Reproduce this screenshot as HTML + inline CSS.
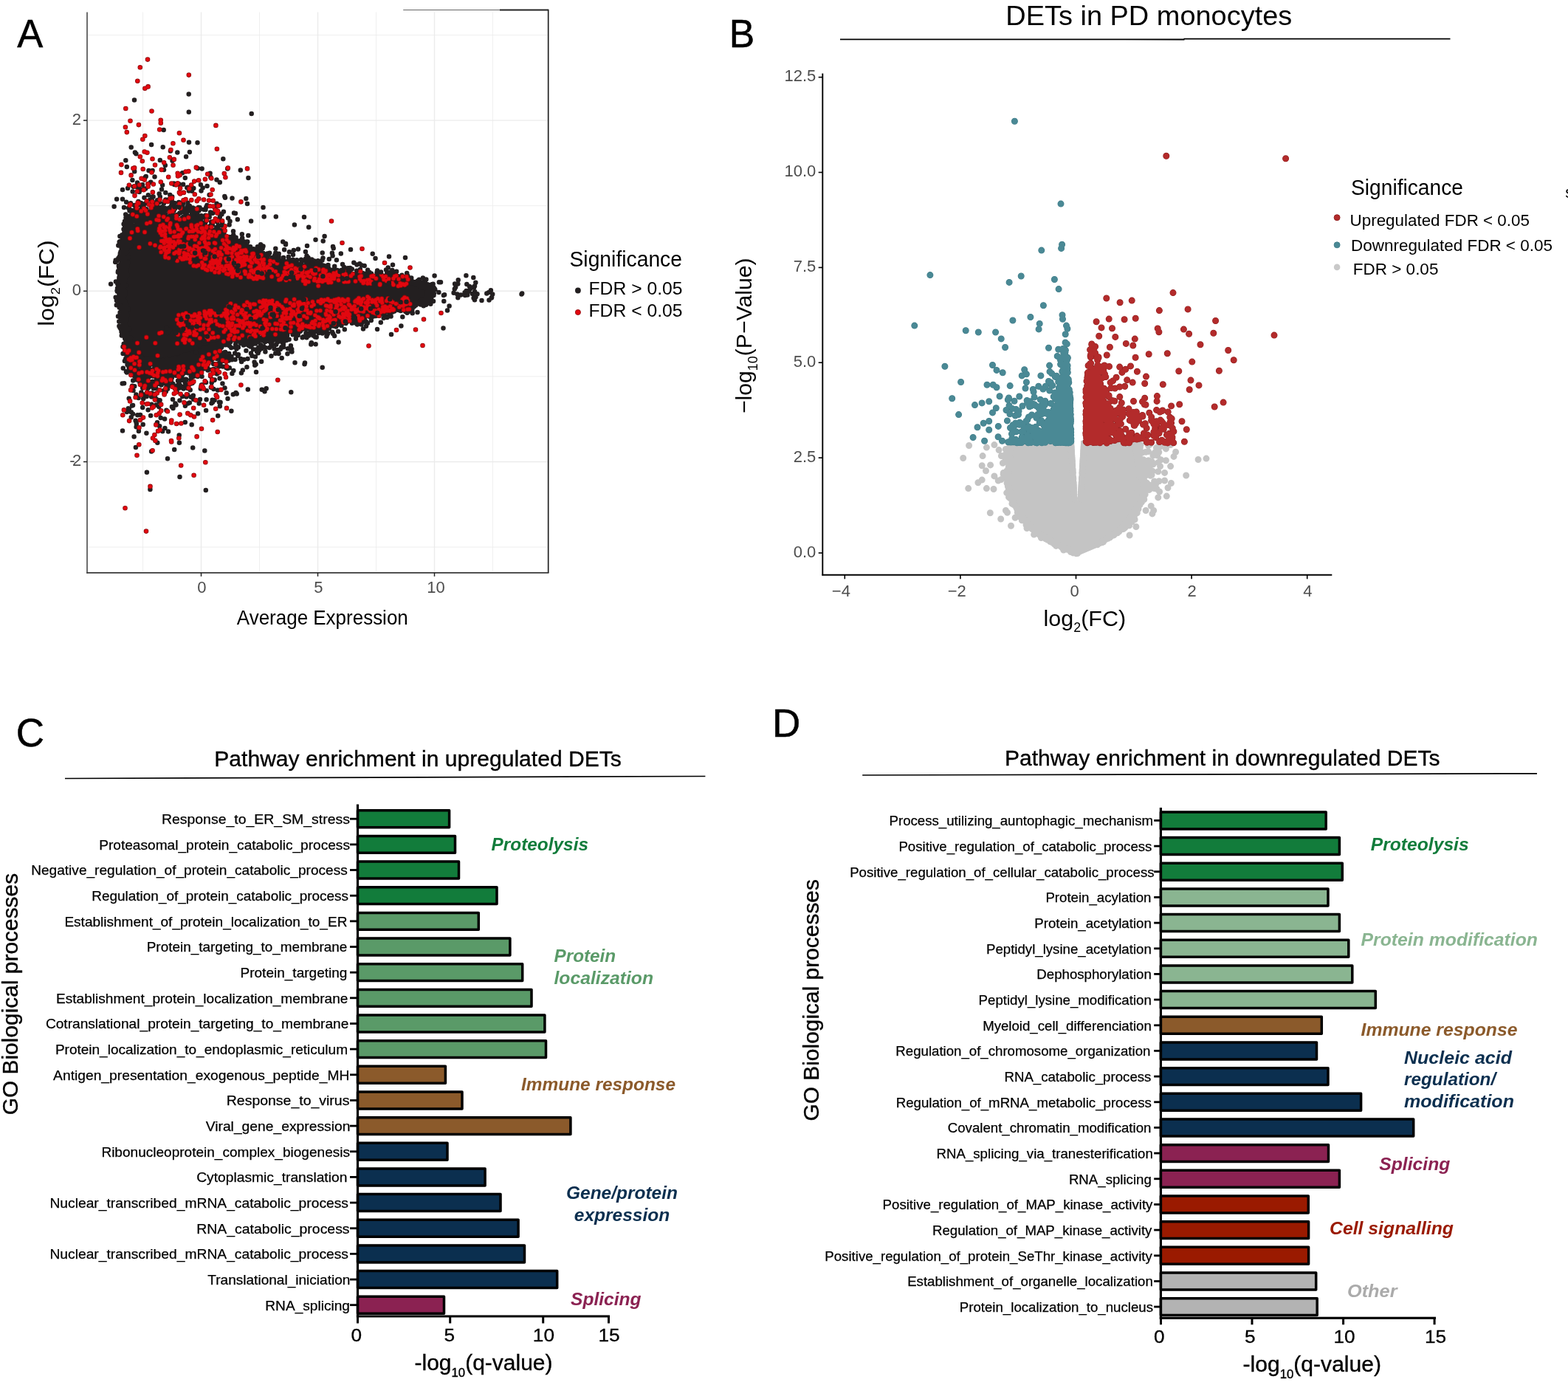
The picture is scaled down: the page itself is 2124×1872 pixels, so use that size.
<!DOCTYPE html>
<html lang="en"><head><meta charset="utf-8"><title>DETs in PD monocytes</title>
<style>
html,body{margin:0;padding:0;background:#fff}
body{width:2124px;height:1872px;overflow:hidden}
svg{display:block;font-family:"Liberation Sans",sans-serif}
</style></head><body>
<svg width="2124" height="1872" viewBox="0 0 2124 1872" role="img" aria-label="Figure: DETs in PD monocytes">
<rect width="2124" height="1872" fill="#fff"/>
<g>
<line x1="119.0" y1="741.1" x2="741.7" y2="741.1" stroke="#ebebeb" stroke-width="0.8"/>
<line x1="119.0" y1="625.5" x2="741.7" y2="625.5" stroke="#ebebeb" stroke-width="1.4"/>
<line x1="119.0" y1="509.9" x2="741.7" y2="509.9" stroke="#ebebeb" stroke-width="0.8"/>
<line x1="119.0" y1="394.3" x2="741.7" y2="394.3" stroke="#ebebeb" stroke-width="1.4"/>
<line x1="119.0" y1="278.7" x2="741.7" y2="278.7" stroke="#ebebeb" stroke-width="0.8"/>
<line x1="119.0" y1="163.1" x2="741.7" y2="163.1" stroke="#ebebeb" stroke-width="1.4"/>
<line x1="119.0" y1="47.5" x2="741.7" y2="47.5" stroke="#ebebeb" stroke-width="0.8"/>
<line x1="193.5" y1="16.5" x2="193.5" y2="774.8" stroke="#ebebeb" stroke-width="0.8"/>
<line x1="272.5" y1="16.5" x2="272.5" y2="774.8" stroke="#ebebeb" stroke-width="1.4"/>
<line x1="351.5" y1="16.5" x2="351.5" y2="774.8" stroke="#ebebeb" stroke-width="0.8"/>
<line x1="430.5" y1="16.5" x2="430.5" y2="774.8" stroke="#ebebeb" stroke-width="1.4"/>
<line x1="509.5" y1="16.5" x2="509.5" y2="774.8" stroke="#ebebeb" stroke-width="0.8"/>
<line x1="588.5" y1="16.5" x2="588.5" y2="774.8" stroke="#ebebeb" stroke-width="1.4"/>
<line x1="667.5" y1="16.5" x2="667.5" y2="774.8" stroke="#ebebeb" stroke-width="0.8"/>
</g>
<polygon fill="#231f20" stroke="#231f20" stroke-width="5" stroke-linejoin="round" points="160.7,375.8 166.8,348.3 173.0,320.8 194.3,304.3 215.7,304.3 255.4,314.0 285.9,323.6 316.4,337.3 347.0,348.3 377.5,359.3 438.6,368.1 499.6,373.6 554.6,379.1 585.1,389.5 585.1,403.3 554.6,415.6 499.6,428.0 438.6,439.0 377.5,447.2 316.4,458.2 285.9,469.2 255.4,480.2 224.9,488.4 194.3,485.7 173.0,458.2 166.8,436.2 160.7,403.3"/>
<path d="M166 429.2h0M183.1 305.6h0M353.5 450.5h0M263.7 299.6h0M587.5 399.9h0M175.2 292.8h0M337.1 468.3h0M481.6 431.4h0M383.7 445.3h0M194.9 488.2h0M262.3 255.1h0M254 534.5h0M247.9 275.8h0M310.6 304.6h0M202.2 499.4h0M423.1 365.1h0M448.5 370.5h0M188.5 490h0M259.7 315.2h0M184.7 476.3h0M257.5 505.7h0M243.4 484.2h0M305.2 477.1h0M375 360.5h0M545.3 429.3h0M213.5 510.4h0M208.1 486.8h0M223.7 305.1h0M353.9 349.2h0M300.4 290.2h0M255.4 305.7h0M422.3 351.5h0M502.8 433.9h0M320.8 456.7h0M466.9 362.9h0M172.7 324.4h0M248.1 249.7h0M441.5 436.7h0M302.5 317.5h0M195.8 489.8h0M403.2 447.6h0M288.8 473.9h0M364.5 355.3h0M448.8 368.4h0M399.5 491.2h0M248.1 307.4h0M339.1 334.2h0M421.5 441.1h0M347.2 348.9h0M410.6 444.9h0M238.5 548.6h0M259.9 508h0M218.6 305h0M246.7 492.1h0M440.4 369.4h0M246.8 307.4h0M271.9 305.8h0M223.9 289.5h0M481 430.7h0M175.1 318.1h0M418 454.8h0M400.8 458.7h0M206.2 303.4h0M256.8 490.5h0M203.4 663h0M294.9 485h0M304.1 477.2h0M414.4 358.8h0M500.7 375.8h0M240.1 493.8h0M473.4 433.5h0M379.6 358.9h0M291.4 469.3h0M425.3 353.3h0M181.5 314.3h0M363.5 346h0M385.3 452h0M288.3 482.5h0M171.3 307.2h0M463.8 438.1h0M333.3 336.2h0M576.2 385.3h0M305.8 465.4h0M225.2 301.1h0M229.4 505.5h0M256.4 283.2h0M209.3 498.5h0M193.5 300.8h0M397.3 361.5h0M222.5 294.7h0M216.4 298.7h0M498.9 372.2h0M254.2 492.5h0M185.4 505.4h0M278.1 313.5h0M376.5 461.7h0M270.6 281.2h0M350.8 337.4h0M552.2 414.7h0M278 491.9h0M367.5 482.3h0M396.1 364.5h0M538.9 375h0M446.1 435.9h0M339.2 469.6h0M515.5 376.1h0M349.9 350.5h0M296.2 319.4h0M221.5 305.1h0M586.1 392h0M238.3 508.2h0M570.4 412h0M341.2 339.5h0M168.1 469.7h0M313.7 329.9h0M389 355.7h0M287.3 514h0M285.8 524.7h0M293.8 506.5h0M441.8 360.3h0M526.6 419.2h0M199.4 301.3h0M260.7 477.8h0M290.8 468h0M211.3 525.7h0M431.5 450.1h0M173.4 320.9h0M390.6 446.1h0M430.4 447.7h0M215.7 492.7h0M223.9 519.6h0M219.3 304.3h0M243.2 311h0M166.3 434.8h0M239.2 528.4h0M308.5 540h0M412.7 353.1h0M219.6 513h0M344.4 348.7h0M300.7 466.5h0M402.8 365.2h0M227.3 491.2h0M512.9 376.5h0M260.9 485.6h0M278.7 475.4h0M408.8 446.6h0M198.6 485.9h0M246.4 310.2h0M356.6 347.1h0M354.1 489.7h0M520.5 377.5h0M202.8 297.7h0M444.3 360.3h0M584.3 401.7h0M533.9 370.8h0M228.2 499.1h0M403.7 454.1h0M396.5 442.8h0M220.1 250.8h0M334.1 457.7h0M259.9 302.9h0M562.3 412.1h0M267 476.5h0M438.1 369.8h0M444.4 435.8h0M452.8 435.2h0M418.2 307.7h0M201.9 301.3h0M236.3 490.1h0M429 366.5h0M262.5 290.5h0M163.9 330.1h0M259.8 302.9h0M335.3 327.6h0M422 353.5h0M525.4 377h0M207 504.1h0M307.2 464.7h0M263.4 295h0M213.7 298.7h0M381.2 358.6h0M173.4 298.3h0M296.2 320.5h0M385.4 444.5h0M253.6 310.2h0M263.5 498.2h0M359.4 476.6h0M258.5 483.4h0M224.1 496.1h0M510 377h0M335.5 486.1h0M466.8 446.3h0M189.5 290.2h0M589.3 392.3h0M441.6 370.5h0M507.1 377.5h0M185.2 309.4h0M236.5 274.9h0M389.7 444.7h0M214.4 305.2h0M274.4 314h0M165.7 346.6h0M220.3 510.9h0M203.9 488.9h0M173.5 487.7h0M386.5 355.5h0M234.4 490.4h0M421.5 441.8h0M407.3 363.3h0M200 300.5h0M291.2 470.6h0M175.4 283.6h0M513.5 377.1h0M515.8 436.8h0M214.9 292.3h0M431.9 443.8h0M224.5 496.8h0M184.4 507.3h0M195 495.8h0M319.5 532h0M366.7 355.7h0M227.1 488.7h0M262.4 294.6h0M453.2 365h0M254.6 295.4h0M183.2 285.1h0M235 280.9h0M313 321.7h0M288.5 300.2h0M216.6 303.4h0M387.6 451.1h0M210.7 300.2h0M582.5 401.2h0M564.1 412.3h0M548.3 416.3h0M367.9 449.8h0M326.9 463.1h0M240.2 308.4h0M168.9 489.1h0M262.3 288.1h0M272.9 521.4h0M279.6 474.7h0M345.7 343.3h0M424.2 362.8h0M445.5 437.7h0M472.6 365.9h0M242.3 249.2h0M260.8 316.2h0M354.8 350.9h0M275.6 316.7h0M182.4 484.6h0M253.3 484.3h0M532.5 418.6h0M395.9 354.1h0M284.8 319.2h0M547.3 376.8h0M235.1 498.7h0M513.1 373.4h0M257.8 493.8h0M190.7 489.8h0M226.7 306.5h0M223.9 298.8h0M421.7 368.1h0M389.4 354.4h0M443 368h0M343.5 461.5h0M192.3 490.4h0M191 274.9h0M259.6 309.6h0M561.1 414.2h0M412.4 361.1h0M226.5 511.3h0M296.2 329.8h0M271.8 526.6h0M206.2 293.1h0M254.1 253.8h0M320.4 328.4h0M269.4 306.8h0M325.8 340.7h0M221.6 488.8h0M539.2 418.5h0M294.6 475.5h0M452.9 437.3h0M397.8 452h0M338.4 465.7h0M223 495.7h0M228.7 298.5h0M381.6 356.7h0M178.2 474h0M184.7 492.3h0M279.6 541.2h0M244.2 488.5h0M442.1 368.5h0M532.5 373h0M229 491.5h0M436.7 497.7h0M574.6 386h0M243.6 496h0M262 288.6h0M339.6 458.3h0M206.5 272.4h0M231.6 515.3h0M397.8 450.4h0M307.9 464.7h0M233.4 485.7h0M316.2 318.3h0M235.1 308.4h0M490.1 428.7h0M224.6 514h0M294.9 325.7h0M218.3 489.7h0M185.6 513.4h0M317.8 321.4h0M203.5 485.8h0M373.6 449.1h0M312.9 332.5h0M222.4 489.3h0M258.7 308.1h0M285.2 323.2h0M171.6 326.5h0M388.6 362.9h0M285.3 240h0M354.3 335.3h0M277.7 305.2h0M254.6 503.3h0M369.1 353h0M261 488.3h0M277 491.2h0M253.9 499.5h0M447.3 370.6h0M251.5 283.3h0M453.9 368.5h0M483.2 366.7h0M169 333.4h0M493.7 359.9h0M281 292.4h0M330 467.4h0M452.7 436.8h0M451.5 371.3h0M286.7 500.7h0M254.2 280.1h0M223.4 580h0M208.7 492.1h0M486 431.9h0M439.3 437.2h0M360.7 450.4h0M199.7 512.9h0M406.8 448.8h0M289.9 324.8h0M165.3 441.2h0M536.9 417.8h0M434.9 360.5h0M174.6 312.2h0M218.9 289.5h0M285.1 287.6h0M185.2 514.4h0M256.1 302.2h0M176.6 315.9h0M207.2 502.1h0M231.1 291.2h0M470.5 432.2h0M218.7 287.2h0M276.3 321.9h0M324.2 326.9h0M322.9 480.3h0M186.8 503.5h0M262.2 541h0M450.6 346.4h0M339.9 454.8h0M296.9 544.8h0M484.8 374h0M356.9 351.7h0M207.4 487.4h0M340.2 460.4h0M522.6 378.3h0M574.7 406.1h0M183.5 309.8h0M185.2 512.2h0M197.5 490.3h0M334.5 334.9h0M287.7 541.8h0M298.2 311.5h0M272.3 500.4h0M577.3 378.6h0M358.8 354.8h0M260.1 313.9h0M277.1 482.4h0M439.5 367.3h0M458.6 463.4h0M298.2 328.4h0M485.8 428.6h0M289.6 466.5h0M194.2 494.8h0M393.5 449.3h0M183.6 309.8h0M251.9 310.2h0M378.1 353.9h0M387 330.1h0M271.9 482.9h0M273.7 521.2h0M235.8 490.2h0M537.1 367.7h0M554.5 415.3h0M253.7 492.2h0M429.6 366.5h0M231.5 494.1h0M171.9 479.6h0M548.3 418.9h0M431.8 451.1h0M376.5 345.7h0M184.4 507.6h0M368.9 467.3h0M185.6 486.4h0M250.8 572h0M174.1 459.7h0M552.9 413.4h0M205.7 284.7h0M317.8 333h0M552.2 375.2h0M492.6 430.5h0M236.5 498.3h0M281 321h0M280.6 478.7h0M417.4 355h0M249.7 513.7h0M360.9 452.4h0M325.4 334.4h0M220.9 291.2h0M238.1 526.9h0M419.3 360.5h0M227 492.6h0M223.8 224.1h0M170.3 315.7h0M224.1 493.5h0M443.3 441.8h0M191.6 503.3h0M273.2 316.2h0M452.1 368.5h0M285.9 470.2h0M279.8 529.3h0M289.1 500h0M285.2 319.1h0M301.1 464.9h0M417.5 349h0M313.2 470.9h0M409.7 364.2h0M251.4 501.1h0M199.9 495.1h0M226.6 494.8h0M502.9 370.4h0M563.8 385.4h0M220.7 509.4h0M359.9 352.6h0M502.1 425.6h0M404.2 365h0M549.3 422.1h0M233.5 217.8h0M244 490.5h0M212.8 510.1h0M267.3 483.4h0M191.3 493.9h0M334.3 327.4h0M438.6 438.4h0M427.9 449.1h0M514.3 375.8h0M306.6 498.3h0M574.3 385.7h0M298.6 544.9h0M587.3 389.2h0M293.6 322.7h0M372.8 346.2h0M438.2 442.5h0M243.9 507.6h0M169.2 354.1h0M378.6 449.3h0M445.6 439.1h0M427.1 441h0M277 319h0M242 508.5h0M223.9 508.9h0M219.1 301.4h0M308.8 326.2h0M171.6 456.3h0M196.1 498.5h0M286.7 317.8h0M238.5 503h0M275.9 318.2h0M221.8 507.7h0M525.7 378h0M339.7 347.6h0M364.4 448.6h0M275.8 304h0M189.1 492h0M497.8 370.7h0M422.5 443.9h0M504.7 343.7h0M450.4 370.4h0M523.5 377.3h0M363.2 353.2h0M533.8 379.4h0M506.6 376.1h0M301.6 489.1h0M335.7 465.8h0M180.2 494.1h0M282 322h0M226 492.2h0M193.7 493.6h0M305.9 463h0M482 428.7h0M214.1 492.6h0M331.9 466.7h0M369.4 447.9h0M257 499.5h0M185.4 473.3h0M433.7 363.3h0M490.8 369.7h0M204.7 500.7h0M409.5 365.5h0M198.9 639.8h0M276.6 316.6h0M575.8 382.6h0M445.2 437.6h0M392.2 443.9h0M385.8 357.9h0M248.7 485h0M559.1 416.9h0M519.7 430.8h0M341.4 343.7h0M213.2 302h0M326.5 341h0M562.9 412.7h0M271.6 478.9h0M224.3 260.9h0M245.3 306h0M382.5 357.9h0M417.4 440.2h0M408.4 446.2h0M564.5 383.7h0M186 479.6h0M215.6 298.1h0M270.2 308.4h0M368.2 452.1h0M232.8 511.7h0M379.1 455.4h0M234.4 494.8h0M368.9 349.1h0M383.2 327.6h0M197 498.3h0M530.7 422h0M436.2 369.4h0M237.3 298.8h0M211.3 304.9h0M373.2 450h0M228.7 304h0M442.8 437.4h0M499.9 372.6h0M367.5 354.7h0M471.6 373.3h0M577 405.7h0M298.4 328.1h0M389.1 453.9h0M251.2 483.9h0M218.6 286.7h0M267.8 509.9h0M378 447.9h0M237.3 485.1h0M347.4 347.6h0M285.4 476.8h0M258.7 487.2h0M376.4 455.2h0M341 459.7h0M573.8 414.2h0M260.6 317.3h0M286.3 313.7h0M202.9 499.9h0M388.8 460.6h0M538.3 418.3h0M441.7 445.7h0M583.7 392.2h0M539.2 379.2h0M469.7 436.3h0M363.4 454.5h0M420.1 439.6h0M238.4 488.5h0M362.6 448.8h0M216.5 302.2h0M209.6 521.4h0M362.4 352h0M208.7 288.5h0M189.7 492h0M218.5 287.7h0M449.7 437.3h0M232.9 301.1h0M277.1 483.9h0M226.6 501.5h0M322.8 333.8h0M392.2 357.1h0M341 344.7h0M171.4 316.4h0M332.5 464.5h0M434.5 448.9h0M230.9 204.6h0M210.7 276h0M408.2 442.9h0M226.4 493h0M203.9 508.3h0M303.9 332.4h0M279.3 280.5h0M177.8 295.9h0M196.2 501.2h0M305.1 483.5h0M280 473.9h0M539.2 416.2h0M178.1 471.3h0M455.2 442.5h0M326.1 465h0M296.5 316.4h0M398.9 360.6h0M223 288.2h0M553.8 421.7h0M400.3 453.3h0M489.7 359.3h0M213.1 492.1h0M528.2 420.6h0M418.8 443.4h0M259 513.8h0M367.4 449.3h0M309.2 324h0M256.3 482.6h0M190.3 506h0M278.1 300.9h0M255.7 298.8h0M454.3 435.1h0M509.6 377.5h0M172.1 319.4h0M256 310.6h0M172.5 494h0M169.3 328.7h0M243.3 311.9h0M265.6 484.1h0M332.7 330.2h0M362.7 355.1h0M420.9 365.5h0M265.1 475.3h0M242.7 517.7h0M202.1 494.4h0M190 277.3h0M506.1 376.2h0M212.7 277.8h0M234.5 485.3h0M184.3 298.7h0M179.3 490.5h0M233.4 492.3h0M245.7 496.9h0M261.2 315.5h0M240.1 500h0M296.8 329.5h0M481.2 429.9h0M241.1 490.1h0M383.7 466.9h0M271.9 299.4h0M393.7 472.4h0M201 286.9h0M208.5 277.7h0M220.7 300.7h0M198.6 487h0M190.9 307.3h0M344.1 348.3h0M349.4 474.5h0M206.6 231h0M254.5 300.5h0M522 378.4h0M191 508.4h0M544.7 380.9h0M371.5 472.6h0M231.4 492.2h0M423.6 444.4h0M533.4 378.6h0M174.7 539.8h0M565.7 380.4h0M269.8 300.2h0M253.1 288.2h0M528.9 420.2h0M262.7 299.9h0M388.2 358.5h0M210.2 491h0M190.1 285h0M505.4 424.1h0M285.8 487.6h0M319 337.1h0M403.2 359.1h0M188.3 508.3h0M222.7 295.4h0M318.7 458.3h0M377.9 359.6h0M315.6 336.6h0M372.4 455.3h0M200.6 525.7h0M264.7 497.6h0M301.4 519.6h0M392.6 359.5h0M175.5 285.6h0M551.1 415.6h0M224 304.8h0M493.2 370.4h0M478 372.5h0M314.6 330.6h0M375.1 360.5h0M302.9 286.8h0M192.9 297.3h0M251.6 311.9h0M439 438.5h0M399.1 447.5h0M171.3 305.5h0M508.9 427h0M508.1 426h0M251.4 519.6h0M330.8 334.9h0M187.1 302.4h0M209.5 239.5h0M182.6 309.8h0M176.7 318.5h0M280.5 311.5h0M293.2 494h0M233.3 487.8h0M492.2 371.9h0M240.4 305.7h0M345.8 465.4h0M193.3 502.1h0M298.4 479.8h0M426 368.8h0M557.4 383h0M430.4 439.1h0M519.8 375.7h0M186.7 299.1h0M200.1 492.3h0M459.5 371.7h0M240.5 506.4h0M532 376.6h0M543.4 441.4h0M238.3 305.5h0M442.5 440.9h0M456.2 371.4h0M228.1 305.1h0M322.1 481.8h0M223.4 492h0M452.1 368.7h0M338.7 469h0M214.7 304.5h0M529.9 373.8h0M569.7 385.8h0M286.5 546.3h0M406 357.5h0M231.2 270.8h0M207.1 509.5h0M271.9 318.5h0M282.4 308.5h0M356.5 333.5h0M223.1 304.3h0M211 488.8h0M163.6 343.3h0M177.8 306.7h0M294.5 475.5h0M202.9 502.5h0M460.7 372.3h0M246.4 283.7h0M427 456.4h0M429.8 367h0M232.6 274.5h0M212.1 287.9h0M434.5 358.4h0M178.3 314h0M294.4 300.8h0M381 359.7h0M274.9 489.6h0M381.9 358.5h0M235.5 248.6h0M211.9 303.7h0M456.9 366h0M229.7 283.1h0M174.7 304.2h0M462.7 432.9h0M167.1 434.4h0M329.9 333.6h0M291.5 470h0M256.2 306.8h0M268.3 307.3h0M264.9 300.1h0M289.4 526.9h0M201 507h0M357.1 469.2h0M583.2 404.1h0M303.3 314.4h0M437.4 370.5h0M512.7 374.4h0M410.6 445.6h0M436.2 437.6h0M217.6 492.7h0M204.1 491.2h0M434.1 361.1h0M220.7 493.3h0M238 495.9h0M278.3 309.5h0M331.9 337.8h0M196.5 288h0M265.2 316.1h0M173.1 328.6h0M289.6 318.6h0M187.5 483.5h0M540.7 379.8h0M541.8 379.2h0M211.9 514.2h0M442.8 438.3h0M224.8 301.2h0M257.6 315.2h0M437.7 359.6h0M256.7 308.8h0M410.9 364.3h0M280.3 493.7h0M260 315.8h0M538.3 380.5h0M420.8 354.4h0M487.8 430.3h0M583.9 390.9h0M395.2 472.9h0M491.9 435.9h0M260.5 308.3h0M258.3 315.1h0M251.2 311.7h0M486.7 373.7h0M467.5 373.5h0M221.8 283.5h0M164.7 361.2h0M290.6 477.5h0M300.1 324.4h0M418.6 359.5h0M255.6 493.9h0M432.9 368.7h0M258.4 304.4h0M342.4 456.7h0M282.2 483.8h0M207.3 300.8h0M361.7 449h0M583.3 402.8h0M228 515.5h0M255.7 127.6h0M372.8 452.6h0M207.7 493.4h0M529.8 377h0M508.5 377.1h0M570.4 407.3h0M223.8 501.3h0M236.1 504.7h0M427.8 365h0M562.9 382.8h0M525 374.7h0M265.4 316.8h0M279.1 555.9h0M439.8 442.5h0M195.6 534.5h0M208.9 525.2h0M234.4 303.4h0M203.4 493.9h0M237.9 305.8h0M196.6 304.7h0M182.9 483.2h0M278.7 480.7h0M242.7 492.9h0M184.2 468.3h0M485.1 432.6h0M400.3 364.5h0M271.6 496h0M200.4 297.4h0M268.7 303.6h0M193.1 486.5h0M196.6 504.8h0M358 455.1h0M323.3 460.4h0M231.1 304.5h0M559.1 383.3h0M191.4 531.4h0M352.3 346.9h0M210.1 487h0M549.2 381.3h0M259.2 286.6h0M201.8 532.7h0M388.4 362.7h0M530.6 378.8h0M426.3 441.1h0M440.1 444.3h0M252.9 524.6h0M172.6 310.7h0M531.6 377.5h0M575 385.2h0M368.8 461.9h0M193.2 490.3h0M278.7 300h0M565.3 410.3h0M167.8 342.9h0M433.9 442h0M262.6 480.1h0M576.1 408.6h0M426.7 362h0M191.4 256.8h0M188.5 305.2h0M530 376.4h0M324.1 458.5h0M190.1 291.1h0M531.3 366h0M564.1 385.1h0M481.3 433.5h0M494.2 430.6h0M195.1 299.9h0M251.2 501.8h0M424.1 448.6h0M493.9 372.9h0M337.3 465.6h0M296.1 322.8h0M225.8 272.3h0M565.5 383.9h0M229.3 307.7h0M191.1 297.2h0M230.8 290.7h0M162.8 429.8h0M375.1 354.5h0M207.7 521.3h0M288.7 318.8h0M496 428.6h0M337.6 341.5h0M304.1 312.3h0M513.4 423.4h0M307.9 328.5h0M410.9 366.4h0M563.9 409.4h0M256.1 308.3h0M428.3 360.7h0M309.9 328h0M273.9 314.3h0M328.8 501.5h0M291.6 281.9h0M205.7 286.2h0M497.3 372.9h0M507 424.2h0M170.7 322.2h0M222.6 305.1h0M576.2 388.9h0M552.2 417.7h0M453.4 366.7h0M387.9 461h0M267.9 285.9h0M182.9 312.1h0M376.2 473.9h0M185.3 480.3h0M243.9 498.2h0M235.5 303h0M249.7 480.7h0M396.7 453.2h0M247.1 537.1h0M427.2 442.9h0M336.4 241h0M177.8 481h0M267 317.7h0M183.1 471.4h0M353.2 343.3h0M585.6 391.3h0M267.6 495.8h0M191 297.1h0M201.8 297.7h0M253.9 311.7h0M226.5 302.9h0M243.1 525.5h0M356.7 352.2h0M371.4 358.4h0M351.4 344h0M186.5 307h0M250.7 504.8h0M320.9 340.2h0M543.6 417.5h0M351.1 343h0M174.5 461.9h0M462.1 435.5h0M259 313.1h0M172.7 460.4h0M254.6 313.9h0M174 316.4h0M415.4 457.3h0M441.9 441.9h0M265.2 316.9h0M294.1 475.1h0M188.1 310.2h0M220.9 301.3h0M266.5 315.7h0M274.6 254.4h0M247.6 501.8h0M222.4 509.4h0M399.3 449.1h0M231.5 503.9h0M198 507.1h0M555.3 414.8h0M452.3 435.3h0M481.6 437.4h0M468.5 437.9h0M218.1 509.9h0M223.4 305.2h0M295 528.5h0M354 341.4h0M265.2 506.1h0M265.2 300.2h0M336 464.3h0M542 419.3h0M542.2 417.9h0M495.8 375.3h0M293.3 308h0M240.9 298.7h0M326.1 485.9h0M251.7 294.2h0M232.8 270.1h0M170.5 322.6h0M249.9 309.8h0M286.1 300.5h0M185.7 303.7h0M181.4 310.1h0M241.2 521.4h0M428.2 441.1h0M178.4 313.1h0M238.3 310.4h0M544.4 372.7h0M235.1 495.5h0M250.1 300.2h0M267.4 508.9h0M275.6 473h0M438.3 448.2h0M164.4 428.4h0M388.7 448.7h0M213 301.7h0M477.7 433.9h0M257.5 310.6h0M291.5 468.3h0M499.7 370.9h0M237.3 295.6h0M281.1 498.3h0M528.6 368.8h0M258.5 492.4h0M171 329.2h0M250.5 283.6h0M256.2 484.7h0M257.3 297.5h0M169.7 448.3h0M181.6 478.8h0M235.9 302.3h0M257.4 308.5h0M257.7 528.2h0M494.3 372.2h0M343.6 459.4h0M221.2 288.8h0M268 487.8h0M220.2 584.2h0M310.8 498.3h0M391.9 341.3h0M273.3 310.6h0M444.5 359h0M234 489.4h0M279.1 472.1h0M237.2 305.7h0M232.5 298.1h0M505.7 375.9h0M326.3 454.1h0M433.8 444.4h0M235 276.1h0M188 488.5h0M319.7 464h0M343.4 348.1h0M167.7 340.9h0M325.4 458.5h0M454.2 435.2h0M292.5 467.6h0M202.5 488.4h0M180.4 490.9h0M461.2 434.2h0M262.2 502.3h0M300.4 468.7h0M474.9 370.8h0M252.8 486.9h0M230.3 264h0M423.3 440h0M169.2 458.5h0M474.6 373.2h0M203.1 292.4h0M370.7 357.5h0M428.4 440.8h0M285.5 473h0M173.6 294.2h0M350.5 337.1h0M184.7 511.4h0M485.4 431.8h0M282.2 489h0M203.8 304.4h0M408 357.2h0M436.5 437.7h0M303 462.2h0M221.8 292.7h0M192.5 497.6h0M288.1 544.7h0M223 305.2h0M323.5 340.9h0M234.5 279.3h0M297.6 317h0M195.4 493.9h0M393.3 443.4h0M219 509.4h0M310.4 480.3h0M173.1 255h0M225.8 293.6h0M236.1 491.4h0M201 288.9h0M231.7 266.6h0M298.8 471.8h0M320.4 472.5h0M400 446.5h0M329.7 327.1h0M307.9 326.3h0M476.8 364.5h0M166.5 469.8h0M214.4 291.4h0M232 515.9h0M280.3 320.8h0M569.8 412.4h0M442.4 455.4h0M182.2 232.2h0M502.7 376.5h0M197.1 498.1h0M536.4 377.1h0M267.7 284.9h0M268.2 501.4h0M183.3 474.4h0M166 269.8h0M475 374h0M221.7 511.8h0M395.9 352.3h0M428.4 439.9h0M265.6 490h0M217.1 294.1h0M212.2 514.6h0M231.3 308.5h0M381.3 358.6h0M200.2 286.4h0M545.3 416.6h0M505.1 376.7h0M505.1 428.8h0M395.1 443.2h0M221.8 299.7h0M489.1 373.7h0M564.9 410.1h0M251 296.5h0M581.2 403.8h0M190.6 484.9h0M537.5 378.2h0M261.1 310.9h0M298.1 483.7h0M443.8 370h0M254.4 315.8h0M366.9 464.4h0M437.6 448.9h0M323.7 339.2h0M296.7 485.5h0M334.4 332h0M233.1 486.3h0M302.9 326.1h0M578.4 403.6h0M525.7 362.5h0M263.3 302.7h0M230.5 492.4h0M453.2 360.7h0M564.8 382.3h0M265.7 488.2h0M245.3 304.6h0M234.9 491.6h0M378.3 461h0M450.2 370.2h0M268.4 476.8h0M501.1 429.2h0M213.7 541.8h0M278.5 471.5h0M534.2 420.4h0M393.3 358.3h0M536.2 374.8h0M363.8 455.4h0M185.3 303.4h0M315.6 460.1h0M416.3 366.4h0M170.9 457.8h0M424.4 446.5h0M420.2 443.8h0M186.9 489.3h0M335.7 339.9h0M469 371.6h0M235.6 308.1h0M415.7 440.3h0M182.8 475.8h0M403.5 364.3h0M303.1 316.2h0M393 445.5h0M313.5 482.9h0M402 352.3h0M586.6 384.7h0M554.9 379.1h0M189.1 501.5h0M279.1 320.5h0M216.6 495.7h0M348.9 334.3h0M205.1 297.9h0M397.8 338.9h0M195.2 300.8h0M321.3 329h0M360.9 347.3h0M319.6 321.8h0M309.3 331.1h0M287.8 469.4h0M477.3 372.7h0M229.8 506.1h0M333.4 344h0M386.6 363.1h0M225.3 304.7h0M413.9 341h0M504.3 375.9h0M254.4 274.8h0M183.9 472.8h0M544 417.6h0M281.3 478.6h0M171.6 304.5h0M175.6 306.3h0M382.2 463.4h0M220.6 285h0M278.8 314.5h0M193.2 551.9h0M219 256.5h0M260.9 497.9h0M168.9 333.3h0M334.6 342.1h0M163.8 445.7h0M270.9 283.2h0M282.3 484.7h0M285.9 319.4h0M321 337.6h0M279.2 477.5h0M293.1 328.5h0M382 457.8h0M258.1 310.2h0M282 470.3h0M168 445.8h0M431.7 368.2h0M224.4 489h0M437.7 326.6h0M252.7 487h0M587.5 390.7h0M244.1 302.2h0M256.3 495.9h0M491.8 430.6h0M469.7 434.4h0M500.5 428.4h0M241.3 279.7h0M194.2 540.2h0M398.2 363.9h0M339.3 340.8h0M219.4 518.7h0M440 441.8h0M218.2 304h0M528.5 419.5h0M269.8 311.3h0M202.3 522.4h0M398.6 363.9h0M350.6 459.3h0M419.5 442.4h0M374.5 349.5h0M236 488.1h0M295 325.7h0M185.8 472.4h0M529.9 379.6h0M227.3 295.5h0M203 486.6h0M258.9 298.7h0M278.4 319.2h0M301.1 319.7h0M228.2 283.9h0M413.7 444h0M173.8 300.2h0M551.5 423.7h0M274.1 494.2h0M209.1 286.6h0M184.4 496.3h0M400.9 443.6h0M342.4 457.6h0M538.1 380.8h0M365.2 342.7h0M204.2 246.7h0M327.9 457.5h0M453.6 436.9h0M185.9 473.7h0M272.5 258.6h0M175.8 494.4h0M464.8 372.9h0M179.8 296h0M232.8 507.5h0M194.6 301.7h0M292.9 326.7h0M250.7 299.1h0M553 380h0M202.7 493.1h0M239.5 299.9h0M317 288.6h0M389.9 449.7h0M213.2 493.7h0M194.3 278.7h0M301.2 301.5h0M414.4 357.9h0M532.2 378.3h0M192.6 304.1h0M259.2 519.4h0M533.1 418h0M241.6 506.9h0M564.7 381.5h0M507.9 376.9h0M179 481.5h0M225.8 487.3h0M319.7 458.1h0M214.7 304.7h0M581.9 392.5h0M293.9 486.1h0M260.6 519h0M192.1 280.7h0M301.7 496.4h0M230.6 505.3h0M347.7 455.5h0M391.9 361.8h0M301.6 331.7h0M314.1 487.3h0M452.3 369.8h0M269.9 492.7h0M190.6 295.6h0M204.9 294h0M390.8 347.9h0M353.2 467.3h0M444.2 370.3h0M314.4 505.9h0M489.7 428.5h0M463.9 435.4h0M177.8 471.8h0M200.6 502.4h0M459.7 367.9h0M468.9 435.2h0M216.3 295.3h0M180 312.9h0M353.2 450.7h0M539.4 416.2h0M295.2 493.7h0M421.7 439.2h0M552.4 381.9h0M241.1 304.1h0M166.8 498.7h0M279.3 322.4h0M311.6 331.1h0M438.1 438.4h0M180.6 502.9h0M204.6 303.3h0M177.8 308h0M267.5 313.1h0M405.9 362.5h0M265.8 504.5h0M443.3 366.9h0M260.7 485.6h0M284.9 312.7h0M414.1 350.4h0M198.3 283.3h0M255.9 312.7h0M532 358.7h0M239 306.2h0M225 297.2h0M176.6 306.3h0M376.1 351.3h0M183.7 470.8h0M191 278.1h0M226.6 509.6h0M295.6 325h0M345.2 494.8h0M171.1 273.8h0M327 332.1h0M269.8 474.7h0M315.4 458.8h0M226.1 499.5h0M505.3 376.9h0M312.4 462.9h0M291.1 475.6h0M162.6 423.2h0M280.6 252h0M409.1 444.1h0M450.6 439.8h0M540.7 416.6h0M377.6 479.1h0M498.4 425.8h0M261 489.7h0M424 452.1h0M249.9 488h0M248.3 492.7h0M195.4 267.8h0M220 285.5h0M224.1 490.2h0M258.6 487.6h0M262.8 292.4h0M271.9 304.7h0M389.9 472.2h0M581.3 403h0M236.8 305h0M350.7 350.5h0M412.7 445h0M208.6 275.4h0M261.2 606.6h0M556.2 412.2h0M292.6 484.5h0M200.5 302.9h0M326.1 334.6h0M215.3 551.1h0M289.2 471.7h0M199.4 298.8h0M304.1 324.4h0M496 374.7h0M386.5 451.9h0M367.3 468.6h0M285.7 317.8h0M217 496.4h0M179.7 259.6h0M534.8 376h0M314.4 332.8h0M298 321.4h0M260.6 479.9h0M259.1 300.3h0M566.2 410.7h0M389.4 479.3h0M276.3 487.1h0M569.4 384.9h0M269.5 318.5h0M385.7 356.3h0M530.1 421.2h0M169.1 316.6h0M188.7 306.2h0M168.4 352.8h0M245 302.2h0M335.6 459.1h0M561.3 414.9h0M184.6 578.2h0M397 345.1h0M254.4 486.8h0M199.5 300.9h0M559.9 383.3h0M313.9 333.5h0M306.2 496.3h0M428.3 441h0M196.8 240h0M366.5 351.9h0M341.3 467h0M208.4 488.2h0M372.2 455.8h0M169 299.7h0M573.8 387.8h0M408.1 444.7h0M356.3 342.7h0M369.5 357.3h0M341.4 482h0M575.6 383.7h0M239.4 298.6h0M229.9 505.5h0M264.3 305.5h0M344.6 490.5h0M213 277.1h0M227.1 487h0M524.3 369.2h0M438.5 370.5h0M531 419.3h0M261.3 302.6h0M445.7 367.2h0M417.5 441.6h0M184.8 489.7h0M231.4 293.7h0M317.7 325.5h0M188.7 260h0M209.3 280.6h0M188.1 477.3h0M383.9 470.3h0M378.3 359.3h0M270 318.7h0M343.5 337.3h0M401.3 445.1h0M215.7 262.6h0M370.9 447.9h0M298.1 317h0M207.6 266.6h0M454.2 435h0M334.9 338.5h0M301.9 463.9h0M218.3 296.8h0M303 484.3h0M232.1 278.7h0M257 482.7h0M582.3 400.5h0M496.4 426.6h0M274 317.9h0M259.9 307.6h0M378.2 357.7h0M375.9 449.4h0M579.8 406.4h0M285.8 320.3h0M173.2 316.5h0M218 300.4h0M418.9 451.6h0M176.2 462.8h0M362.2 354.4h0M557.2 376.5h0M232.8 301.9h0M281.5 501.5h0M410.8 361.2h0M507.9 376.7h0M261.9 482.2h0M268.7 308.9h0M213.3 599.8h0M371.8 359.3h0M291.1 315.3h0M184.9 306.7h0M484.1 375h0M468.4 430.9h0M254.8 312.4h0M211.6 488.8h0M170.6 464h0M207.8 491.1h0M219.2 506h0M213.6 296.7h0M235.6 285.3h0M449.5 368.9h0M381.7 484.9h0M271.4 312.6h0M262.9 489.7h0M294.8 322.3h0M287.3 319.2h0M443.1 453.5h0M165.5 349.5h0M470.3 370h0M487.2 357.2h0M520.8 377.9h0M273.8 315h0M178.6 318.7h0M196.5 499.9h0M268.8 307.5h0M265.9 305.7h0M278.5 284.1h0M405.8 360.6h0M436.2 447.7h0M222.9 499h0M280.1 310.3h0M234.5 552.9h0M318.7 326.6h0M250.4 309.4h0M225.4 520.4h0M203.3 270.5h0M391.6 459.7h0M179.8 500h0M333.3 269.1h0M431.8 367.7h0M513.4 427.7h0M308.2 499.1h0M403.6 364.4h0M581.6 390.5h0M360.7 454.5h0M197.5 304.7h0M388.8 360.7h0M166.5 358.9h0M170.7 465h0M273.4 480h0M274.3 319.3h0M215.8 284h0M487.9 365.1h0M191.6 495.6h0M230.2 300.2h0M328.2 322.6h0M379.7 450h0M305.5 332.7h0M364.9 471h0M254.6 505.2h0M283.7 294h0M347 455.7h0M346.9 339.7h0M260.3 314.9h0M479.6 429.4h0M254.8 280.1h0M281 483.4h0M547.7 376h0M519.2 425.2h0M569.3 383.5h0M177.5 477.6h0M573.7 410.7h0M361.3 349.7h0M204 519.1h0M238.6 523.1h0M564.5 410.3h0M224.2 305.9h0M225.6 487.2h0M302.7 462.9h0M257.7 314.3h0M381 454.8h0M185.3 490.9h0M186.1 477.9h0M371.8 447.3h0M555.1 381.2h0M505.8 427.1h0M552.1 414.3h0M396.6 356.5h0M167.6 348.9h0M209.8 503h0M264.8 487.4h0M259.2 304.6h0M542.8 418.3h0M344.3 462.1h0M573 405.5h0M175 492.5h0M441.7 370.2h0M285.1 509.5h0M399.5 361.9h0M165.5 432h0M259.7 316.4h0M222 230.1h0M336.8 454.8h0M182 484.6h0M169.4 340.1h0M295.7 468h0M237.3 302.7h0M558.6 410.3h0M203.4 304h0M367.2 453.1h0M295.3 465.6h0M535.8 375.4h0M220.3 495.3h0M369.5 355.7h0M281.7 318.8h0M574.7 379.6h0M385.2 448.8h0M252.3 481.5h0M456.3 369.7h0M555.3 380.2h0M223.6 301.2h0M331 461.1h0M187.4 479.2h0M236 291.6h0M284.6 234.8h0M251.9 480.8h0M537.6 378.5h0M517.7 375.8h0M247.7 507h0M507.4 423.7h0M440.6 369.8h0M288.1 469.7h0M247.6 279.8h0M272.7 319.4h0M415.2 444.2h0M461.2 436.1h0M559.7 409.5h0M185.6 498h0M198.5 294.4h0M542.8 420.9h0M310.3 479h0M206.9 490.9h0M527.7 425.6h0M260.4 298.8h0M449.8 437.4h0M523 365.4h0M465.9 361.8h0M573.1 386.4h0M402.1 448.4h0M173 330.5h0M257.7 302.3h0M276.2 499.6h0M277 480.4h0M199 532.8h0M394.5 475.1h0M451.7 336.2h0M428 367.1h0M186.5 307.5h0M445.8 351h0M355 351.7h0M396.3 363.1h0M176 318.6h0M270.2 480.1h0M318.6 487h0M419.4 366.3h0M538.6 373.9h0M306.4 332.7h0M576.3 385.5h0M451.2 451.9h0M436.6 443.9h0M548.5 381.6h0M376.2 452.3h0M375.7 358.1h0M356.7 455.3h0M297.8 294.1h0M474.7 374h0M356.5 281.1h0M209.9 496.2h0M309 463.6h0M327.3 342.2h0M301.9 329.2h0M227.3 303.9h0M225.6 523.8h0M180.5 529.1h0M308.8 326.5h0M476.8 437.7h0M214.5 285.7h0M267.9 504.7h0M582.9 402h0M574.1 383.7h0M350 452.3h0M199.2 522.3h0M387.2 460.5h0M489.8 373.4h0M375.9 463.4h0M299.5 325.8h0M179.4 299.6h0M358.8 352.2h0M278.9 479.5h0M249.7 503.3h0M378.4 360.3h0M198.7 499.9h0M182.8 310.6h0M248.9 481.5h0M229.5 511.1h0M306.4 331h0M355.8 348.9h0M296.3 504.5h0M412.9 366.6h0M224.8 530.2h0M414.6 446.1h0M537.6 377.6h0M175.2 479.8h0M467.9 369.8h0M561.1 413.9h0M243.1 304.4h0M178.3 315.3h0M164.9 353.8h0M187.6 539.1h0M274.4 316.6h0M217.7 495.6h0M565.6 385.7h0M233.2 486.4h0M261.2 281.5h0M456.6 440.6h0M384.7 446.4h0M213 572.2h0M228.1 270.5h0M551.2 369.9h0M226.8 519.8h0M255.8 258.5h0M230.4 295.1h0M257.4 309.7h0M182.1 465.1h0M199.1 510.2h0M195 303.2h0M203.1 299.3h0M421.3 448.4h0M261.8 535.8h0M171.4 312.2h0M224.2 510.2h0M470.8 371.6h0M276 485.3h0M548.7 418.5h0M230 522.2h0M333.4 475h0M286.5 481.7h0M284.5 474.2h0M431.8 368.3h0M265.4 480.8h0M289.4 478.3h0M446.8 441h0M494.3 426.8h0M202 293.1h0M265.8 303h0M284.4 471.4h0M215.7 543.8h0M572.9 376.4h0M552.3 373.8h0M504.1 427.3h0M461.8 343.4h0M249 501.3h0M462.4 365.9h0M263.7 282.4h0M266 490.9h0M212.5 304.7h0M310.5 333.7h0M376.2 449.6h0M187.9 305.2h0M413.7 365.5h0M176.8 466.9h0M370.1 356.2h0M189.5 308.2h0M580.1 405.3h0M197.7 239.1h0M313.2 328.5h0M356.3 461.2h0M501.8 372h0M283.3 315.3h0M272.7 292.2h0M210.7 494.3h0M289.7 481.9h0M312.8 460.2h0M239 291.2h0M185.9 478.9h0M238.4 311.2h0M469.8 370.1h0M457 369.9h0M193 298.9h0M219.2 304.4h0M226.2 293.2h0M238.4 508.7h0M372.2 350.6h0M232.1 490.2h0M547.8 381.1h0M288.1 474.3h0M201.4 510.7h0M206.4 267.3h0M540.2 380h0M264.4 315h0M173.4 316.6h0M242.1 516.9h0M307.2 324.3h0M252 307.8h0M493.5 373.3h0M409.7 457.3h0M429 364.4h0M258.7 306.1h0M513.8 378.1h0M504.4 374.3h0M410.6 445.3h0M239.3 305.8h0M424.7 452.2h0M390.9 359.8h0M393.9 468.2h0M172.5 325.2h0M248.7 300h0M194.5 496h0M373.2 478.7h0M225 300.8h0M419.7 367.7h0M280.6 308.4h0M354.2 352.9h0M183.9 310.2h0M551.5 413.7h0M244 276.2h0M197.6 495.2h0M321.8 297.3h0M558.2 420.6h0M478 373.7h0M253.3 254.3h0M273.5 510.1h0M416.6 445.3h0M171.6 449.9h0M327.9 336h0M431.5 368.8h0M357.4 352.6h0M331.1 342.9h0M354 472.3h0M284.4 322h0M423.3 442.2h0M390.8 361.8h0M217.2 496.1h0M295.7 305.8h0M246.9 485.6h0M247.8 486.4h0M336.3 319h0M357.3 452.4h0M186 303h0M458.9 369.6h0M464.7 432.3h0M427.8 369.4h0M298.7 324.5h0M189.4 517.9h0M432.9 440.4h0M281.7 480.3h0M278.5 498.7h0M504.7 374.7h0M224.3 306.7h0M198.4 586.8h0M559.2 383.8h0M536.6 373.4h0M171.5 483h0M510.5 369.2h0M582.1 390h0M278.9 482.5h0M290.8 325h0M304.8 486.6h0M306 332.2h0M409.5 364.3h0M310.8 336.4h0M267 294.3h0M262 484.5h0M207.5 291.6h0M281 478.3h0M396.7 351.8h0M437.6 368.7h0M384 463.4h0M178.6 290.5h0M246.8 308.9h0M201 303h0M423.3 442.8h0M187.5 308.3h0M464.8 368.8h0M376 458.4h0M285.1 467.9h0M309.4 335.8h0M329.5 465h0M284.5 479.2h0M346.6 452.8h0M165.1 425.1h0M213.1 301.6h0M168.9 306.1h0M259.3 488.3h0M241.3 515.5h0M278.4 291.8h0M195.9 303.5h0M176.4 318h0M545.2 419.8h0M277.7 477.1h0M209.3 509.4h0M222.9 499.6h0M164.5 441.8h0M298.1 328.6h0M422.4 444.5h0M500 427.3h0M223.7 498h0M206.7 301.8h0M242.8 493.4h0M169.2 327.3h0M440.4 440.3h0M246.7 295.3h0M194.1 510.8h0M236.1 488.5h0M356.4 353.5h0M176.6 467h0M483.4 358.4h0M438 448.1h0M249.3 309.5h0M535.9 378.9h0M163.2 346.8h0M192.4 306.6h0M560.1 410.8h0M283.7 293.6h0M346.7 473.5h0M281.1 481.9h0M166.6 358.3h0M450.1 449.8h0M448.2 440h0M276.1 283.7h0M303.9 481.5h0M180.4 291.3h0M227.6 491.1h0M229.2 299h0M245.4 275h0M219.6 490h0M440.8 436.8h0M431.8 370h0M224.4 496.8h0M496.6 371.4h0M269.9 503.5h0M381.3 470.3h0M304.5 525.5h0M213.6 512.5h0M330 334.1h0M410.2 445.5h0M340 478.6h0M281.9 323.4h0M405.6 441.5h0M324 341.4h0M552 377.4h0M230.5 304.2h0M307.8 459.8h0M428.3 367.7h0M212.6 507.8h0M316.3 502.1h0M542.2 379.3h0M247.3 482.7h0M487.3 428.9h0M491 431.2h0M312 329.6h0M214.4 297.9h0M355.6 353h0M185.9 307.5h0M250.9 549.7h0M227.8 301.2h0M278.5 473.1h0M215.8 284.4h0M272.2 297.6h0M182 478.7h0M241 515.8h0M368.1 354.1h0M321.9 456.2h0M203.3 502.2h0M210.9 494.9h0M373.1 460.3h0M364.5 357.1h0M584 402.3h0M510.9 371.2h0M288.7 483.4h0M437.4 439.7h0M295.5 330h0M379.1 358.3h0M193.1 250.3h0M299.9 325.2h0M333.8 336.9h0M254.6 546.6h0M253.4 312.6h0M217.4 491.6h0M272.8 482.9h0M249.4 523.5h0M172.8 474.4h0M254.2 301.8h0M173.5 308.8h0M429.5 438.5h0M164.8 454.5h0M224.4 270.4h0M266.9 305.9h0M390.3 353.2h0M284.3 317.8h0M241.5 290.6h0M534.7 418.8h0M397.1 362.7h0M293.5 469.3h0M198.6 496.3h0M462.5 441h0M200.7 249h0M518.2 376.4h0M335.9 345.6h0M472.9 432.7h0M285 305.7h0M178.5 476.7h0M549.9 415.4h0M259.3 490.2h0M175.9 462.3h0M172.1 445.4h0M172.1 471.1h0M349.1 450.8h0M280.4 277.9h0M278.3 301.3h0M216.4 300.6h0M405.2 448.1h0M256.9 278.9h0M214.5 489.8h0M173.1 303.8h0M436.5 352.6h0M575.1 405.3h0M167.4 444.3h0M208.5 287.4h0M450.7 372.1h0M582.1 406.4h0M524.4 378.4h0M321.6 459.6h0M415.5 346.4h0M377.7 343.8h0M202.5 291.7h0M207.1 504h0M201.6 504.3h0M196.3 295.9h0M530.3 422.7h0M585.3 391.3h0M192.6 304.8h0M455.9 371.3h0M296.5 325.9h0M414.9 366.2h0M257.5 490.1h0M384.4 455.1h0M536.2 417.3h0M271.8 314.3h0M234 541h0M246.8 286.7h0M193.5 511h0M196.8 275.8h0M379.4 456.7h0M282.3 475.9h0M293.5 275.7h0M260 288.8h0M365.5 453h0M198.6 304.8h0M245.3 498.8h0M246.4 492.7h0M213.9 489.1h0M172.9 327.5h0M182 509.2h0M411.5 363.8h0M362.2 349.2h0M267.6 476.3h0M213.4 292.6h0M222 528.9h0M216.6 542.3h0M186.2 491h0M189.5 307.8h0M245.3 494.6h0M455.2 371.2h0M529.5 419.5h0M203 500.2h0M452.5 434.4h0M239.6 530.6h0M432.5 356.5h0M206.8 266.3h0M173.2 461.2h0M419.5 363.2h0M287.6 311.6h0M514.5 374h0M187.3 471.9h0M184.1 289.4h0M569.8 385.5h0M210.5 539.1h0M185.8 479h0M227 496.1h0M166.9 341.8h0M215.7 298.3h0M400.9 358h0M237 282.6h0M420.2 442h0M355.7 336.3h0M292.1 474.9h0M363.8 462h0M453.4 371.4h0M323.5 326.4h0M340.7 154h0M216.6 490.5h0M248.6 526.6h0M321.1 456.4h0M554 378.2h0M268.1 504.7h0M205.4 292.1h0M216.8 266.6h0M389.3 357.9h0M268.7 306.2h0M394.9 447.7h0M208.4 504.6h0M232.1 489.8h0M285.2 487h0M451.6 435.8h0M390.8 445.9h0M446 444.4h0M584.7 387.4h0M435.3 364.4h0M271.9 250.2h0M402.6 365.1h0M271.3 500.4h0M514.5 422.7h0M219 280.4h0M180.9 472.9h0M361.8 353h0M187.4 273h0M291.6 470h0M183.6 569.8h0M484 439.4h0M427.4 366.1h0M349.5 456.9h0M245.9 511.7h0M279.9 491.3h0M246.9 503.2h0M214.8 299.7h0M268.7 502.8h0M298.7 490.8h0M417.5 441h0M290.3 515h0M304 464.2h0M547.2 376.6h0M488 429.6h0M268 501.1h0M335.6 461.2h0M564.3 383.5h0M199.7 515.1h0M280.9 482.8h0M440.4 440.1h0M204.8 271.1h0M424.7 358.5h0M345 347.4h0M268.7 305.4h0M269.6 316.9h0M379.9 362h0M481.7 433.2h0M436.7 342.5h0M277 304.2h0M211.3 502.2h0M413 491.5h0M583.5 402.6h0M447 440.7h0M431.3 365.6h0M445.5 437.1h0M220.7 516.9h0M387 331.3h0M278.7 487.5h0M195.1 487.5h0M400.1 362.4h0M346.7 451.4h0M288.2 475.8h0M536.4 376.7h0M220.8 489.7h0M549 379.1h0M383.3 360.9h0M261 312.4h0M187.6 285h0M167.5 321.8h0M538.8 418.4h0M288.9 317.5h0M196 300.8h0M195.8 302.5h0M369.2 353.6h0M579.6 391h0M267.3 311.7h0M206.9 501.4h0M176 500.6h0M367.7 446.7h0M272.6 318.9h0M277.3 489.6h0M572.4 389.3h0M434.6 440.1h0M550 375.9h0M492 432.3h0M517.4 424.5h0M247.6 481.9h0M285.7 320.5h0M327.1 325.2h0M438.4 437.3h0M272.8 303.5h0M320.7 533.6h0M231.9 308.5h0M202.6 300.8h0M512.9 377.8h0M178.2 303.1h0M183.4 479.8h0M312.7 461h0M193.9 495.8h0M370.2 352.3h0M264.5 488.4h0M183.3 283.2h0M588.5 391h0M318.7 470.8h0M279.8 318h0M221 508.2h0M328.4 459.5h0M473.9 371.5h0M582.6 402.8h0M219.7 506.3h0M187.7 494.7h0M212.5 499.2h0M432.9 439h0M263.9 314h0M271 540.9h0M300 325.1h0M425 440.2h0M353 458.2h0M164.2 356.9h0M242.4 502.1h0M262.9 309.2h0M535.4 418.1h0M216.9 290.8h0M208.5 302.5h0M243 304.3h0M244.1 288.4h0M449 371.2h0M415.3 443.7h0M221.8 281.2h0M335.2 460.3h0M281.5 315.4h0M276.1 471.6h0M202.2 298.5h0M210.2 297.8h0M296.7 496.4h0M268.2 283.3h0M209.2 294.7h0M220.4 299.3h0M488.8 371.6h0M206.9 304.6h0M176.7 317.2h0M470.5 434.8h0M179.9 318.3h0M203.1 295.9h0M225.4 555.7h0M369.6 447.2h0M397.9 353.8h0M266.8 298.6h0M383.9 359.4h0M446 436.6h0M241.7 508.6h0M270.7 493h0M183.9 605.9h0M254.6 279.5h0M585 385.8h0M170.2 290.4h0M349.1 452h0M288.1 288.7h0M192.2 292.1h0M274.2 476.3h0M229.5 281.5h0M334.4 497.3h0M286.7 518.3h0M192.4 511.2h0M217.4 510.9h0M225.8 302.2h0M287.5 323h0M272.9 308.7h0M527.9 376.3h0M217.8 517.5h0M195.9 297.5h0M208 526.2h0M421 439.3h0M221 489.4h0M336.4 456.8h0M189.1 478.8h0M288.2 322.5h0M271 505.3h0M207.9 492.3h0M250.1 312.7h0M428.7 456.7h0M255.3 488.2h0M259 304.3h0M567.5 409.9h0M558.5 413.8h0M458.2 372.1h0M228.8 515.2h0M181.3 311.9h0M268.9 474.3h0M245.4 282h0M182 278h0M359 463.2h0M174.4 484.2h0M187.9 495.2h0M295.2 563.2h0M517.3 377.5h0M376.2 356.9h0M271.7 302.9h0M241.2 521.9h0M200.6 555.3h0M195.9 490.1h0M205.3 547.8h0M242.5 486.8h0M286.8 473.4h0M236.6 496.4h0M243.5 646h0M556.5 419.2h0M239.3 309.8h0M288.1 470.7h0M210.3 298h0M254.6 491.7h0M223.4 300.4h0M256.8 545.6h0M180.3 484.6h0M228.4 494h0M283.8 480.7h0M237 306.6h0M254.4 277.8h0M203.3 487.5h0M215.9 273.9h0M395.4 476.6h0M318.9 288.9h0M291.9 327.4h0M351.9 345.4h0M236.2 487.3h0M388 363.3h0M440.3 440.4h0M232.7 302.7h0M515.9 378h0M289.1 469.6h0M184.4 208.3h0M268.3 476.6h0M437.9 442.6h0M188.1 254.3h0M295.9 312.8h0M276.6 310.2h0M393.7 445.4h0M325.6 342.3h0M208.7 289.2h0M216.6 281.4h0M308.7 332.6h0M262.6 509.8h0M245.9 302.9h0M425.8 438.3h0M588.6 391.1h0M404.3 445.3h0M579.3 403.5h0M178.3 476.7h0M219.5 298.7h0M438.2 440.4h0M189.1 308.6h0M530.6 418.8h0M200.8 302.4h0M264.4 306.7h0M186 480.5h0M199.5 486.1h0M213.3 303.3h0M400.7 443.2h0M425.7 448h0M247.9 309.3h0M257.4 314h0M169.9 343.3h0M246.1 494h0M322.8 470.6h0M385.1 338.2h0M210.7 533.6h0M178.2 470.9h0M270.8 482.8h0M256.7 503.7h0M451.1 441.5h0M283.2 470.1h0M209.4 492.4h0M384.6 353.5h0M204.2 517.8h0M264.7 490.9h0M275.9 320h0M349.6 478.3h0M371.9 350.3h0M243.8 521.8h0M375 358h0M587.7 391h0M353.9 339.9h0M487.2 433.9h0M252 483.2h0M175.9 313.8h0M524 377.1h0M291.2 468.2h0M376.9 361.9h0M494 373h0M283.5 313.2h0M346.6 493.6h0M298.2 477.8h0M236.2 250.1h0M501 376.6h0M250.7 518.3h0M182.5 288.8h0M380.8 455.7h0M259.1 516.3h0M165.2 424.6h0M189.1 307.8h0M273.4 320h0M167.2 451.8h0M291.6 317.2h0M288.1 473.4h0M242.9 599.8h0M244.4 309.8h0M496.4 373.5h0M263.9 303.4h0M326.9 505.2h0M185.7 479.7h0M427.2 448.9h0M172.8 466.6h0M269.3 285.4h0M509.8 423.4h0M373.8 455.3h0M405.5 442.4h0M272.4 498.3h0M573.4 410h0M522.7 428.3h0M254.6 312h0M249.8 497.2h0M252.5 489.5h0M220.3 295.6h0M424.4 439.6h0M282 314.4h0M166 430.9h0M474.4 431.8h0M277.2 314.7h0M265.8 317.6h0M387.5 449.7h0M336.5 344.4h0M198.3 304.9h0M282.3 492.4h0M383.8 466.9h0M327.1 490.1h0M241.1 525.4h0M445.3 435.9h0M264.7 500.7h0M247.7 492.4h0M174 459.9h0M200.8 264.2h0M323.3 336.6h0M219.2 292.1h0M350.3 470.4h0M492.7 374.9h0M213.8 299.5h0M576.9 390.2h0M310 327.4h0M249.8 489.6h0M269 480h0M370.4 350.7h0M381.6 359.7h0M425.8 367.9h0M193.9 516.3h0M219 495.8h0M377.2 455.6h0M362.2 343.4h0M174.1 281.8h0M171.9 558.1h0M500.5 368.9h0M176.6 314.1h0M296.5 323.9h0M308.5 330.1h0M240.6 303h0M404.5 442.6h0M479.3 355.7h0M419.4 444h0M303.4 330.9h0M576.2 383.7h0M184.9 302.8h0M171.2 292h0M296.8 492h0M272.1 313h0M281.1 473.2h0M291.6 500.4h0M371.6 456.9h0M201.5 298.3h0M298.4 317.6h0M250.8 241h0M304.2 324.4h0M318.2 478.4h0M198.5 293.5h0M571.9 409.5h0M387.6 460.4h0M168.1 519.2h0M448.2 437.4h0M183.6 312.1h0M227.1 526.8h0M185.6 307.7h0M449.4 437.5h0M211.5 548.6h0M421.9 361.4h0M271.4 478.1h0M552.7 376h0M173.3 308.3h0M398.9 304.6h0M334.6 343h0M251.7 513.8h0M177 275.3h0M489.6 439.6h0M472.9 430.9h0M377.5 358h0M249.5 305.8h0M249.7 306.3h0M273.5 310.4h0M200.1 287.3h0M494.5 371.2h0M205.2 537.5h0M205.5 532.6h0M327.1 458.9h0M486 430.2h0M284.6 319.5h0M184.9 296.6h0M233.6 306.1h0M511 366.4h0M258.3 493.6h0M261.5 310.9h0M346.3 347.8h0M177.8 558.2h0M551.1 379.4h0M227.9 487.4h0M309.4 332.5h0M202.3 291.5h0M267 303.4h0M442.7 368.2h0M302.7 466.4h0M260.2 303.6h0M265 309.2h0M404.6 445.7h0M471.1 430.9h0M226 282.5h0M369.5 458.1h0M186 247.5h0M175.6 316h0M256.3 493.6h0M464.3 373.3h0M290.7 514.6h0M400.1 357h0M308.2 332.1h0M403.8 445.6h0M240.5 486.1h0M532.2 418.9h0M276.4 311.5h0M529.1 371.4h0M319 333.6h0M469.9 434.9h0M410.1 365.3h0M385.7 362.6h0M252.4 537.6h0M454.2 368.9h0M319.2 466.6h0M229.3 302h0M284.9 316.9h0M305.8 467.2h0M459.6 367.9h0M296.3 321.1h0M176.6 315.9h0M344.6 461h0M194 503.5h0M323.7 457h0M386.3 446.1h0M477.9 430h0M224.5 306.9h0M371.6 359.3h0M359.4 352.5h0M476 373h0M427.6 466.3h0M295.7 472.7h0M200.8 298.6h0M399 360.4h0M567.9 385h0M262.3 482.6h0M433.5 438.5h0M209.9 489.2h0M355.6 460h0M278.3 478.2h0M460.2 438.1h0M270.3 500.2h0M434.1 367.7h0M318.4 321.7h0M194.8 297.6h0M512.4 424.9h0M183.5 306.7h0M179.1 484h0M311.2 321.1h0M202.2 524h0M223.5 491.8h0M200.7 516.7h0M184.2 313.1h0M315.7 338.6h0M453.3 365.5h0M419.5 451.3h0M237 300.2h0M550.4 414.6h0M269.7 546.6h0M474.9 374h0M461 369.2h0M233.8 496.5h0M519.7 373.8h0M245.2 486.1h0M228.1 497.3h0M233.3 304.1h0M180.6 473h0M331.3 341.2h0M532.2 419.5h0M220.8 488.1h0M294 467.5h0M261.6 305.3h0M392.6 362.7h0M386.1 361.8h0M218.9 288.4h0M209.9 298.4h0M299.4 466h0M359.6 471.1h0M299.5 464.5h0M182.9 484.4h0M326.9 340.4h0M529.3 423.4h0M377.6 347.8h0M234.6 305.4h0M180.1 503.2h0M193.2 525.4h0M577.1 412.7h0M167.6 333.2h0M436.4 437.6h0M238.2 250.3h0M539.4 379.4h0M237.3 303.4h0M171.6 488.7h0M444.9 363h0M496 441.7h0M297.6 512.4h0M315.2 320.7h0M293.3 327.1h0M309.5 460.7h0M195.5 302.2h0M171.3 321.4h0M238.2 305.4h0M318.9 461.5h0M172.6 296.3h0M181 311.2h0M287.1 487.2h0M184.4 481.7h0M309.7 488.5h0M440.4 369.5h0M297.8 277.9h0M343.9 337.4h0M239.3 493.6h0M180.3 488.8h0M385.4 457.5h0M410.5 443.9h0M319.4 467h0M429.4 366.8h0M395.3 444.3h0M394.4 362.9h0M292.7 317.6h0M257.3 292.8h0M227.8 487.6h0M422.6 367.2h0M550 381.5h0M176.8 297.6h0M247.1 514.8h0M261.3 486.6h0M217.6 289.5h0M421.3 466.5h0M252.1 483.2h0M572.3 411.5h0M221 293h0M349.2 452.5h0M280.4 486.2h0M201.2 486.8h0M532 422.6h0M254.3 525.9h0M521.1 377.2h0M174.5 497.7h0M281.5 309.9h0M194.6 278.9h0M404.3 450.6h0M239 298.8h0M223 273.5h0M335.2 464.1h0M505.4 423.8h0M556.8 413h0M449.3 365.8h0M544.5 415.5h0M225.2 304.5h0M328.1 456.1h0M406.3 358.5h0M201.5 231h0M240.3 489.7h0M395.3 361.5h0M308.4 482.9h0M196.5 300h0M420.7 362.8h0M556.6 413.1h0M289.2 493h0M349.1 347.5h0M216.8 216.9h0M482.1 430.6h0M284.6 321.2h0M437.5 349.4h0M178.5 285h0M266 491.3h0M514.2 424.7h0M227.3 283.7h0M177.5 297.4h0M237.2 292.7h0M285.7 475.5h0M335.8 527.6h0M424 358.5h0M231.7 303.5h0M291.6 466.5h0M436.4 440.7h0M275 321.2h0M174.9 553.6h0M252.7 514.2h0M177.1 473.6h0M175.8 477.1h0M549.9 380.9h0M222 275.2h0M245.6 303h0M213.1 271.3h0M476.7 435.4h0M436.2 444.5h0M236 298h0M439.4 443.1h0M437.3 370.4h0M216.4 304.8h0M232 511.1h0M211.8 508.5h0M488.2 374.9h0M182.2 523.2h0M256.1 521.1h0M566.5 385.7h0M549.4 416.7h0M211.2 301.1h0M544.1 380h0M261.5 493.5h0M242.2 274h0M370.9 354h0M571.7 385.1h0M248.8 293.6h0M224 285.1h0M170.2 486h0M222.2 301.4h0M258.7 509.4h0M173.6 305.5h0M411.9 441h0M376.7 448.8h0M170.4 463h0M265.9 312.8h0M236.2 609.1h0M236.7 297.2h0M195.7 508h0M391.1 444.2h0M197.9 505.8h0M287.2 316.4h0M358.4 453.9h0M455 436.2h0M189.4 304.2h0M298.1 323.2h0M283.9 310h0M579.7 408.3h0M178.7 312h0M204.3 301.8h0M571.9 387.8h0M577.2 388.1h0M218.6 305.7h0M281.4 310.7h0M378.9 454.2h0M185.5 305.7h0M278.8 664.1h0M243.8 308.4h0M391.3 360.4h0M190 493.3h0M267.7 318.3h0M447.4 367.8h0M194.6 287.2h0M395.3 444.6h0M517 424h0M479.4 374.3h0M212.6 518.5h0M305 267.7h0M345.9 483.2h0M549.5 379.2h0M405.3 442.1h0M340.6 344.3h0M214.9 488.6h0M274.5 313.7h0M532.1 421.5h0M270.2 304.1h0M248.9 311.1h0M412.6 364.1h0M561.1 411.3h0M257.4 302.7h0M233.6 492.4h0M403.9 337.4h0M440.2 363.8h0M475.9 373.8h0M169.1 328.5h0M383.5 358.9h0M169.4 442h0M169.4 448.2h0M311.3 325.1h0M261.2 310.3h0M234.1 499.8h0M433.7 362.8h0M379.8 472.9h0M176.4 316.6h0M200 296.1h0M199 521.5h0M401.5 364.3h0M332.1 345.2h0M353.1 331.2h0M225 298.6h0M252.2 311.1h0M240.3 303.1h0M269.3 318.4h0M442.9 369.7h0M380.9 358.6h0M260.7 306h0M257.5 504.2h0M215.9 509.7h0M177.4 317.4h0M408.6 444h0M371.9 446.3h0M430.3 368.9h0M262.9 316.3h0M570.6 382.7h0M190 561.9h0M357.5 353.7h0M223 298.1h0M169.6 456.1h0M300.4 317.8h0M218.5 521.6h0M243.2 494.5h0M220.5 304h0M169.9 325.3h0M215.2 299.7h0M387.8 354.5h0M260.1 258.7h0M233.2 266.6h0M257.9 312.4h0M222.5 281.5h0M478 431.4h0M215.7 303.6h0M453.1 455h0M261.8 309.3h0M518.7 374h0M430.7 353.2h0M194.5 288.4h0M220.2 506.8h0M358.3 451.6h0M209.7 284.4h0M373.8 360.3h0M206.4 490.4h0M275.4 315h0M260.5 302.4h0M247.1 234.2h0M331.2 341.9h0M408 351.8h0M442.5 451h0M565.5 423.1h0M412.5 493.3h0M331 343h0M342 348.7h0M298.8 289.7h0M257.8 314.6h0M567.8 378.8h0M585.4 384.9h0M271.2 311.6h0M300.2 470.3h0M279 517.9h0M414.4 451.6h0M197.1 255.6h0M429.8 368.6h0M309.1 295.5h0M266.8 498.3h0M237.7 308.6h0M250.6 482.1h0M278.5 478.5h0M195 255.9h0M244.9 488.3h0M242.6 300.9h0M336.3 459.5h0M195.1 489.9h0M227.6 508.8h0M271.4 316.6h0M303.1 318.2h0M290.9 320.4h0M242.1 502.4h0M343.2 344h0M391.2 353.7h0M281.7 480.5h0M419.2 363.4h0M197.1 493.1h0M202.3 294.5h0M209.5 496.6h0M243.4 288.4h0M195.7 494.2h0M409.3 444.7h0M165.8 453.6h0M571.9 405.7h0M175.7 501.9h0M202.2 491.7h0M220.7 297.1h0M208.1 284.9h0M247.9 487.8h0M303.4 316.4h0M360.7 526.2h0M194.4 296.7h0M333 461.4h0M573.3 408.1h0M362.1 459.6h0M209.3 301h0M259.2 316h0M294.8 326.8h0M291.5 481h0M579.1 386.4h0M253.3 284.6h0M421.4 440.5h0M397.5 356.2h0M315.9 337.7h0M260.9 507.4h0M217.7 565.9h0M167.7 465.8h0M190.6 306.8h0M210.9 289.9h0M436.7 451.4h0M506.5 375.4h0M434.4 445.6h0M442.1 436.7h0M306.4 331.8h0M373.3 336.8h0M213.9 520h0M250.8 494.9h0M171.5 313.5h0M330.2 487h0M460 372.1h0M468.5 371.3h0M331.5 464.2h0M367.6 458.5h0M312.5 331.9h0M374.2 466.8h0M308.2 228.5h0M311.9 330h0M215.7 305.1h0M382.3 455.6h0M359.9 352.4h0M348.5 339.9h0M438 370.5h0M299.8 470.6h0M434.1 357.3h0M441.4 368.7h0M414 442.2h0M381.5 447.5h0M167.3 335.7h0M186.7 303.8h0M243.9 485h0M520.6 421.7h0M175.5 298.8h0M301.7 331h0M282.9 476.8h0M323.8 338.8h0M296.2 297.9h0M236.5 496.3h0M192.1 301.2h0M549.8 414.7h0M369.8 449.5h0M414.8 444.2h0M380.9 449.6h0M194.4 519.2h0M416.2 443.7h0M490.7 428.8h0M576.1 387.7h0M189.4 488h0M201.9 299.6h0M315.2 457.5h0M510.4 377.2h0M297 323.7h0M224.9 282.7h0M408.7 442.5h0M267.1 491.7h0M236.9 306.4h0M245.6 308.3h0M225.3 299.5h0M275 483.7h0M270.8 318.2h0M162.7 424.8h0M337.3 454.4h0M360.7 450.9h0M558.7 424.3h0M398.2 355.2h0M212.3 519.5h0M492 445.5h0M164.4 444.6h0M249.4 304.6h0M239 308.4h0M452.8 369.8h0M468.2 366.2h0M311.5 328.5h0M287.8 485.2h0M252.6 484.7h0M402.2 442.2h0M443.7 361.9h0M212.9 490.5h0M558.8 414.3h0M410.5 456.3h0M222 293.5h0M176 470.5h0M466.4 373.3h0M431.9 440.5h0M176.9 315.6h0M384.2 357h0M449.9 342.8h0M350.4 463.5h0M240.2 490.3h0M198.8 288h0M204.7 303.3h0M234.8 303.9h0M199 304.1h0M481.9 371.3h0M527.7 378.2h0M359.4 449.3h0M336 347h0M219 300.7h0M415.4 441.1h0M471.3 363.2h0M205.2 501.6h0M228.4 493.5h0M500.2 427.2h0M344.8 341.9h0M485.8 427.8h0M384 349.1h0M569.4 388.3h0M230.5 287.7h0M301.2 327.8h0M223.2 306.5h0M315.8 534.2h0M258.7 537.8h0M304.2 323.7h0M480.1 429.4h0M445.9 435.9h0M205.9 298.1h0M195.9 522.7h0M404.6 364.7h0M273.3 481.7h0M337.2 342h0M249.3 484.3h0M278.7 306.9h0M184.4 534.4h0M373.8 457.2h0M302.9 333.2h0M319.8 327.7h0M403.2 442.4h0M394.5 353.6h0M455.9 352.3h0M213.2 280.8h0M503.7 428.2h0M296.2 466h0M234.4 520h0M337.8 344.9h0M300.6 469.3h0M220.4 488h0M498.1 365.8h0M185 483.8h0M291.1 471.2h0M534.3 421.5h0M365.5 455h0M283.6 263.9h0M317.2 333.6h0M226.7 526.3h0M438.1 361.2h0M196.6 509.5h0M269.4 318.3h0M224.8 304.8h0M201.9 510.4h0M287.9 304.2h0M261.8 492.3h0M264.9 508.7h0M282.3 317.1h0M400.2 443h0M170.1 317.2h0M503.9 425h0M356.3 351.4h0M269.9 297.2h0M261.6 510h0M426.6 438.7h0M490.1 373.8h0M281.9 320h0M451.7 436.4h0M191.4 483.5h0M358.2 452.3h0M178.5 474.4h0M539.9 420.1h0M308.6 331.8h0M299.6 325.3h0M232.9 551h0M504.4 375.6h0M194.1 515h0M285.8 317.1h0M310.9 468.6h0M199.5 531.3h0M318.1 458.6h0M210.3 500.7h0M358.2 354.1h0M204.7 520.4h0M577.2 388.2h0M504.8 376.1h0M243.4 542.5h0M172 467.4h0M346.7 457.8h0M186.3 474.2h0M167.4 452.2h0M166.4 342.1h0M435.2 367.9h0M208.3 292.6h0M469.9 369h0M311.1 334.5h0M219.3 501h0M331.1 335.5h0M184.4 309.9h0M255.6 480h0M189.7 488.2h0M246.7 277.2h0M166.5 429.7h0M404.5 363.4h0M231.8 490.2h0M298.2 465.2h0M204.3 520.9h0M188.5 480.7h0M401.3 444.8h0M403.9 363.9h0M563.5 384.8h0M206.5 489.6h0M213.2 496.4h0M370.3 353.8h0M194.2 302.4h0M201.4 303.9h0M586 391.7h0M270.2 315.8h0M326 326.5h0M187.9 490.2h0M354.7 527.8h0M288.5 473.6h0M452.3 437h0M235.4 304h0M201.2 300.7h0M230.9 291.9h0M209.9 492.3h0M305.7 461.8h0M376.5 352.5h0M418.2 442.9h0M511.7 376.2h0M241.5 306.8h0M222.5 532.8h0M214.9 519.5h0M273 292.8h0M467.6 371.3h0M195.8 490.3h0M181 470.2h0M292.7 310.3h0M293.2 317.1h0M563.2 413.5h0M178.2 319.2h0M222.3 302h0M284.4 472.2h0M317.9 334.7h0M472.6 373.2h0M278.8 317.9h0M206.6 516.7h0M276.3 294.3h0M512.1 425.4h0M366.3 447.3h0M278.6 486.5h0M437.9 436.8h0M236.5 487.8h0M195.1 495.1h0M401.8 447.9h0M203.9 302.2h0M171.3 320.2h0M509 427.9h0M279.2 316.5h0M173.6 309.9h0M171.3 327.4h0M272 491.1h0M288.5 477.7h0M440.2 365.8h0M238.7 296.9h0M165.7 519.4h0M180.2 515.4h0M228.5 306.4h0M172.7 308.5h0M578.6 405h0M283.9 479.2h0M180 560.8h0M198.7 537.1h0M170.6 449.6h0M341.6 345h0M358.5 459.9h0M306.7 323.9h0M313.3 337.4h0M249.7 515.1h0M210.2 517.8h0M460.8 372.6h0M268.9 281.1h0M196.6 500.3h0M417.9 365.2h0M456.3 435.8h0M211.7 505.5h0M445 445.2h0M236.5 489.4h0M532.3 379.9h0M259.3 486.7h0M271.2 305.3h0M208.5 284.8h0M367.2 460.2h0M399.5 442.4h0M299.8 316.3h0M351.1 474.5h0M277.3 312.7h0M297.1 329.2h0M206.1 267.7h0M258.4 256.6h0M429.2 357.6h0M318.7 340.5h0M475.7 434.6h0M495.7 435.5h0M403 444h0M260.6 296.6h0M241.8 309.8h0M485.6 431h0M419.3 442.2h0M243.1 485.6h0M259.1 251.7h0M179 549.4h0M197 304.4h0M428.9 367.3h0M447.2 367.9h0M468.1 373h0M571.1 383.6h0M182.9 206.4h0M397 361.9h0M212 494.8h0M387.3 448.3h0M582 401.4h0M464 358.1h0M204.1 563.1h0M167.3 348.4h0M291.9 320.7h0M346.3 346.4h0M227.3 506.1h0M452 437.6h0M251 291.2h0M331.2 335.5h0M576.6 385.6h0M403.5 360.9h0M356.3 351.7h0M436.5 438.7h0M436.4 369h0M347.5 460.7h0M306.4 464.9h0M173.5 311.9h0M343.1 473.3h0M313.4 556.8h0M311.5 299.7h0M172.8 453.1h0M165.4 355h0M168.7 374.1h0M167.7 348.5h0M166.9 346.5h0M169.4 413.4h0M172.2 426.5h0M166.5 385.4h0M179.1 522.8h0M171.9 341.6h0M175.3 313.1h0M161.2 362.1h0M169.8 379.6h0M176.5 333.1h0M165.7 430.4h0M166.2 436.2h0M156.7 352.4h0M171.2 333.2h0M170.5 294.9h0M170.3 460.3h0M162.4 320.1h0M183.5 510.5h0M165.3 318.2h0M184.1 252.8h0M156.9 381.6h0M168.3 315.2h0M166.3 423h0M170.4 450.5h0M162.6 444.1h0M164.5 425h0M162.1 392.1h0M167.4 391.1h0M172 361.7h0M164.5 449.2h0M172.4 485.3h0M169.4 407.9h0M168.7 417.9h0M161.8 381.2h0M184.5 571.8h0M173.3 469.1h0M172.5 302.1h0M169 399.7h0M163.9 392.5h0M169.1 409.6h0M173.7 355.4h0M173.8 418.7h0M167.7 428.6h0M170.5 479.6h0M159 390.5h0M164.7 397h0M168.3 444.9h0M170.2 442.1h0M161 406.2h0M177.4 331.9h0M156.2 355h0M169.7 349.9h0M171.8 504.6h0M168.5 442h0M176.9 457.6h0M170.6 331.1h0M165 390.6h0M156.7 402.7h0M166.3 429h0M163.8 407.9h0M158.9 394.7h0M171.3 424h0M169.8 422.1h0M161.4 441.7h0M169.4 333.6h0M160.4 349.8h0M169.8 335h0M169.2 412.5h0M162.5 391.9h0M162.6 401.3h0M162.8 343.3h0M177.8 297.4h0M162.6 327h0M162.8 361.4h0M175.4 445.9h0M170.7 362.4h0M171.5 362.9h0M164.1 352.3h0M178.1 310h0M161.7 327.7h0M168.7 361.9h0M167.3 421.2h0M169.7 328.2h0M172.1 317h0M172.8 493.7h0M158.6 393.8h0M165.5 358.2h0M174.7 296h0M162.7 377.1h0M169.3 398.3h0M170 320.7h0M165.3 353.7h0M170.9 469.8h0M165.1 364.7h0M180.6 252.9h0M170.1 387h0M171.1 320.2h0M164.6 336.3h0M170.5 367.3h0M166.1 373.1h0M167.3 378.1h0M168.3 356.1h0M163.1 414.5h0M171.8 359.3h0M169.8 372.5h0M172.6 358.1h0M167.3 337h0M165.5 403h0M164.1 388.3h0M162.7 372.4h0M166.6 342.2h0M167.9 419.8h0M173.8 313.6h0M166.7 393h0M177.3 487h0M159.8 368.7h0M181.9 291.8h0M170.9 503.2h0M166.2 380.8h0M172.5 372.5h0M168.7 382h0M160 367.3h0M166 444h0M162.2 392.2h0M164.6 355.6h0M162 347.2h0M179.4 244.1h0M165.9 393.7h0M163.6 368.9h0M169.2 330.6h0M175.7 462.9h0M166.9 402h0M167.6 351.9h0M169.8 414.4h0M167.8 331.6h0M167 407.1h0M168 343.6h0M174.2 473.5h0M166.7 394.2h0M163.3 414.7h0M173.3 303.5h0M166.6 478.9h0M172.4 426.8h0M169 394.8h0M171.1 433.8h0M165.5 353.8h0M159.3 384.8h0M158.2 405.8h0M171.7 310.6h0M164.9 359.7h0M168.4 399.7h0M167.8 384.6h0M166.9 427.1h0M159.5 409.8h0M170.7 450h0M174.1 348.3h0M160.8 359.9h0M161.3 435.4h0M162.4 376.6h0M163.5 357.9h0M175.1 446.6h0M160 428.4h0M175.6 479.4h0M169.8 376.6h0M165 364.4h0M165.4 389h0M157.8 413.3h0M167.4 345.8h0M172.7 335.5h0M165.7 374.5h0M168.7 323.7h0M177.3 496.4h0M161.7 416.5h0M172.4 292.8h0M169.4 438h0M170.1 323.7h0M157.1 353.6h0M170.7 430.9h0M169.8 453.5h0M166.7 356.6h0M160.1 392.2h0M166.5 331.6h0M170.9 354.9h0M168 281.1h0M166.4 374.9h0M170 337.7h0M176 489.5h0M164 416.9h0M164.2 394.6h0M161.9 410.2h0M168.6 341.2h0M160.2 389.3h0M170.8 324.9h0M163.1 423.9h0M168.6 368.2h0M157.9 407h0M163.5 341h0M167.5 310.6h0M165.7 323.9h0M171.8 413.2h0M165.3 403h0M167.6 303.4h0M164.7 402h0M158.1 353.8h0M172.5 295.1h0M169.8 437.8h0M168.7 322.5h0M165.1 374.9h0M168.6 437.6h0M169 341.2h0M167.7 390.2h0M167.6 405.4h0M160.3 332.5h0M158.8 406.2h0M168.7 374.4h0M160.9 380.7h0M620.3 384.4h0M641.6 403.7h0M643 406.3h0M580.6 402.3h0M631.6 393.9h0M602.1 399.3h0M666.1 402.8h0M579.9 385.6h0M624.2 399.6h0M640.1 398h0M635.3 394.8h0M642.1 389.6h0M644.3 382.8h0M583.3 411.7h0M620.3 403.2h0M616.1 384.4h0M642.2 388.3h0M619.4 398.6h0M600.9 399.9h0M614.6 396.7h0M587.8 397.5h0M578.5 385.1h0M578.1 402.6h0M617.2 388.9h0M631.4 373.2h0M644.5 402.2h0M665.8 403.5h0M594.4 396.1h0M579.3 390h0M594.8 382.2h0M646.5 398.2h0M578.5 400.4h0M597 382.3h0M580.3 396.9h0M643.1 394.9h0M641.3 376.1h0M664.9 393.2h0M643 387.6h0M601.3 407.9h0M659.3 397.6h0M629.6 396.3h0M662.3 396h0M608.6 414.5h0M577.5 396.1h0M630 400.1h0M632.3 385h0M620.7 379.3h0M606 420.6h0M667.2 398.4h0M578.6 385.6h0M588.6 373.6h0M633.3 399.6h0M652.5 407h0M636.8 391.5h0M615.8 391.6h0M707.2 397.5h0M150.1 384.7h0M182 135.4h0M255.8 151.7h0M221.7 176.1h0M256 192.8h0M267.5 193.3h0M205.1 196.1h0M177.7 199.6h0M220.7 199.2h0M240.3 206.5h0M256.8 205.9h0M252.1 212.3h0M302.3 215.3h0M170.3 217.2h0M171.8 226h0M267.7 228h0M273.6 228.4h0M325.8 230.5h0M293.5 243.6h0M297.8 247h0M166 257h0M304.3 266.1h0M314.5 268.5h0M335 275.9h0M158.1 269.7h0M154.6 279.8h0M357.7 293.5h0M373.8 293.5h0M340.1 299.4h0M347 503.9h0M358.5 530.3h0M394.3 531.3h0M306.7 532.3h0M290.6 542.1h0M237.4 546.6h0M297.8 550.3h0M173.8 553.2h0M180 548.9h0M268.1 560.3h0M186.3 562.2h0M177.7 565.2h0M223.1 567.5h0M184.9 574h0M193.7 575h0M259.7 575.3h0M216.2 577.3h0M166 583.6h0M187.9 584.1h0M228 584.5h0M242.7 589.6h0M181.6 591.4h0M205.1 611.5h0M277.3 610.6h0M227 621.3h0M412 293.9h0M439.6 320h0M427.5 324.7h0M416 333h0M451 334h0M475 338h0M508.5 350h0M527 347.5h0M549 349h0M600.5 444.5h0M530 453h0M511 446h0M587 408h0M636 388h0M662.5 406.5h0M706.5 398.5h0" fill="none" stroke="#231f20" stroke-width="6.5" stroke-linecap="round"/>
<defs><path id="ra" d="M336.8 351.9h0M395.2 359.4h0M509.4 377.2h0M391.4 360.6h0M254.4 344.1h0M357.3 351.5h0M413.9 380.2h0M417.9 368.5h0M518.9 374.9h0M351.8 369.5h0M278.1 329.1h0M217.2 305.7h0M239.2 320.3h0M286.5 365.6h0M291.1 368.5h0M333.5 340.9h0M306.4 333.1h0M280.9 366h0M250 345.9h0M300.1 360.7h0M548.2 386.1h0M308.9 361h0M243.4 329.4h0M458.5 373h0M344.5 368h0M492.7 382.9h0M249.3 347h0M342.1 347h0M399.9 363.4h0M230.2 332.1h0M246.4 316.6h0M326 348.7h0M279.5 343.3h0M444.1 372.6h0M251.9 310.1h0M298 352.5h0M242.7 343.5h0M311.8 349.6h0M314.4 337.6h0M550.5 384.3h0M259.7 313.2h0M319.6 336.4h0M432.4 380.9h0M222.1 308h0M439.9 368.8h0M218.3 334.8h0M392.2 376.3h0M393.8 371.4h0M288.4 347.8h0M391.5 375.4h0M272.7 314.7h0M354.3 375.9h0M468.6 373.6h0M388.4 373.3h0M337.9 371.9h0M340.1 348.4h0M321.4 372.8h0M377.8 379.1h0M291 343.3h0M505.6 373.6h0M252 343.9h0M458.5 379.6h0M355.5 374h0M243.5 340.7h0M370.5 354.5h0M313.4 356.2h0M368.9 365.8h0M327.3 342.4h0M255.7 338.4h0M404.5 374.6h0M232.7 327.4h0M235.4 327.5h0M223.1 338.9h0M310.2 364.5h0M425.1 371.2h0M446.5 379.1h0M349.6 355.6h0M386.4 374.1h0M230.8 302.2h0M425.5 366.5h0M228.6 340.9h0M215.8 309.6h0M466.2 381.7h0M365.9 353.3h0M330.5 348.7h0M352.3 375.4h0M262.3 359.9h0M274.7 320.9h0M352 363.6h0M325.9 360.4h0M325.9 360h0M321.8 354.1h0M281.9 336.7h0M269.4 336.6h0M216.7 335.5h0M502.2 383.9h0M531.4 383.3h0M328.8 354.8h0M500.1 379.1h0M235.5 320.7h0M465.7 367.3h0M255.1 322.9h0M525.5 380.2h0M242.8 338.5h0M243.9 327.1h0M226.6 340.3h0M259.2 304.9h0M437.7 368.6h0M315.2 371.9h0M472 381.4h0M410.8 375.9h0M251.9 347.9h0M255.6 320.8h0M225.3 325.7h0M330.4 347.5h0M412.1 374.7h0M297 356.7h0M426.3 377.3h0M236.1 314h0M269.9 329.1h0M236.5 331h0M349.9 350.2h0M278.6 350.5h0M218.7 326.6h0M367.2 364.2h0M298.8 350.1h0M263.3 340.1h0M449.5 374.9h0M368.1 374.8h0M427.2 370.6h0M229.2 338h0M388.2 378.2h0M223.6 317.3h0M355.2 355.6h0M357.7 363.8h0M395.6 374.2h0M314.8 374.8h0M281.3 335.7h0M317.4 369.4h0M231.9 333.9h0M261.7 311.7h0M268.6 313.8h0M248.1 330.7h0M453.5 370.9h0M238.6 341.5h0M489.6 380.6h0M302.6 366.8h0M393.3 378.1h0M505.6 374.7h0M260.1 342.1h0M277.2 313.6h0M282.6 322.2h0M223.2 335.1h0M440.7 379.7h0M230.9 314.5h0M244.5 336.8h0M215.5 312.5h0M328.3 354.5h0M309.7 359.4h0M475.4 373.8h0M319.7 351.9h0M341.1 366h0M287.5 354.8h0M324.2 334h0M316.9 339h0M263.7 333.2h0M290.5 329.1h0M355.5 352.6h0M487.6 378.1h0M446.7 373.2h0M347.9 372.7h0M309.8 327.9h0M520 378.7h0M282.9 360.9h0M264.2 324.5h0M489.1 373.9h0M241.3 310.4h0M275.2 361.8h0M234.5 335.3h0M218.2 341.5h0M317.8 337.8h0M295.4 361.3h0M454.2 372.3h0M388.3 356.7h0M332.1 351.6h0M228 333.3h0M431.6 364.9h0M300.3 345.1h0M304.5 365.5h0M261.8 311.6h0M227.1 341.7h0M363 364.9h0M226.9 333.5h0M244.3 311.2h0M356.3 364.2h0M287.8 352.2h0M274.2 362.8h0M273.1 323.6h0M307.4 334.3h0M545.8 384.7h0M220.4 313.2h0M236 343.2h0M343.2 343.5h0M503.9 383.3h0M347.4 348.7h0M430.7 381h0M223.8 312.3h0M329.9 339.3h0M425.9 367.7h0M293.3 363.8h0M215 298.2h0M447.5 372.6h0M450.1 377.6h0M295.4 345.8h0M386.4 363h0M277.9 315.8h0M304.8 338.1h0M251.6 332.8h0M444.2 378.1h0M285.8 362.4h0M341.5 356.1h0M345.4 376.8h0M444.9 382.7h0M273.6 355.6h0M246 331.4h0M267.5 344.1h0M539.5 387.4h0M277.3 359.1h0M336.8 375.2h0M387.5 379.4h0M340.9 375.5h0M348.5 364.9h0M229.1 308.5h0M417.9 381.8h0M286.7 318.9h0M237.1 320.6h0M303.3 363.8h0M514.8 384.8h0M438.4 374.9h0M413.5 384.4h0M316.4 335.2h0M271.5 343.3h0M403.4 367.1h0M413.9 380.5h0M341.7 343.8h0M217.3 315.5h0M373.3 367.8h0M437.5 378.1h0M288.6 357.6h0M262.7 346.2h0M448.6 382.6h0M552.6 378.6h0M389.6 375.6h0M256.9 351.1h0M292.5 351.5h0M314 342.8h0M278.4 334h0M434.4 372.9h0M217.4 334.1h0M227.4 328.1h0M278.2 342h0M487.2 374.7h0M307.1 341.9h0M409.7 369.8h0M292.8 356h0M497.4 379.5h0M431.2 387.3h0M275 358.9h0M404.3 373.5h0M365.6 358.1h0M297.7 341.4h0M311.2 363.3h0M540 378.1h0M247.6 314.7h0M437.4 373.9h0M277.3 318.9h0M339.8 367.1h0M409.1 367.3h0M467.9 371.3h0M326.6 339.4h0M346.1 365.4h0M312.7 361.3h0M353.8 345.6h0M272.9 336.3h0M312.4 352.7h0M222.4 329.6h0M533 377.3h0M453.1 374.3h0M399.9 375.5h0M332.4 370.9h0M228.5 349.4h0M224.7 343.4h0M534.7 374.3h0M481.5 381.1h0M356.6 369.6h0M216.7 310.5h0M431.5 365.2h0M230.1 312h0M432.7 378.1h0M340.5 355.7h0M412.4 361.3h0M402.7 376.9h0M241.9 321h0M307 359.8h0M330.5 356.7h0M542.9 386.7h0M402.5 373.8h0M252.4 309.7h0M254.4 330.4h0M230.1 326.3h0M343.6 377.7h0M266.2 319.9h0M242.9 320.3h0M497.9 384.1h0M491.2 381.3h0M305.7 350.4h0M306 360.4h0M266.7 344.4h0M376.4 372.6h0M516.7 372.2h0M220.9 304.4h0M277.2 323.1h0M291.4 337.6h0M261.4 313.2h0M323.1 353.5h0M295 354.3h0M258.1 347.2h0M338.7 353.3h0M347 354.4h0M352.2 361.2h0M297.9 341.8h0M423.5 369.7h0M421.7 366.3h0M322.5 347.8h0M446.3 372.1h0M385.1 368.4h0M295 358.6h0M321.6 346.4h0M310.8 336.5h0M452.1 370h0M403 365.1h0M325.2 358.8h0M274.4 308.9h0M446.4 379.7h0M229.4 324.2h0M324.2 350.8h0M226.1 298h0M536.9 373.6h0M285.5 355.1h0M431.6 380.2h0M348 377.7h0M348.1 364.2h0M261.4 337.7h0M343.3 369.3h0M337 373.6h0M299.6 335.8h0M445.2 381.3h0M550.8 374.8h0M257.7 355.4h0M394.3 369.4h0M351.1 364.5h0M323.8 342.9h0M545.4 374.6h0M230.2 328.6h0M238.1 329.5h0M522.4 374.6h0M408.4 373.3h0M417 373.6h0M407.9 365.5h0M425.6 379.8h0M284.2 359.6h0M288.3 339.9h0M222.4 335.8h0M395.4 367.7h0M525.2 379.8h0M308 337.5h0M397.4 378h0M492.1 383.4h0M277.1 350.6h0M259.5 307.8h0M223.9 346.7h0M502.3 382.8h0M279.4 345.2h0M452.1 372.2h0M323.2 368.4h0M375.3 356.7h0M319.5 357.4h0M315.2 368.1h0M344.9 351.7h0M272.1 348.3h0M224.5 307.6h0M284.2 361.5h0M523.6 380.4h0M320.2 344.1h0M262.7 346.2h0M240.5 307h0M230.4 324.5h0M222.2 337.6h0M223.7 321.1h0M358.4 363.4h0M309.4 371.4h0M312 369.5h0M230.4 304.4h0M352.3 350.2h0M314.5 347.7h0M465.8 378.9h0M277.3 327.4h0M332.5 338.7h0M426.6 368.9h0M441.2 366.9h0M227.4 296.2h0M301.7 325.4h0M356.4 376.8h0M259.3 307.6h0M349.7 362.8h0M350.7 362.5h0M268.5 340.1h0M256.5 313.4h0M394.7 365.2h0M383.4 373.5h0M395.2 366.9h0M493.1 380.6h0M430 381.3h0M381 377.1h0M320.2 368.4h0M328.4 353.3h0M385.3 371.9h0M320.5 332.6h0M250.8 335.8h0M396.4 372.3h0M357.4 356.8h0M442.8 376.7h0M428.2 363.4h0M294.9 356.2h0M308.7 342.3h0M253.7 334.4h0M229.1 327.6h0M526.5 377.8h0M248.9 350.9h0M329.4 356.1h0M441 377.3h0M274.8 310.8h0M246.8 351.2h0M477.8 371h0M351.9 359h0M295.9 341.4h0M326.3 354.2h0M221.7 326h0M448.7 377.6h0M439.3 380h0M240 353.3h0M296.6 369.1h0M338.5 352.5h0M314.7 366.2h0M502.8 381.5h0M397.3 368.7h0M514.6 385.8h0M333.8 350.9h0M219.3 318.6h0M236.9 332h0M409.7 366.8h0M312.3 365.4h0M363 366.1h0M271.7 347.1h0M347.2 375.8h0M323.9 356.3h0M239.5 304.8h0M259.1 320.5h0M343.3 344h0M279.3 332.3h0M225.5 324.2h0M410.6 380.5h0M319 367.4h0M288.6 362.4h0M266.1 360.6h0M278.5 364.7h0M427.6 366.4h0M323.9 352.9h0M407.3 366.6h0M252.9 350.2h0M282.2 337.9h0M220.1 326.6h0M469.3 381.6h0M420.2 375.3h0M533 385.8h0M291.1 368.8h0M312.2 350.2h0M406 364.4h0M241.5 326.6h0M391.8 368.8h0M334 347.8h0M286.9 363.8h0M266.3 309.7h0M414.8 369.4h0M332.4 352.5h0M385.3 368.6h0M503 374.3h0M388.4 362h0M331.5 367.6h0M306.7 370.8h0M351.6 362.4h0M307.3 353.8h0M278.6 334.6h0M246.5 350.4h0M363.8 363h0M283 317.1h0M339.6 360.9h0M332.3 368h0M273.4 340.6h0M547.6 385.4h0M268.9 359.2h0M292.4 319.8h0M396 372.3h0M400 368.9h0M291.4 355h0M266.8 333.7h0M438 365.3h0M542.2 383.7h0M362.2 361.4h0M244.6 319.8h0M420.1 375.3h0M322 345.3h0M224 348.6h0M283.1 338.3h0M398.7 368.7h0M331.6 358.6h0M242.2 318.4h0M465.3 371.3h0M456.7 368.7h0M291.5 329.6h0M298 364.9h0M282.8 329.8h0M437.7 365.7h0M422.4 367h0M350 374.6h0M244 349h0M357.2 359.3h0M328.9 359.3h0M307.1 325h0M274.3 336h0M314.7 364.1h0M326 375.8h0M303.5 330.3h0M379.9 378.4h0M338.1 361.1h0M436.7 381.4h0M452.6 377.6h0M352.1 368.5h0M265.6 311.4h0M261.9 320.6h0M468.4 372.5h0M222.9 308h0M255.1 345.1h0M257 336.3h0M249.2 342.5h0M408.7 371.6h0M488.3 367.8h0M386.9 369.2h0M311.7 364.6h0M440.5 372.2h0M322.9 416.5h0M373.5 413.1h0M420.3 424.5h0M259.7 428.3h0M472.3 412.5h0M286.6 435.8h0M303.3 449.4h0M307.9 441.2h0M452.1 426.1h0M337.9 456.7h0M368.8 445.5h0M343.4 453.4h0M455.8 414.4h0M394.9 428.2h0M484.8 410.3h0M486.8 432.1h0M499.8 403.5h0M263.2 449.4h0M257.8 437.9h0M329.9 438.2h0M363.1 416.4h0M473.8 414h0M375.5 412h0M387.6 424.6h0M268.5 437.3h0M351.7 408.6h0M304 426h0M508.8 406.2h0M552.5 407.2h0M483.9 406h0M241.1 453.3h0M338.4 429.7h0M465.1 436.4h0M431.5 430.7h0M278.6 428.1h0M406.8 432.9h0M431.4 429.9h0M241.8 438.4h0M249.7 458.5h0M550.4 412.1h0M338.4 436.3h0M284.8 427.1h0M318.9 441.3h0M404.1 431.9h0M314.1 422.8h0M279.4 424.7h0M348.9 422.2h0M465.1 406.9h0M338.7 416.6h0M365.8 425h0M437.7 433.2h0M357.2 448.9h0M515.6 422.9h0M275.5 445.2h0M420.7 443.4h0M521.4 415h0M359 410.3h0M339.6 440.4h0M471.9 424.8h0M314.6 438h0M482.1 407.4h0M425.1 412.8h0M446.7 407.8h0M351.6 422h0M270.2 438.4h0M305.8 419.5h0M242.9 436.7h0M344.1 422.2h0M549.1 405.8h0M286 421h0M348.1 428.3h0M439.1 444.3h0M466.3 415.5h0M463.6 417.8h0M545 406.5h0M437.5 436.6h0M332.9 423.5h0M271.1 446.5h0M473.1 430h0M432.9 438.7h0M302.9 462.6h0M471.4 407.2h0M466.7 406.9h0M270.8 458h0M529.2 408.2h0M413.2 419.8h0M366.4 429.4h0M439.5 435.4h0M482 422.7h0M460.9 407h0M297.5 441h0M285.9 432.9h0M507.5 423.9h0M508.5 420.7h0M448.1 416.2h0M518.6 415.8h0M492.2 422h0M457.9 406.8h0M395.6 424.7h0M318.2 456.8h0M398.4 411.9h0M411.8 428.2h0M249.6 453.2h0M318.3 449.3h0M287.2 423.6h0M405 423.3h0M321.7 426.2h0M394 442.7h0M295.3 456.3h0M490.1 406.2h0M357.8 449.7h0M364.8 408.1h0M431.1 408.2h0M367.5 415.8h0M380.4 446h0M340.8 447.5h0M330.5 441.5h0M446.7 416.1h0M316.8 431.8h0M449.5 422.9h0M404.3 440.8h0M247.5 425.8h0M360.4 419h0M480.2 414.6h0M473.7 434.7h0M381.6 434.2h0M354.5 425.1h0M441.4 424.9h0M346.9 421.2h0M362 413.4h0M251.8 424.3h0M262.2 428.2h0M396.4 414h0M461.4 430h0M266.5 433.8h0M517.1 404.5h0M240.6 432.7h0M250.3 464.1h0M448.4 407.5h0M288.1 423.8h0M472 433.7h0M356.6 411.9h0M441.5 414.1h0M337.7 428.1h0M373 453.1h0M409.8 441.7h0M417.3 410.6h0M486.6 418.6h0M288.2 450.9h0M331.8 429.7h0M308.5 436.8h0M452.8 409.2h0M447.9 436.6h0M414.2 405.6h0M282.8 446h0M335.3 448h0M326.5 423.4h0M490.4 416.4h0M500 404.7h0M418.2 442.7h0M246.7 436.8h0M282.7 456.6h0M506 421.1h0M269.7 436.1h0M358.3 414.5h0M487.7 419h0M484 420.9h0M341.9 439h0M240.1 465.2h0M378.3 413h0M541.6 410.8h0M359.8 441.3h0M524.4 420.9h0M268.8 428h0M368.7 407.3h0M301.9 441.7h0M520.5 417.8h0M292 434.7h0M549.1 411.1h0M352.6 442.2h0M468 426.5h0M366.6 415.3h0M554.2 418.7h0M335.4 438.7h0M463.8 405.4h0M313.7 447.1h0M545.7 405.4h0M283.6 437.5h0M263.7 425.7h0M520.8 418.9h0M317.8 450.1h0M548.2 411h0M388.5 431.7h0M374.3 445.8h0M433.8 420.7h0M457.4 423.4h0M464.4 434.3h0M452.9 439h0M492.9 416.1h0M354.8 415.8h0M332.6 431.2h0M483.7 420.5h0M443.3 414.6h0M353.2 416.5h0M256.9 451.5h0M524.7 416.5h0M330.7 413.4h0M490.8 421.6h0M427.2 434.2h0M403 439.1h0M312.2 453.7h0M532.3 420h0M476.1 419.2h0M511.8 404.6h0M443.4 441.5h0M313.7 432h0M447.2 430h0M528.7 414.7h0M383.2 444.4h0M385.1 446.1h0M514.7 407.9h0M348.1 448.1h0M546.8 419.7h0M433.2 431.5h0M282.5 455.2h0M394.4 425.8h0M437.7 408.4h0M325.2 437.3h0M405.2 416.4h0M423.4 408.8h0M359.5 420.1h0M441 435.1h0M346 455.5h0M423.5 436h0M387.8 429.6h0M456 423.2h0M361.1 413.6h0M500.1 415.1h0M348.5 425.9h0M282.1 459.9h0M331.8 429.5h0M466 419h0M317.9 418.2h0M380.9 440.4h0M376 411.6h0M344.8 452.2h0M381.7 415.5h0M425.7 439.1h0M361.3 446.7h0M367.3 410.1h0M316.8 459.4h0M501.6 421.3h0M319 413.9h0M374.9 418.2h0M550 411.3h0M513.2 419.2h0M452.8 406.4h0M368.7 411.2h0M260.7 465.1h0M500.2 419.6h0M354.2 451.3h0M265.8 444.7h0M467.2 426h0M352.5 450.6h0M307 420h0M552.1 419h0M350.5 422.8h0M507.9 407.7h0M347 440.4h0M523.7 407.6h0M277.1 421.9h0M451.8 433.8h0M476.5 416.3h0M454.1 433.3h0M334.2 416.7h0M487.1 421.2h0M397.7 422.3h0M333.2 438.1h0M393 410.6h0M489.9 420.6h0M364.7 439.5h0M426.9 439.5h0M443.5 432.3h0M315.4 429.3h0M279.7 431.4h0M342.5 430.2h0M405.8 426.9h0M499.1 414.9h0M334.5 437.6h0M452.6 434.6h0M262.8 434.7h0M409.7 438.9h0M239.8 433h0M382.2 428.4h0M415.8 420h0M482.4 419.7h0M313.7 440.9h0M517.1 408.5h0M277.2 425.7h0M303.5 424.5h0M371.3 413.6h0M270.4 425h0M282.4 459.2h0M459.3 407.6h0M263.8 451.7h0M555.5 411.8h0M356.9 407h0M328.2 454.4h0M283.6 421h0M533.3 419.5h0M253 453.7h0M486 403.8h0M338.7 442.4h0M473.4 426h0M394 437.4h0M395.3 421.6h0M404.2 434.3h0M408.1 442.4h0M306.4 423h0M367.9 424.4h0M309.8 437h0M383.9 430.9h0M364.2 409.2h0M247.8 460.8h0M360.3 436.7h0M344.1 438.2h0M371.6 417h0M338.5 414.2h0M291.8 425h0M247.8 444.9h0M441.8 426.6h0M468.4 432.8h0M417.4 423.9h0M257.2 451.1h0M473.2 413.1h0M486.3 407h0M345.2 412.2h0M317.5 445.5h0M520.2 421.9h0M343.4 412.1h0M357.2 454.1h0M546.2 414.5h0M350.3 423.7h0M431.8 441.6h0M418.9 441.5h0M456.5 414.8h0M551.2 404.2h0M357.4 421.5h0M329.8 426.2h0M415.1 415.1h0M309.5 459.3h0M309.4 414.7h0M332.1 414.5h0M405.7 409.4h0M348.5 426.7h0M255.5 427h0M443.4 406.2h0M386.9 408.2h0M458.7 404.7h0M471.4 405.3h0M401.4 427.1h0M307.9 421.3h0M529.6 407.6h0M388.1 419.9h0M465.4 427.5h0M269.7 435.4h0M283.3 424.5h0M513.5 427.8h0M404.5 412.8h0M472.8 433.4h0M387.7 406h0M324.8 441.5h0M498 427.7h0M336.7 430.4h0M494.4 418.1h0M444.9 433.9h0M266.1 452.3h0M387.3 441.3h0M318.7 420.1h0M420.9 423.3h0M310.1 440.3h0M322.2 433.4h0M497.7 414.3h0M508.9 424.6h0M527.9 420.9h0M252.1 447.5h0M505.1 423.2h0M328.2 420.4h0M462.1 412.6h0M461.3 420h0M387.1 422.3h0M428.9 421.1h0M471.6 428.1h0M262.7 453.8h0M277.7 428.3h0M305.4 446.4h0M249.4 431h0M379.5 434h0M531.9 409.6h0M405.3 446.4h0M407.8 411.6h0M323.9 458h0M385.9 421.7h0M466.4 428.1h0M485.8 430h0M452.5 406.8h0M525.6 404.2h0M262.6 437.9h0M345.3 448.3h0M487.4 434.2h0M270 424.2h0M459 428.5h0M467.9 416.9h0M346.4 429.9h0M402.4 428.7h0M407.3 420.8h0M464.5 425h0M451.3 434.1h0M540.9 416h0M315.9 429.4h0M525.3 405.3h0M342.6 439.3h0M360.5 414.3h0M548.1 402.9h0M347.6 427.3h0M409.3 444.4h0M256.9 461.1h0M510.7 413.8h0M455.8 422.1h0M285.9 457.5h0M321.7 449.1h0M281 455.3h0M354.4 451.5h0M355.3 409.8h0M532 418.3h0M347.6 421h0M383.6 439.5h0M285.4 422h0M415.8 430.4h0M422.2 414.7h0M415.4 442h0M308.5 425h0M249.2 458.7h0M242 426.8h0M437.9 441.1h0M400.1 425.8h0M321.5 441.1h0M258.4 433.8h0M442.8 420.5h0M251.6 430.8h0M393 431.6h0M393.3 448.8h0M449.2 422.5h0M256.2 448.6h0M357.4 432.8h0M403.3 419.5h0M463.8 429.6h0M488.6 411.7h0M457 413h0M375.4 410.2h0M244.4 441.1h0M547.2 409.2h0M267 428.5h0M375.1 422.2h0M444 405.1h0M366.5 411.4h0M435.3 406h0M281.1 423.8h0M250 429.2h0M255.3 449.4h0M329.2 434.8h0M388.6 419.3h0M495.3 409.9h0M422.3 437.8h0M253.2 452.5h0M439.5 406.4h0M360.3 407.2h0M518.2 418.9h0M332.6 428.3h0M380.5 434.6h0M386.6 431.7h0M242.8 436.5h0M480.6 419.3h0M381.6 433.1h0M371.9 415.3h0M498 402.1h0M312.4 411.3h0M334.7 409.4h0M524.5 418.5h0M383.5 446.6h0M503.9 408.9h0M375.1 428h0M375.7 438.7h0M480.9 408.5h0M398.4 414.3h0M313.8 430.5h0M294.2 439.3h0M536.4 411.5h0M517.1 406.8h0M425 443.7h0M404 421.8h0M454.8 418.3h0M313.4 422.3h0M546.3 404.8h0M353 427.2h0M276.1 440.4h0M308.1 431.8h0M403.1 424.8h0M384.4 436.8h0M498.4 418h0M360.2 413.5h0M485.2 428h0M492.3 404.8h0M251.3 446.1h0M437.9 407.8h0M489.9 415.5h0M447.5 421.5h0M360.9 433.8h0M406.3 444.5h0M473.8 414.1h0M328.9 444.3h0M373 438.4h0M391.7 430.3h0M434.6 410.7h0M414.2 441.4h0M446.4 431.3h0M543 413.4h0M519.8 418h0M314 448.6h0M339.3 449.3h0M504.3 406.4h0M397.6 437.2h0M248.6 440.4h0M295.3 425.2h0M471.1 421.1h0M509.1 410.6h0M310.9 444h0M490.7 431h0M384.3 424.1h0M498.3 407.1h0M372.1 419.7h0M466.2 429.4h0M315.9 424.2h0M360.9 417.2h0M321.3 449.2h0M491.2 417.2h0M279.1 450.7h0M392.8 418.2h0M489.8 408.8h0M362 445.2h0M460.9 408.2h0M498.7 409.8h0M367.9 409.6h0M363.7 415.7h0M448.1 413.8h0M517.7 410.2h0M324.9 434.5h0M290.2 457.3h0M271.4 430.5h0M398.3 425.2h0M345.6 427.9h0M305.7 428.2h0M307.1 429.8h0M265.1 454h0M307.6 420.3h0M515.8 407.8h0M284.1 433.2h0M398.6 405.6h0M412.1 411.2h0M481.4 419.9h0M268.8 432h0M292.4 427.2h0M449.6 434.9h0M455.6 405.8h0M455.2 410.2h0M338.3 411.9h0M549.6 412.3h0M403.5 431.6h0M520.4 416.7h0M529.3 419.7h0M485.2 406.3h0M430.2 429.6h0M466.4 408.5h0M458 419.9h0M300.1 427.7h0M327.4 419.8h0M504.4 409.1h0M383.5 417.7h0M306.8 428.1h0M469 423h0M358.9 437.7h0M523.2 417h0M426.8 427h0M445.7 427.9h0M489.3 406.8h0M251.6 459.4h0M280.4 458.1h0M281.6 440.4h0M403.5 409.8h0M310.5 454.7h0M185.1 484.3h0M288.7 271.8h0M272.1 302.5h0M185.4 282h0M212.6 275.8h0M207.8 249.5h0M251.5 270h0M206.8 260.4h0M292.7 535.4h0M216.5 270.6h0M212.8 532.4h0M182.1 252.2h0M295.7 279.1h0M237.2 526.7h0M185.2 278.1h0M272.4 487.3h0M248.9 260.9h0M216.4 528.4h0M272.9 309.1h0M274.6 483.4h0M220.5 512.8h0M210 223.5h0M233.5 524h0M282.6 491h0M191.6 241.7h0M228.2 239.7h0M260.8 498.9h0M200.4 547h0M227.2 273.1h0M242.8 498.6h0M242.6 510.2h0M238.9 295.8h0M182.5 265.1h0M291.5 284.4h0M286.3 307.6h0M266.6 591.4h0M299.5 527.9h0M206.2 273.3h0M232 597.1h0M295.2 286h0M304.6 506.5h0M263 564.5h0M199.4 206.8h0M252.8 534.3h0M282.9 480.1h0M297 504.3h0M304.7 312.5h0M285.5 263.5h0M200.8 515.7h0M262.3 501.4h0M294.1 286.2h0M236.4 505.1h0M195.6 525.3h0M182.1 492.8h0M243.2 276h0M200.7 252.8h0M259.1 250.6h0M194 565.6h0M231.2 514.5h0M206.1 552.5h0M188.9 489.8h0M220.8 504h0M280.8 494.1h0M224.6 503.2h0M199.1 531.6h0M211.3 575.4h0M230.4 268.8h0M274.9 524.6h0M192.7 545.8h0M206.6 610.3h0M272.3 524.1h0M266.8 283h0M174.6 474.9h0M303.8 235h0M286.5 524h0M214.7 502.3h0M291.8 296.4h0M224.3 526.3h0M176.6 276.9h0M212.2 500.1h0M229.9 286.9h0M209.8 541.6h0M243.3 297.3h0M290.3 485.2h0M244.6 533.8h0M294.2 501.3h0M262.3 516.9h0M267.6 508.6h0M206.3 278h0M266.8 272.2h0M292.4 493.4h0M289 505.5h0M196.3 522.5h0M191.3 286.1h0M199.1 504h0M285.1 507.5h0M215.1 292.5h0M280 298.5h0M188.8 494.3h0M256.9 519.4h0M273.1 504.8h0M197.5 285.3h0M301.1 299.4h0M238.8 250.3h0M304.6 306.4h0M281.2 493.2h0M233 268.3h0M212.4 518.9h0M176.6 487.9h0M255.3 294.7h0M233.6 286.2h0M297.6 475.6h0M248.5 500.9h0M238.5 531.6h0M307.1 320h0M241.8 509.4h0M223.1 532.7h0M198.7 272.2h0M284.3 313.5h0M208.8 508.4h0M177.3 498.4h0M246.6 505.5h0M269.1 494.1h0M255.5 525.5h0M242.9 260.9h0M189.9 521.1h0M261.4 499.4h0M177.6 237.4h0M230.4 502.9h0M277.6 516.4h0M198.8 547.3h0M267.6 304.8h0M275.3 494.3h0M183.4 484.5h0M174.9 250.7h0M181 483.3h0M236.5 504.6h0M302.9 308h0M178.7 524.1h0M187.7 514h0M291.8 296.7h0M241.5 500.4h0M301.6 488.1h0M285.1 508.7h0M283.1 271.6h0M214.1 583.9h0M288.3 501.3h0M307.1 496.4h0M182.5 501.3h0M242.1 496.7h0M254.3 559.9h0M215.7 560h0M274.1 309.8h0M213.2 508.2h0M238.9 292.6h0M287.5 514.6h0M209.5 534.5h0M206.5 502.3h0M211.7 562.2h0M278.5 497.8h0M291.5 477.1h0M240.6 248.2h0M186.6 274.6h0M296.8 314.6h0M294.3 288.7h0M276.1 270.5h0M178.7 486.9h0M234.4 194.2h0M210 521.9h0M192.1 504.2h0M269.3 269.3h0M241 238.5h0M217.7 162.8h0M284.5 279.3h0M273.4 522.2h0M199.8 289.9h0M202.7 505.2h0M265.8 226.9h0M182.1 227.4h0M259.9 518.2h0M275.8 526.6h0M232.2 598.5h0M222.6 534.5h0M213.7 505.3h0M307 552.9h0M235.2 283h0M221.7 293.7h0M244.5 282h0M294.7 585h0M288.8 300.5h0M306.4 489.9h0M279.5 308.4h0M178.9 487.6h0M286.3 241.5h0M234.5 223.8h0M289.8 314h0M244.3 261.3h0M293.8 482.4h0M189.1 489.6h0M295.1 299h0M259.3 271.1h0M249.8 296.7h0M179.8 290.6h0M213.5 509.6h0M201.6 277.1h0M185.3 293h0M248.3 496.2h0M232.2 572.4h0M224.8 516.5h0M305.4 240.3h0M205.9 506.2h0M187.8 275.2h0M306 510.9h0M200.4 249.3h0M256.9 503.3h0M188.2 505.6h0M278.4 494.7h0M244.1 254.9h0M231.4 203.1h0M276.1 548.7h0M219.4 515.4h0M288.7 279.6h0M223.4 272.4h0M245.4 573.5h0M259.9 497.5h0M276.6 489.5h0M279.9 307h0M175.7 278.2h0M265.8 305.8h0M293.5 317.6h0M294.1 537.9h0M191.1 534.9h0M248.5 271.4h0M195 282.6h0M280.2 292.2h0M223.6 514.8h0M217.8 246.5h0M244.1 262.5h0M177.4 508.1h0M204.8 281.4h0M198.3 456.9h0M186.7 312.4h0M210 332.2h0M174.2 475.2h0M172.6 477.7h0M198.9 302.7h0M176 322.7h0M186 464.7h0M174.5 486.7h0M203.4 330.1h0M196 314.4h0M216 451.4h0M213.5 481.8h0M178.5 314.7h0M212.2 297.7h0M218.7 450.5h0M188.5 335.1h0M203.6 492.8h0M188.2 477.4h0M186.3 310h0M203.5 301.2h0M177.2 484.7h0M169.1 474.6h0M210.3 464.8h0M168.1 469.8h0M200 80.6h0M189.8 91.2h0M255.8 101.6h0M186.3 109.8h0M200.6 117.4h0M196.3 119.8h0M170.3 147h0M205.5 150.5h0M176.5 163.8h0M217.8 166.7h0M187.9 169.1h0M292.4 169.9h0M169.9 172.2h0M216.2 175.5h0M171.8 179.1h0M242.9 180.2h0M196.3 184h0M193.3 188.8h0M248.5 189.8h0M293.9 201.8h0M195.7 205.5h0M189.8 212.3h0M229.9 213.3h0M235.8 215.9h0M206.5 215.3h0M192.8 218.2h0M222.1 220.2h0M164.4 223.1h0M180.4 228h0M308.8 227.6h0M335 228.4h0M193.7 229h0M218.8 229.9h0M164 233.9h0M205.5 233.5h0M251.5 232.5h0M255.4 232.1h0M240.7 234.8h0M243.6 237.2h0M281.2 235.8h0M277.9 242.7h0M263.2 245.6h0M269.1 244.2h0M195.7 243.6h0M232.3 248.5h0M188.8 250.5h0M256.4 255.4h0M287.7 257h0M185.9 259.3h0M194.7 257.3h0M263.8 263.2h0M326.4 273.4h0M376.3 514.7h0M326.4 521.5h0M177.1 528.4h0M203.5 533.3h0M183.6 538.2h0M235.8 533.3h0M265.2 542.1h0M176.1 543.4h0M249.5 545.4h0M218.2 547.9h0M207.8 550.9h0M262.2 552.8h0M292.2 553.8h0M167.9 555.4h0M218.2 556.4h0M227 557.3h0M166.3 562.2h0M243.6 561.6h0M258.3 562.2h0M288.1 569.1h0M189.8 569.1h0M175.1 570.1h0M232.3 569.5h0M239.1 574h0M188.5 579.3h0M273 580.8h0M216.8 582.2h0M209.4 589h0M207 593.5h0M210.4 596.9h0M242.3 593.5h0M188.3 602.2h0M185.5 616.8h0M278.3 626.2h0M245.2 630.5h0M262.6 643.8h0M203.5 658.9h0M169.5 688.3h0M198 719.6h0M449 299.5h0M463.5 329h0M490.5 337h0M521 356h0M555.5 362.5h0M572.5 468h0M499.5 468.5h0M597.5 424h0M574 432.5h0M537 447h0M563 446.5h0"/></defs>
<use href="#ra" fill="none" stroke="#8a0a0c" stroke-width="6.6" stroke-linecap="round"/>
<use href="#ra" fill="none" stroke="#e2070f" stroke-width="5.0" stroke-linecap="round"/>
<path d="M257.7 330.1h0M467.8 435.4h0M276.7 462.2h0M370.7 427.5h0M280.9 455.8h0M489.2 418.2h0M355.5 444.6h0M275.1 339.5h0M376.5 352.4h0M469.8 377.2h0M421.9 464.3h0M373.3 342.5h0M474.2 363.1h0M295.9 422.9h0M524.4 429.9h0M249.1 333.5h0M529.6 428.6h0M454.6 422.2h0M236.4 280.2h0M480.8 430.4h0M405.6 427.9h0M242.6 280.8h0M376.9 419.6h0M411.8 405.8h0M364.9 368.1h0M349.8 475.9h0M444.2 451.5h0M395.1 369.5h0M424.2 454.5h0M497.9 437.8h0M245.4 433h0M354.7 370.6h0M339.7 432.1h0M473.5 366.7h0M349.4 369h0M423 356.2h0M526.9 383.5h0M542.6 409.3h0M265.3 477.2h0M225.5 444.7h0M407.5 364.6h0M327.8 317.3h0M511 423.8h0M290.6 347.6h0M299.8 304.9h0M350 347.6h0M230.1 446.9h0M309.8 351h0M528.2 405.2h0M397.1 375.4h0M322.5 359.7h0M238.5 450.8h0M506.5 384.2h0M226.9 451h0M339.3 458.4h0M265.4 472h0M267.5 290.7h0M322.1 366.7h0M264.1 342.7h0M334.3 418.7h0M372.3 345.7h0M451.8 437.9h0M464.1 378h0M368.5 426h0M460.5 367.9h0M366.5 416.7h0M437.4 374.3h0M235.4 350.5h0M245.2 333.8h0M266.6 442.2h0M516.1 368.6h0M408.9 418h0M464.7 366.4h0M380.7 352.7h0M316 313.2h0M348.1 476.2h0M550.5 408.7h0M502 418h0M278.1 342.4h0M393.4 375h0M386.5 444.2h0M248.3 445.5h0M255.5 439.6h0M316.9 356.6h0M427.1 366.1h0M458.1 449.1h0M310.3 415.5h0M387.9 376.8h0M397.7 379h0M254.1 428.9h0" fill="none" stroke="#231f20" stroke-width="6.5" stroke-linecap="round"/>
<g>
<line x1="118.0" y1="16.5" x2="118.0" y2="776.6" stroke="#555" stroke-width="1.7"/>
<line x1="117.2" y1="775.8" x2="743.5" y2="775.8" stroke="#3a3a3a" stroke-width="1.7"/>
<line x1="742.7" y1="12.7" x2="742.7" y2="775.8" stroke="#222" stroke-width="1.7"/>
<line x1="546.2" y1="13.5" x2="678.0" y2="13.5" stroke="#666" stroke-width="1.2"/>
<line x1="677.0" y1="13.5" x2="742.7" y2="13.5" stroke="#222" stroke-width="1.8"/>
<line x1="113.0" y1="163.1" x2="118.0" y2="163.1" stroke="#222" stroke-width="1.5"/>
<line x1="113.0" y1="394.3" x2="118.0" y2="394.3" stroke="#222" stroke-width="1.5"/>
<line x1="113.0" y1="625.5" x2="118.0" y2="625.5" stroke="#222" stroke-width="1.5"/>
<line x1="272.5" y1="775.8" x2="272.5" y2="780.8" stroke="#222" stroke-width="1.5"/>
<line x1="430.5" y1="775.8" x2="430.5" y2="780.8" stroke="#222" stroke-width="1.5"/>
<line x1="588.5" y1="775.8" x2="588.5" y2="780.8" stroke="#222" stroke-width="1.5"/>
</g>
<g font-size="22" fill="#4d4d4d">
<text x="110" y="168.5" text-anchor="end">2</text>
<text x="110" y="399.7" text-anchor="end">0</text>
<text x="106.6" y="630.9" text-anchor="end" letter-spacing="-3.6">-2</text>
<text x="273.3" y="802.8" text-anchor="middle">0</text>
<text x="431.3" y="802.8" text-anchor="middle">5</text>
<text x="590.5" y="802.8" text-anchor="middle">10</text>
</g>
<text x="320.8" y="845.9" font-size="28.3" textLength="232.0" lengthAdjust="spacingAndGlyphs">Average Expression</text>
<text transform="translate(73.3 441.8) rotate(-90)" font-size="29.3" textLength="116.5" lengthAdjust="spacingAndGlyphs">log<tspan font-size="17" dy="7.5">2</tspan><tspan dy="-7.5">(FC)</tspan></text>
<text x="771.5" y="361.4" font-size="29.3" textLength="152.5" lengthAdjust="spacingAndGlyphs">Significance</text>
<text x="797.5" y="399.0" font-size="24.6" textLength="127.0" lengthAdjust="spacingAndGlyphs">FDR &gt; 0.05</text>
<text x="797.5" y="428.9" font-size="24.6" textLength="127.0" lengthAdjust="spacingAndGlyphs">FDR &lt; 0.05</text>
<circle cx="782.9" cy="393.5" r="3.9" fill="#231f20"/>
<circle cx="782.9" cy="423" r="3.6" fill="#e2070f" stroke="#8a0a0c" stroke-width="0.8"/>
<text x="23.3" y="64.2" font-size="53" textLength="35.0" lengthAdjust="spacingAndGlyphs" stroke="#000" stroke-width="0.5">A</text>
<polygon fill="#c4c4c4" points="1455.0,597.0 1365.0,598.0 1362.5,629.0 1360.5,654.5 1368.0,680.0 1383.2,705.3 1403.6,725.7 1429.0,741.0 1458.5,753.4 1488.0,741.0 1518.0,723.2 1533.3,705.3 1546.0,687.5 1553.0,669.7 1555.0,654.5 1546.0,629.0 1541.0,598.0 1464.2,597.0 1459.6,678.0"/>
<path d="M1364.4 644.7h0M1412.5 726.2h0M1440.7 745.1h0M1445.5 743.5h0M1436.9 740.1h0M1369 598.6h0M1367.3 662.7h0M1365.8 641.3h0M1423.1 733.5h0M1386 703.9h0M1364.9 652.9h0M1366.1 633.8h0M1359.1 642.3h0M1411.4 725.4h0M1436.6 739.8h0M1458 749.7h0M1367.5 605.6h0M1369 600.7h0M1421.6 731.7h0M1378.8 690.2h0M1370.3 673.6h0M1368 666.1h0M1379.9 691.6h0M1364.6 653.5h0M1445.8 744.2h0M1402.3 718.6h0M1443.6 742.7h0M1395.6 712.3h0M1443.8 742.6h0M1389.1 705.5h0M1361 616.6h0M1390.5 706.7h0M1432.7 738.2h0M1383.3 697.5h0M1368.4 669.6h0M1378.9 689.9h0M1364.8 652.4h0M1375.4 685.2h0M1364.9 653.3h0M1365.8 613.2h0M1398.2 715.6h0M1437.4 740.1h0M1366.6 660.7h0M1430.5 739.4h0M1369.8 671.3h0M1369.5 670.4h0M1376.2 686.3h0M1381.8 696.4h0M1370.1 672.8h0M1365.9 639.7h0M1426.9 734.8h0M1368 608.3h0M1395.8 711.9h0M1366.9 662.8h0M1366.8 660.7h0M1428.9 736.1h0M1365.7 636.5h0M1455.1 747.5h0M1361.8 623.7h0M1377.2 687.6h0M1405.4 721.6h0M1363.7 667.6h0M1369.1 600.5h0M1438.6 741.8h0M1386.3 703h0M1388.2 704.3h0M1364.6 653.1h0M1400.3 718.4h0M1452.4 746.5h0M1395.9 711.9h0M1433.6 738.4h0M1366.2 636.5h0M1366.3 635.6h0M1398 716.5h0M1414.8 727.5h0M1371.8 678.1h0M1382.6 696.3h0M1439.9 741.3h0M1393.2 710.9h0M1380.9 699.8h0M1396.4 712.6h0M1367.6 618.6h0M1413.5 726.7h0M1458.3 748.8h0M1405.5 722.8h0M1453.5 748.9h0M1367.9 610.3h0M1382.5 696h0M1401.7 723.4h0M1380.8 694.1h0M1383.2 697.1h0M1366 666.7h0M1401 717.4h0M1395.5 711.7h0M1443.8 743.7h0M1404.2 720.6h0M1391.7 708.2h0M1410.6 724.9h0M1400.5 716.6h0M1408.5 724.8h0M1371.7 677.9h0M1451 745.7h0M1389.3 705.8h0M1374.7 684.5h0M1365.7 638.3h0M1414.5 727.3h0M1436 739.3h0M1367.8 614.2h0M1388.4 704.5h0M1363.7 638h0M1368.6 603.2h0M1422.4 732.7h0M1382.4 695.9h0M1412.8 727h0M1368.3 605.5h0M1433 738.1h0M1369 672h0M1452.3 746.7h0M1432.4 738.2h0M1423.2 733.7h0M1367.5 617h0M1367.3 616.5h0M1368.1 608.2h0M1391.3 708.5h0M1368.9 669.2h0M1365.3 648.3h0M1387.2 704.2h0M1377.6 688.2h0M1365.6 640.1h0M1389.2 705.4h0M1432 738h0M1366.6 618.1h0M1368.2 666.2h0M1395.3 712.9h0M1415.7 728.1h0M1370.1 672.9h0M1366.7 660.9h0M1371.1 676.8h0M1364.8 654.5h0M1439.8 740.9h0M1378.5 689.5h0M1365.3 639.4h0M1362.3 625.2h0M1356.2 649.6h0M1442.7 742.2h0M1436.4 739.9h0M1370.1 674.4h0M1366.5 660.2h0M1418.5 731h0M1367.2 663.2h0M1372.2 683.1h0M1373.1 680.8h0M1413.6 727h0M1379.8 691.4h0M1380.8 693.9h0M1364.7 649.7h0M1424.5 733.5h0M1369 674.3h0M1365.2 644.2h0M1402.9 719h0M1451.7 746.3h0M1424.4 734.4h0M1459.6 749.5h0M1363.2 648.1h0M1367.3 669.6h0M1382.8 696.6h0M1428.9 736.3h0M1368.1 665.5h0M1370.6 673.9h0M1374.3 683.5h0M1366.7 660.6h0M1417 728.9h0M1369.6 670.6h0M1416.4 729.7h0M1367.9 665h0M1390.8 708.3h0M1391 715.6h0M1394.7 710.9h0M1356.4 617.5h0M1366.1 635.2h0M1385.6 701h0M1369.5 669.8h0M1394.8 711.2h0M1365 638.1h0M1364.7 624.6h0M1365.1 648.6h0M1367.6 618.2h0M1370.5 675h0M1371.6 678.4h0M1419.7 730.4h0M1367.3 621.1h0M1365.9 658.3h0M1418.1 729.8h0M1392.5 709.4h0M1367.6 619.4h0M1427.3 735.1h0M1380.3 692.1h0M1429.1 736.1h0M1365.5 639.3h0M1450.7 745.7h0M1368.1 666.2h0M1391.8 707.9h0M1443.8 742.8h0M1392.6 709.5h0M1366.6 628.2h0M1371.6 677.4h0M1378.3 694.4h0M1367.8 615.2h0M1364.9 651.6h0M1448 744.7h0M1413.9 727h0M1428.3 735.6h0M1433.4 738.3h0M1388 705.3h0M1368.6 605.5h0M1427.9 736.8h0M1393.6 710h0M1384.4 699.9h0M1442.4 742.5h0M1377.2 687.4h0M1363.5 613.5h0M1405.4 721.6h0M1415.5 728.2h0M1379.9 692h0M1429.5 736.4h0M1364.1 654.5h0M1368 614.6h0M1384.9 700.5h0M1371.5 677.9h0M1367.5 665h0M1450.4 747.5h0M1419 730h0M1379 690.6h0M1370.8 675.1h0M1386.2 703.7h0M1457.5 748.9h0M1453 746.6h0M1365.1 650h0M1406.5 722.7h0M1368.9 668.8h0M1364 625.3h0M1419 730h0M1365.2 645.8h0M1426.9 735.5h0M1396.2 712.6h0M1397.5 713.8h0M1368.4 667.1h0M1368.7 602.4h0M1400.1 716.8h0M1363.9 617.6h0M1401.1 717.3h0M1413.1 726.8h0M1365.9 638h0M1364.7 647.7h0M1406.7 722.9h0M1390 706.3h0M1366 659.4h0M1422.7 733.2h0M1426.9 734.8h0M1404.7 720.8h0M1384.3 704.7h0M1364.4 641.7h0M1370.6 677.2h0M1439.6 741.2h0M1380.4 692.8h0M1393.5 712.3h0M1365.5 620.2h0M1415.2 728h0M1365 654.7h0M1367 625.6h0M1413.8 726.9h0M1420.1 730.9h0M1390 711.1h0M1362.3 608.5h0M1430.8 737.5h0M1366.5 632.1h0M1367.1 625.2h0M1410.4 728.6h0M1371.5 676.8h0M1432.2 737.7h0M1366.1 661.1h0M1407.4 723.1h0M1364.7 652.8h0M1403.4 719.6h0M1378 690.4h0M1365.4 644h0M1365.3 658.8h0M1425.6 734.1h0M1366 622h0M1396.9 713.6h0M1368.6 600.4h0M1439.4 740.9h0M1388.1 704.4h0M1367.9 599.1h0M1450.9 746.2h0M1373.1 680.2h0M1366.5 660h0M1365.1 648.3h0M1412.9 726.6h0M1367.9 674.5h0M1366.3 634.8h0M1377.8 688.3h0M1366.8 628.4h0M1368 665h0M1381.7 694.6h0M1365.4 644.5h0M1420.6 731.1h0M1455.7 748.6h0M1367.7 665.8h0M1433.6 738.3h0M1396.6 713h0M1366.3 660.2h0M1376.6 686.4h0M1425.8 734.3h0M1365.2 648.8h0M1417.4 730.2h0M1441.1 741.6h0M1367.6 674.3h0M1362.5 624.5h0M1380.1 694.4h0M1365.1 647.6h0M1366.4 627.9h0M1365.2 645.4h0M1381.9 695.2h0M1422.5 733.5h0M1369.1 599h0M1398 714.3h0M1409.9 724.5h0M1411.1 725.7h0M1368 613.3h0M1371.6 678.7h0M1425.6 734.1h0M1440.3 741.2h0M1428 735.6h0M1368.4 609.2h0M1417.5 729.2h0M1446.6 744h0M1436.9 739.9h0M1363.4 640.9h0M1367.4 620h0M1366.5 673.4h0M1380.7 693h0M1389.1 705.4h0M1403.2 719.3h0M1374.1 684.4h0M1376.8 687.7h0M1366.4 633.5h0M1370.9 682.2h0M1421.1 731.3h0M1446.1 743.7h0M1364.8 654h0M1425.5 734.1h0M1424.1 734.3h0M1365.7 643.4h0M1368.1 612.6h0M1384.9 699.9h0M1368.9 602.1h0M1364.8 654h0M1365.6 637.2h0M1422.7 732.6h0M1545.1 678.3h0M1519.5 715.4h0M1519.7 714.7h0M1525.5 709.7h0M1527.7 705.6h0M1529.7 703.4h0M1542.4 627.6h0M1546.6 675.3h0M1546.2 675.7h0M1550.6 655.6h0M1546 641.1h0M1552.4 663.2h0M1513.8 721.7h0M1493.1 734.7h0M1550.6 655.5h0M1549.7 663.8h0M1551 657.7h0M1503.1 727.4h0M1531.4 701h0M1492.1 733.7h0M1543.9 681.7h0M1550.9 654.2h0M1509.1 723.6h0M1549.2 667.2h0M1548.3 648.2h0M1546.7 643.4h0M1549.2 666.6h0M1547 644.5h0M1545.9 676h0M1551 655.5h0M1536.4 693.8h0M1545 638.6h0M1530.8 701.6h0M1526 707.7h0M1549 675.2h0M1542.3 619h0M1531.2 702.5h0M1529.1 707.9h0M1551 655h0M1550.1 653.4h0M1521.7 712.5h0M1536.4 701.6h0M1544.3 622.1h0M1511.5 722h0M1523.8 714.9h0M1515.9 720h0M1492.2 734.1h0M1549.9 664h0M1540.3 618h0M1540.5 688h0M1527.5 706.9h0M1521.9 712.8h0M1548.7 669.7h0M1516.5 718.7h0M1543.2 683.2h0M1551.2 656h0M1550.4 657.9h0M1534.8 696.4h0M1550.8 655.5h0M1500.8 728.8h0M1516.5 718.4h0M1531.3 701.5h0M1549.2 665.9h0M1529.7 711.8h0M1537.1 599.5h0M1533 699.1h0M1486.6 737.7h0M1493.1 733.7h0M1537.9 691.7h0M1490.1 734.8h0M1488.4 736h0M1548.8 647.3h0M1540.9 622.3h0M1544.7 628.9h0M1530.7 701.6h0M1527.1 708.6h0M1549.6 663.3h0M1550.7 656.8h0M1505.3 726.3h0M1538.6 690.8h0M1539.2 612.2h0M1526.8 707.2h0M1550.9 661.4h0M1500.3 729.1h0M1524.4 709.4h0M1551.4 644.6h0M1527.1 706.4h0M1537 697.6h0M1544.4 606.2h0M1537.6 692h0M1550.1 659.3h0M1535.1 695.6h0M1551.5 655.1h0M1549.6 651.7h0M1522.3 712.4h0M1550.7 655.2h0M1521.7 713.1h0M1535.5 695.4h0M1545.9 640.6h0M1556.8 663.4h0M1543.5 601.8h0M1491.7 734.4h0M1517 718.1h0M1534.2 696.7h0M1523.8 712.6h0M1544.8 634.5h0M1542 689.5h0M1544.1 636.1h0M1546.8 644.1h0M1542.1 685.8h0M1509.6 723.5h0M1543.1 684h0M1524.1 710.3h0M1548.8 642.6h0M1528.3 704.9h0M1505.2 725.9h0M1526.3 707.1h0M1537 693.1h0M1549.9 671.6h0M1503.3 727.3h0M1545.9 676.9h0M1539.6 615.5h0M1544.9 637.9h0M1545.5 639.3h0M1543.9 634.4h0M1544.1 681.5h0M1489 735.6h0M1542.2 630.9h0M1503.5 728.1h0M1503.2 727.4h0M1551.1 658.2h0M1543.7 634.7h0M1491 735h0M1537.3 598.7h0M1541.6 687.7h0M1524.9 708.9h0M1549.8 661.2h0M1515.5 720.3h0M1544.4 636.4h0M1514.2 720.8h0M1548.3 671.1h0M1550.2 662.6h0M1544.7 679.4h0M1550.5 653.2h0M1494.6 734.1h0M1495.1 732h0M1535.3 695.3h0M1549.4 664.8h0M1546.5 643.1h0M1544.6 680.5h0M1546.8 642.3h0M1553.9 654.6h0M1542.5 632h0M1542.2 685.6h0M1521.6 716.6h0M1502.9 727.5h0M1535.7 695.3h0M1551 655.8h0M1549.3 666.9h0M1515.8 719.7h0M1545 638.2h0M1538.2 607.6h0M1489.7 735.7h0M1526.5 707.7h0M1551.3 657.7h0M1492.9 733.5h0M1510.5 722.7h0M1521.3 713.6h0M1549.9 653h0M1537 599.4h0M1543.7 634.9h0M1551 660.7h0M1541.5 686.6h0M1542.3 631.2h0M1553.8 660.7h0M1543.8 632.2h0M1551.1 655.8h0M1532.3 699.3h0M1538.1 605.5h0M1540.7 687.9h0M1519.8 714.7h0M1538.3 691.5h0M1550 663.5h0M1493.1 734.8h0M1536.2 693.8h0M1547.8 646.1h0M1549.3 668.2h0M1539.3 689.8h0M1542.5 685.6h0M1501.8 728h0M1547.3 642.8h0M1541.4 625.4h0M1546.5 675.4h0M1530.8 703.4h0M1546.9 644.3h0M1525.7 708.6h0M1546 675.9h0M1542.8 685.1h0M1543.2 633.7h0M1541.8 628h0M1540.9 623.7h0M1508.9 724.9h0M1545.8 641.4h0M1513 721.4h0M1541.5 627.8h0M1549.2 650.7h0M1523.1 710.9h0M1538.1 607h0M1548.8 639.9h0M1514.1 720.7h0M1528 705.1h0M1551.5 666h0M1539.8 689h0M1538.4 606.7h0M1543.3 633.7h0M1531.5 701.3h0M1548.4 648h0M1524.7 708.8h0M1544 683.9h0M1537.3 694h0M1539.5 613.9h0M1538.4 606.1h0M1531.5 702h0M1538.1 605.2h0M1535.3 695.1h0M1550.8 656.4h0M1549.8 662h0M1541.5 627.2h0M1541.2 625.6h0M1546.4 642.9h0M1500.9 729.2h0M1533.1 706.8h0M1536.2 694.1h0M1540.2 615.7h0M1546.8 642.6h0M1497.4 730.5h0M1521.6 712.8h0M1540.8 622.8h0M1548.2 670.3h0M1497.3 730.7h0M1531.2 700.9h0M1545.9 679.8h0M1498.1 730.3h0M1503 727.2h0M1520.9 714h0M1538.9 690.1h0M1537.3 601.7h0M1504.5 726.3h0M1550.8 655.1h0M1550.5 659.4h0M1542.3 685.6h0M1541.4 626.8h0M1549.8 663h0M1514.1 720.9h0M1549.6 664.5h0M1537.3 601.1h0M1548.3 671.8h0M1550.5 659.4h0M1529.9 702.7h0M1519.7 714.7h0M1544 613.6h0M1539.7 615.9h0M1520.6 714.8h0M1550.5 658.6h0M1546.1 641.1h0M1547.4 645.5h0M1526.3 707.2h0M1516.7 718.7h0M1545.4 677.9h0M1520.6 713.8h0M1525.2 708.5h0M1548.3 670.2h0M1546.6 680.1h0M1543.2 633.7h0M1547 673.7h0M1502.6 727.8h0M1539.6 615.6h0M1544.6 637.1h0M1540.3 694.8h0M1537.1 694.4h0M1543.5 682.4h0M1541.8 627.8h0M1534.3 697h0M1541.1 624.4h0M1543.5 616.6h0M1545.7 640.4h0M1538.2 607.2h0M1524.8 712.6h0M1513.5 721h0M1550.1 659.6h0M1496.1 731.9h0M1544.5 637.4h0M1542.6 630.3h0M1533.3 698h0M1541.7 628.8h0M1549.9 660.8h0M1544.2 635.7h0M1541.2 625.3h0M1549.2 667.9h0M1494 733.1h0M1531.6 700.5h0M1550.7 655.1h0M1549.5 651.6h0M1531.2 701h0M1550.6 660.1h0M1553 653.9h0M1548.7 649h0M1531.9 700.1h0M1550.4 660.7h0M1551.2 669.8h0M1513 721.3h0M1503.6 727.2h0M1549.8 676.5h0M1546.6 674.8h0M1530.1 703.6h0M1549.9 650.9h0M1521.6 713h0M1547 643.9h0M1517.6 717.1h0M1545.6 676.8h0M1537.5 692.2h0M1509.5 723.3h0M1516.5 718.4h0M1507 725.1h0M1524.9 708.9h0M1545 679.5h0M1548.9 622.7h0M1547.6 641.1h0M1524.3 710.9h0M1548.1 646.6h0M1531.5 700.6h0M1537.6 601.8h0M1534.3 696.6h0M1542.6 685.4h0M1534.8 700.7h0M1516.5 718.9h0M1536.4 693.6h0M1547.5 672.3h0M1545.7 631.9h0M1541.3 623.1h0M1489.6 735.2h0M1550.9 655.7h0M1550.2 657.7h0M1514 720.7h0M1536.5 694.6h0M1541.4 627.1h0M1550.8 627h0M1544.8 679.4h0M1546.9 644.1h0M1549.1 668.9h0M1538 691.9h0M1543 684.4h0M1523.8 710.5h0M1535.9 700.9h0M1517.7 717h0M1537.2 601.1h0M1541.5 687.6h0M1503.2 727.6h0M1492.4 734h0M1549.7 662.3h0M1454.6 663.5h0M1464.6 663.5h0M1454.1 655.2h0M1465.1 655.2h0M1453 635.8h0M1466.2 635.8h0M1453.1 637h0M1466.1 637h0M1455.1 675.1h0M1464.1 675.1h0M1454.1 653.6h0M1465.1 653.6h0M1454.7 665.4h0M1464.5 665.4h0M1451.1 606.7h0M1468.1 606.7h0M1454.9 669.6h0M1464.3 669.6h0M1451.4 611h0M1467.8 611h0M1452.5 628.5h0M1466.7 628.5h0M1453.1 637.6h0M1466.1 637.6h0M1451 606.3h0M1468.2 606.3h0M1451.8 617.8h0M1467.4 617.8h0M1454.4 659.8h0M1464.8 659.8h0M1454.9 670.1h0M1464.3 670.1h0M1451.4 610.9h0M1467.8 610.9h0M1455.1 674.2h0M1464.1 674.2h0M1453.8 649h0M1465.4 649h0M1452 620.9h0M1467.2 620.9h0M1453.7 647.3h0M1465.5 647.3h0M1455.1 675.9h0M1464.1 675.9h0M1452 620.5h0M1467.2 620.5h0M1452.7 631.5h0M1466.5 631.5h0M1451.3 610.6h0M1467.9 610.6h0M1454.7 665.9h0M1464.5 665.9h0M1454.2 657h0M1465 657h0M1450.6 600.3h0M1468.6 600.3h0M1451.7 616.3h0M1467.5 616.3h0M1454.4 660.6h0M1464.8 660.6h0M1454.3 657.2h0M1464.9 657.2h0M1452.6 630.1h0M1466.6 630.1h0M1451.4 611.7h0M1467.8 611.7h0M1453.8 648.8h0M1465.4 648.8h0M1453.7 647.1h0M1465.5 647.1h0M1452.3 625.4h0M1466.9 625.4h0M1451.3 609.6h0M1467.9 609.6h0M1454.5 661.2h0M1464.7 661.2h0M1451.6 614.8h0M1467.6 614.8h0M1454.8 666.9h0M1464.4 666.9h0M1452.2 623.2h0M1467 623.2h0M1451.3 610h0M1467.9 610h0M1451 605h0M1468.2 605h0M1452.3 624.6h0M1466.9 624.6h0M1453.7 647h0M1465.5 647h0M1453.3 640.3h0M1465.9 640.3h0M1455.1 674.6h0M1464.1 674.6h0M1454.3 658.7h0M1464.9 658.7h0M1454.1 654.9h0M1465.1 654.9h0M1451.1 606.8h0M1468.1 606.8h0M1312.6 603.5h0M1304.7 620.5h0M1331.1 617.6h0M1336.4 606.1h0M1346.9 602.6h0M1353.1 609.6h0M1330.2 630.8h0M1341.6 629.9h0M1335.5 637.8h0M1358.4 627.2h0M1359.3 640.4h0M1346.9 644.9h0M1352.2 651h0M1324.9 653.7h0M1330.2 650.1h0M1311.7 661.6h0M1336.4 661.6h0M1346 662.5h0M1341.3 694.7h0M1362.4 691.5h0M1364.5 694.2h0M1355.7 703h0M1375.1 701.2h0M1369.5 712.3h0M1400.6 724.1h0M1585.6 602.6h0M1579.4 607.9h0M1592.6 612.3h0M1590 618.4h0M1623.1 622.5h0M1634 621.1h0M1579.4 623.7h0M1572.4 622.8h0M1585.6 631.6h0M1557.4 631.6h0M1568.8 638.7h0M1577.6 640.4h0M1606.7 644h0M1563.6 651.9h0M1577.6 651h0M1586.4 654.5h0M1582 660.7h0M1563.6 661.6h0M1570.6 666h0M1568.8 673.9h0M1580.3 672.1h0M1559.2 685.4h0M1562.7 691.5h0M1552.1 691.5h0M1560.9 695.9h0M1538.9 713.5h0M1530.1 725h0M1537.1 703.8h0M1566.9 662.2h0M1561.2 638.2h0M1541.3 621.8h0M1543.2 644.9h0M1562.2 628.8h0M1560.7 629.4h0M1570 651.8h0M1567.8 617h0M1548.5 643.1h0M1571.6 631.6h0M1543.2 619.6h0M1549 626.5h0M1555.5 611.6h0M1558.1 657.5h0M1555.8 623.8h0M1541.3 603.3h0M1547.3 636.9h0M1540.6 639.6h0M1569.8 612.5h0M1555.5 603.5h0M1552.2 612.2h0M1558.4 644.3h0M1566.4 606.6h0M1545.1 602.5h0M1557.7 602.1h0M1545.3 612.5h0M1555.3 626.9h0M1541.9 630.5h0M1566.9 606.4h0M1560.4 625.5h0M1568.9 626.4h0M1561.9 617.1h0M1559.6 658.8h0M1541.2 663.8h0M1560.1 643.2h0M1564.7 653.7h0M1556.4 639.1h0M1570.6 602h0M1571.9 604.7h0M1564.2 613.3h0M1547.3 613h0M1550.7 633h0M1546 643.9h0M1550.6 628.4h0M1565.7 655.5h0" fill="none" stroke="#c4c4c4" stroke-width="9.0" stroke-linecap="round"/>
<defs><path id="tb" d="M1416.7 578.6h0M1433.3 598.8h0M1444.3 554.8h0M1438 582.3h0M1440.4 599.5h0M1433.7 585.4h0M1403.9 566h0M1450.3 561.5h0M1450.4 597.5h0M1442.2 533.7h0M1442.6 595.5h0M1443.8 525.8h0M1428.9 531.9h0M1438.3 516.1h0M1441.4 581.6h0M1448.7 594h0M1445.4 560.6h0M1439.8 588h0M1450.7 581.5h0M1426 581.6h0M1448.1 589.5h0M1444.8 564.3h0M1434.2 580.5h0M1443.5 540.7h0M1426 568.1h0M1445.9 591.1h0M1441.2 554.2h0M1444.6 510.8h0M1432.1 560.7h0M1428.3 596.4h0M1448.4 536.3h0M1433.7 517.3h0M1424.5 584.7h0M1446.1 581h0M1432.5 574.7h0M1439.7 535.3h0M1445.1 595.8h0M1445.5 581.6h0M1445.3 465.9h0M1440.9 545h0M1447.5 577.5h0M1448.2 598.6h0M1447.3 564.9h0M1442.2 581h0M1441.6 498.2h0M1443.8 575h0M1449.8 578.2h0M1438.8 503.2h0M1437.9 586.2h0M1418.4 591.2h0M1417.1 574h0M1445.9 599.3h0M1429.3 579.9h0M1443.7 557h0M1442.9 477.6h0M1445.5 583.8h0M1442.2 565.9h0M1439.8 591h0M1409.1 558.9h0M1448.6 582.3h0M1413.6 588.8h0M1448.4 585h0M1439.3 590.3h0M1417.9 590.3h0M1439.4 596.7h0M1413.9 576.1h0M1444.5 515.1h0M1450.5 568.1h0M1446 599.8h0M1447.3 556.3h0M1446.6 569.2h0M1429.6 553.8h0M1449.1 593.4h0M1421.5 559.8h0M1446.6 591.4h0M1447.7 595.6h0M1437.1 583.5h0M1441.8 585.7h0M1427.6 583.3h0M1443.6 552.6h0M1448 577.4h0M1441.6 532h0M1446.6 597.8h0M1432.9 533.6h0M1438.8 594.1h0M1449.5 540.1h0M1448.8 572.1h0M1446.5 542.3h0M1444.2 589.3h0M1442.6 590.1h0M1447.7 534.2h0M1447.3 515.4h0M1449.8 584.5h0M1436.6 493.5h0M1392.5 594.4h0M1445.3 549.7h0M1444.4 492h0M1426.8 595.2h0M1439.7 559.4h0M1431.9 552.5h0M1447.2 530.2h0M1445.8 563.2h0M1445.6 575.9h0M1440.9 563.1h0M1434.9 553.3h0M1431.7 566.8h0M1440.7 548.1h0M1447.1 540.1h0M1450.2 573.5h0M1428.5 576.1h0M1450.6 596.9h0M1438 576.8h0M1438.4 520.5h0M1448.2 571.3h0M1427.1 585.9h0M1400.2 590.2h0M1441.3 575.3h0M1400.1 530.8h0M1438.2 586.2h0M1449.1 599.6h0M1450.7 585.5h0M1437.7 536h0M1441.8 594.5h0M1448.8 535.7h0M1415.8 543.2h0M1446.8 578.4h0M1448.6 569.1h0M1419.4 570.1h0M1445.3 593.8h0M1450 540.6h0M1417.7 581.3h0M1442 565.8h0M1448.6 591.5h0M1442.4 572.2h0M1425.7 522.2h0M1448 551.8h0M1446.5 560.6h0M1447.5 554.8h0M1448.7 566.9h0M1448.1 553.6h0M1438.7 555.9h0M1444.5 570.4h0M1438.4 560.1h0M1446.4 573.5h0M1448.6 530.8h0M1441.2 572.2h0M1449 552.7h0M1448.3 579.9h0M1434.3 542.4h0M1437 569.7h0M1431.2 596.7h0M1448.7 555.4h0M1434.1 516.8h0M1449.7 561.8h0M1438 570.5h0M1446.4 553.5h0M1434.8 540.4h0M1444.1 560.5h0M1440.1 503.5h0M1432.3 583h0M1433.1 534.5h0M1450.1 595.3h0M1450.5 570.5h0M1432 566.1h0M1440.4 562.6h0M1426.4 595h0M1436.9 548.9h0M1447.5 536.9h0M1435.6 572.5h0M1436.8 599.6h0M1438.8 565.2h0M1449.8 573h0M1407.2 553h0M1449.7 567.7h0M1449.3 560.4h0M1434 596.7h0M1449.9 561.4h0M1430.7 574h0M1440.2 550.3h0M1423.2 518h0M1449.8 542.5h0M1448.8 566.5h0M1433.7 559.1h0M1445.6 569.6h0M1446 521.9h0M1450 556.7h0M1436.8 562h0M1447 518.5h0M1439.1 571.4h0M1443.1 517.4h0M1447.2 594.3h0M1446.6 513.1h0M1436.9 554.8h0M1439 521.1h0M1415.8 558h0M1448.2 542.7h0M1440 583h0M1431.4 577.6h0M1447.1 569.5h0M1447.5 569h0M1416.4 582.3h0M1436.5 568.1h0M1448.3 530.5h0M1444.1 568.9h0M1443.3 525.6h0M1447.6 596h0M1414 591h0M1438.2 590.2h0M1446.5 588.1h0M1440.1 508.5h0M1445.7 574.9h0M1429 555.4h0M1438 543.6h0M1434.6 525.8h0M1427.7 573h0M1448.6 596.6h0M1439.8 542.4h0M1423.2 581h0M1427.2 584.7h0M1444.8 585.1h0M1446.8 548.9h0M1434.4 525.2h0M1448.5 596.1h0M1435.6 587.3h0M1443.2 592.8h0M1442.2 560.5h0M1446.5 562.3h0M1447.6 594h0M1439.6 561.1h0M1443.4 474.5h0M1438.4 555h0M1442 539.1h0M1444.9 553h0M1447.2 558.6h0M1421.1 562.7h0M1440.4 560h0M1449.6 545.9h0M1430.5 583.3h0M1449.7 553h0M1426 578.4h0M1433.7 587.9h0M1439.7 563.2h0M1444.2 529.6h0M1448.1 535.7h0M1445.2 511.7h0M1445.9 520.4h0M1445.2 557.5h0M1441.5 512.4h0M1444.2 573.3h0M1449.2 583.6h0M1448.1 548.2h0M1448.3 549.4h0M1429.9 595.5h0M1432.6 558.6h0M1445.8 580.4h0M1431 575.3h0M1436.5 583.7h0M1450.2 565.4h0M1447.5 563.8h0M1438.2 593.1h0M1447.7 561.5h0M1436.6 550.5h0M1449.2 555.1h0M1449.3 596.9h0M1448.3 527.6h0M1444.9 497.5h0M1448 560.6h0M1428.3 568.8h0M1439.3 553.9h0M1434.6 583.7h0M1438.9 584.2h0M1449.6 582.7h0M1447.1 539.2h0M1448.1 543.1h0M1445.7 560.1h0M1443.4 499h0M1424.7 505.9h0M1430.4 553h0M1448.2 528h0M1449.7 557.6h0M1419.9 558.2h0M1443.5 547.4h0M1416.2 523.2h0M1437 514.5h0M1431.2 509.2h0M1445 593.8h0M1447.2 534.3h0M1446.7 563.7h0M1445.5 579.7h0M1421.5 590.1h0M1434.4 571.6h0M1435.6 529.4h0M1445.6 548.3h0M1447 580.6h0M1443.6 485h0M1424.4 594.8h0M1441.8 545.6h0M1444 554h0M1448.9 590.3h0M1447.2 577.8h0M1433.9 560.4h0M1428.5 581h0M1447.8 590.9h0M1433.3 599.6h0M1439.1 559.8h0M1448.8 552.8h0M1440.4 503h0M1443.3 599.7h0M1431.8 585.9h0M1450.7 589.5h0M1434.9 590.4h0M1422.4 563.6h0M1437.1 515.9h0M1422 503.4h0M1440.9 587.6h0M1449.3 536.1h0M1448.7 584.9h0M1448.7 549.6h0M1429.8 551h0M1444.8 591.3h0M1412.9 598.9h0M1437.2 581.6h0M1428.6 585.8h0M1440.1 557.8h0M1438.8 484.2h0M1439.3 590.7h0M1427.2 537.3h0M1429.9 578h0M1431.7 588.3h0M1448.7 565.5h0M1443.1 464h0M1448.2 545.3h0M1434.6 578.9h0M1446 566h0M1432.8 582.5h0M1445.7 533h0M1448.7 561.5h0M1408.9 597.4h0M1431.5 589.2h0M1448.5 530.5h0M1448.3 570h0M1440.5 499.8h0M1431.4 598.6h0M1441.6 503.2h0M1448.9 538.7h0M1440.3 539.6h0M1433.7 473.3h0M1436 586.9h0M1440.7 477.9h0M1440.1 586.5h0M1425.4 578.9h0M1438.2 525.4h0M1437.1 553h0M1424.5 577.4h0M1446.7 545h0M1446.4 584.2h0M1447.6 555.3h0M1439.4 573.4h0M1449.9 541.5h0M1440.9 560.2h0M1450.3 573h0M1447.3 513.9h0M1438.2 559.7h0M1433.9 538h0M1449.6 584.6h0M1429.8 599.7h0M1407.5 561.8h0M1448.1 550.9h0M1445.6 560.6h0M1441.1 552.9h0M1434.8 596.9h0M1438.4 589.3h0M1444.5 540.7h0M1445.2 538.3h0M1448.1 553.4h0M1437.1 563.2h0M1421.7 529.1h0M1441.3 532.2h0M1447 584.7h0M1438.3 569.1h0M1437.5 589.2h0M1441.5 548.1h0M1449.1 542.9h0M1401.1 538h0M1437 565.6h0M1447.4 599.9h0M1429.5 550.1h0M1423.5 546.5h0M1446.3 504.5h0M1449.5 551h0M1446.4 545.4h0M1443.6 552.7h0M1424.1 559.6h0M1436.9 598.3h0M1431.9 574h0M1440.2 577.8h0M1441.2 569.8h0M1447.4 585.3h0M1436.7 544.7h0M1444 596.1h0M1443.5 566.8h0M1444.5 557h0M1421.6 495.1h0M1443.6 565.1h0M1447.2 581.2h0M1448.4 595.7h0M1435.2 550.9h0M1442.7 550.2h0M1445 545.2h0M1421 562.4h0M1448 577h0M1448.4 588.3h0M1450.7 596.6h0M1450.5 585.6h0M1447.8 518.3h0M1436.3 559.8h0M1440.4 552.1h0M1449.2 571.6h0M1412.9 592.4h0M1448 564.1h0M1430.6 582.8h0M1448.7 541.3h0M1439.2 582.8h0M1446.1 484.3h0M1440.1 596.2h0M1449.5 583.3h0M1447.7 548.1h0M1448.8 590.7h0M1446.3 557.8h0M1443 514h0M1444.3 573.5h0M1429.4 510.4h0M1436.1 570.3h0M1446.7 536.1h0M1447.7 576h0M1433.3 575.6h0M1445.7 590.2h0M1429.5 594.9h0M1424.1 592.4h0M1449.7 593.1h0M1446 499.8h0M1432.3 577.1h0M1433.6 532.3h0M1441.9 531.9h0M1425.4 580.3h0M1437.2 582.3h0M1439.6 472.6h0M1431.9 593.7h0M1412.9 527.1h0M1434 575.3h0M1443.5 593.7h0M1449.2 531.7h0M1446.7 591.4h0M1447.3 531.5h0M1442.2 550.3h0M1424.2 566.5h0M1437.9 589.5h0M1431.5 537h0M1434.2 529.6h0M1440.8 493.8h0M1445.7 545.1h0M1442.6 572.6h0M1442.3 594.3h0M1449.8 538.9h0M1411.8 560.5h0M1442.5 481.3h0M1437.7 529h0M1427.3 561.6h0M1446.8 554.1h0M1448.2 597.7h0M1435.6 569h0M1444.3 534.2h0M1440.1 495.1h0M1446.5 573.9h0M1435.4 548h0M1448.6 565.1h0M1446.8 542.1h0M1450.7 597h0M1449.7 593.9h0M1436.2 575.5h0M1442.5 580.4h0M1446.9 592.9h0M1431.3 585.2h0M1432 596.3h0M1429.3 578.7h0M1443.3 529.7h0M1446.5 586h0M1446.4 551.9h0M1442.9 530.4h0M1412.5 589.9h0M1448.1 581.3h0M1447.2 581h0M1420.5 516.5h0M1415.3 589.2h0M1448.5 546.1h0M1427.1 554.5h0M1444.6 580.1h0M1440.4 579.1h0M1433 578.5h0M1425 574.9h0M1446 586.4h0M1432.1 542.5h0M1447.8 550h0M1449.6 594.7h0M1448.8 593.5h0M1445.9 586.9h0M1442.8 478.3h0M1438.9 511.5h0M1435.8 593.5h0M1447.5 533.7h0M1435.2 547.1h0M1446.4 484.8h0M1450 553.6h0M1443.3 486.6h0M1449.9 595.8h0M1449.1 596.4h0M1443.6 550.6h0M1449.4 588.5h0M1450.9 594.1h0M1430.4 560.1h0M1423.6 584.6h0M1445.2 495.3h0M1449.4 557.1h0M1446.2 574.8h0M1432.8 573.4h0M1433.8 556.1h0M1425 522.2h0M1423.8 578.2h0M1449.3 566.1h0M1444.2 570.7h0M1450.8 598h0M1447.2 580.2h0M1446.7 559.6h0M1439.2 564.9h0M1437.7 596.2h0M1423.9 559.4h0M1423 597.5h0M1409.2 541.3h0M1449.8 539.9h0M1447.2 556.8h0M1443.4 558.2h0M1443.8 591.6h0M1450.3 592.4h0M1433.4 563.8h0M1441.7 564.9h0M1445.4 487.8h0M1436.7 556.7h0M1437.5 581.4h0M1443.7 504.9h0M1444.3 555.2h0M1437 519.3h0M1446.3 539.8h0M1450.2 566h0M1444.2 525.4h0M1440.9 547.4h0M1420.5 571.9h0M1410.1 549.9h0M1443.9 585.6h0M1436.5 487.7h0M1440.7 570.6h0M1447.7 560.9h0M1448.3 566.2h0M1449.1 544.7h0M1435.4 582h0M1435.4 517.2h0M1445.9 525.4h0M1443.7 576h0M1421 582.4h0M1446.1 495.2h0M1446.5 538.7h0M1442 519.6h0M1432.2 482.4h0M1449.5 544.2h0M1437.5 546.4h0M1445.6 577.1h0M1448.3 588.8h0M1447.7 517.6h0M1429.5 540.3h0M1443.4 576.9h0M1443.1 519.7h0M1446.8 554.7h0M1449.5 548.7h0M1444 584.3h0M1441.7 534.3h0M1450.4 595.9h0M1419.4 596.6h0M1429.3 590.2h0M1415.5 548.2h0M1444.6 581h0M1436.4 598.3h0M1448.6 591.8h0M1440.1 585.4h0M1417.1 587.6h0M1442.4 561.7h0M1441.7 579.7h0M1446.7 561.5h0M1445.8 575.4h0M1433.9 538.8h0M1440.6 560h0M1445.9 564.8h0M1447.3 574.7h0M1445 582h0M1440.7 562.4h0M1440.6 583.1h0M1443.3 534.3h0M1446.4 577.3h0M1417.8 573.4h0M1448.4 568.4h0M1448.6 599.2h0M1410.5 553.2h0M1404.7 599.9h0M1366.5 538.9h0M1393.4 577.7h0M1412.2 543.7h0M1415.8 599.2h0M1385 550h0M1385.2 598.4h0M1376.3 554.4h0M1376.5 584.8h0M1406.6 588h0M1396.7 549.8h0M1367 549.4h0M1393.9 582.2h0M1402.6 599.4h0M1371.9 595.3h0M1373.7 577.2h0M1413.1 552.8h0M1392.8 599.8h0M1407.5 583.6h0M1394.7 579.8h0M1388.2 595.3h0M1374.1 584.4h0M1377.6 599.8h0M1410.3 587.5h0M1414 595.7h0M1410.6 569.6h0M1380 556.7h0M1384.2 592.1h0M1380.9 597.3h0M1413.4 583.4h0M1381.3 572.2h0M1408.2 587.6h0M1414.8 575.3h0M1365.3 541.5h0M1399 584.6h0M1402.5 590.5h0M1385.8 575.7h0M1403.7 549.9h0M1375.3 563.1h0M1395.5 597.3h0M1390.9 593.6h0M1380.2 599.5h0M1400 547.4h0M1409.7 591.9h0M1394.9 591.4h0M1391.7 545.6h0M1403 578.2h0M1416.9 560.1h0M1387.1 579.4h0M1372 575.8h0M1387.3 593.2h0M1402 592.6h0M1365.7 598.7h0M1411.1 596.4h0M1383.5 573.9h0M1415.9 596.9h0M1413.9 589.9h0M1405.1 582.9h0M1378.4 599.1h0M1394.6 580.4h0M1390 570.4h0M1397.7 561.9h0M1375.6 573.2h0M1369.3 599.1h0M1391.1 542.4h0M1383.6 599.5h0M1391.8 589h0M1407 595.1h0M1393.4 564.9h0M1370.7 594.2h0M1372.8 598.7h0M1372.9 582.4h0M1411.2 599.8h0M1367.9 560.8h0M1386.2 584.5h0M1396.7 599.4h0M1402.7 579.4h0M1413 553.2h0M1385.2 596.8h0M1373.7 598.6h0M1375.7 595.2h0M1410.6 584.9h0M1387.7 597.6h0M1395.1 543.8h0M1238.8 441.1h0M1308.2 447.7h0M1325.3 450h0M1348.6 450h0M1356.2 458.9h0M1361.6 470.5h0M1371.9 434h0M1395.9 429.5h0M1413.4 413.7h0M1408.2 438.4h0M1407.1 445.9h0M1439 426.7h0M1439.5 432.2h0M1444.5 441.1h0M1445.9 445.2h0M1443.2 452.7h0M1420.5 471.2h0M1279.9 496.3h0M1344.5 494.5h0M1350 501.4h0M1358.2 504.8h0M1387.7 500.7h0M1384.2 508.9h0M1390.4 506.8h0M1409.9 508.9h0M1301.6 517.5h0M1337 521.2h0M1345.2 521.2h0M1350 524.7h0M1368.2 522.6h0M1390.4 517.8h0M1389 526h0M1406.8 523.3h0M1399.3 527.4h0M1354.1 536.7h0M1289.7 539.7h0M1380.8 537h0M1374 543.2h0M1320.5 548.6h0M1330.1 545.9h0M1339.7 543.8h0M1349.3 552.7h0M1344.5 558.9h0M1298.6 561.6h0M1364.4 569.9h0M1363 555.5h0M1371.2 553.4h0M1332.2 573.3h0M1339.7 570.5h0M1339.7 582.2h0M1324 578.8h0M1352.3 577.4h0M1368.5 579.5h0M1370.5 587.7h0M1318.1 592.5h0M1333.6 597.3h0M1352.1 591.8h0M1357.5 597.3h0M1379.5 561.6h0M1380.8 575.3h0M1383.6 584.9h0M1394.5 550.7h0M1401.4 547.9h0M1391.8 568.5h0M1397.3 579.5h0M1401.4 589h0M1405.5 561.6h0M1408.2 572.6h0M1374.4 164.2h0M1437 276.1h0M1438.6 331.3h0M1437.6 336.4h0M1410.8 339.1h0M1259.9 372.6h0M1383.2 374h0M1367.1 382.4h0M1428.4 378.5h0M1434.1 391.6h0"/></defs>
<use href="#tb" fill="none" stroke="#3f7b87" stroke-width="9.0" stroke-linecap="round"/>
<use href="#tb" fill="none" stroke="#4a8995" stroke-width="7.8" stroke-linecap="round"/>
<defs><path id="rb" d="M1481.8 583.6h0M1505 525.5h0M1473.5 550.1h0M1481.7 567.1h0M1479 574.8h0M1480.1 570h0M1486.1 560.4h0M1474.9 583h0M1489.1 545h0M1471.1 580.8h0M1474.9 532.1h0M1476.2 514.1h0M1491.1 559h0M1476.3 530.5h0M1535.5 543.5h0M1476.3 572.1h0M1481.2 506.2h0M1481.3 551.6h0M1470.9 561.2h0M1504.5 575.8h0M1477.4 546.8h0M1497.4 579.3h0M1473.1 582.4h0M1476.2 547.4h0M1483 596.4h0M1502.5 595.9h0M1475.2 518.5h0M1475.9 560.8h0M1484.6 585.9h0M1490.5 591.3h0M1480.2 573.6h0M1475.1 588.3h0M1521.5 597.2h0M1473.4 559h0M1478.7 595.6h0M1485.4 484.1h0M1482.3 565h0M1500.5 586.8h0M1487.2 543.8h0M1472.6 561h0M1516.7 551.9h0M1486.8 536.7h0M1511.6 576.8h0M1519.2 564.7h0M1496.1 554.9h0M1484.6 549.4h0M1473.6 553.5h0M1487.9 524.8h0M1481.1 599.6h0M1503.1 595.2h0M1480.8 540.5h0M1504.2 596.9h0M1484.9 569.8h0M1470.8 586.8h0M1473.9 504.5h0M1496.9 509.7h0M1531.8 563.2h0M1476.7 561.4h0M1489.4 596.3h0M1487.2 597.4h0M1479.2 539.5h0M1490.6 552.1h0M1476.2 553.6h0M1484.1 563.2h0M1488.1 594.5h0M1478.2 525.7h0M1495.6 526.3h0M1476.6 473.8h0M1527.8 592.3h0M1478.2 527.5h0M1472.6 559.8h0M1474.5 582.7h0M1471.9 591.5h0M1504.1 597.6h0M1490.4 572.9h0M1478.8 592.4h0M1477.4 483.8h0M1509.9 596.6h0M1481.8 589.5h0M1500.6 581.5h0M1474 547h0M1486.2 597.4h0M1480.2 579.3h0M1491.6 597.9h0M1483.4 568.9h0M1472.7 592.3h0M1481.2 544.6h0M1480.5 549h0M1492.3 557.8h0M1505 585.5h0M1483.5 499.7h0M1472.4 567.6h0M1482.3 589.9h0M1490.4 522.8h0M1485.3 586.7h0M1498.8 585.8h0M1476.5 496.6h0M1474.7 554.8h0M1472.6 587.3h0M1473.2 597.2h0M1498.4 528.8h0M1472.4 559.5h0M1476.6 597.1h0M1480 532h0M1477 557.8h0M1478.1 596.2h0M1475.7 592.8h0M1472.7 525.2h0M1471 538h0M1472 526.6h0M1488.6 539.3h0M1495.5 579.1h0M1479.5 598.5h0M1474.5 518.3h0M1477.4 597.2h0M1474.8 513.7h0M1504.2 553.3h0M1516.2 572h0M1499 576.4h0M1475.1 566.1h0M1480.9 589.9h0M1481.5 581.2h0M1479.8 523.2h0M1471.6 563.4h0M1479.1 559.2h0M1480.7 554.3h0M1480.6 595.4h0M1475.6 585.2h0M1481.6 576.5h0M1474.6 518.5h0M1485.4 545.6h0M1480 512.7h0M1519.4 561.4h0M1472.4 551.8h0M1479.3 576.9h0M1474.4 570.7h0M1475.2 560.9h0M1483.4 524.7h0M1476 598.5h0M1471.4 531h0M1475.3 558.6h0M1477.5 480.5h0M1490.4 592.9h0M1485.2 599.3h0M1483.4 587.8h0M1478.5 576.1h0M1497 587.7h0M1500.4 595.3h0M1471.2 529.1h0M1489.2 538.3h0M1482.3 582.3h0M1473.3 505.1h0M1478.8 587.6h0M1470.9 587.6h0M1477.8 515.4h0M1484 578.3h0M1488.8 570h0M1514.1 594.7h0M1479.7 579h0M1471.5 548.3h0M1476.5 556.9h0M1478.5 588.8h0M1476.4 584.6h0M1498.8 592.9h0M1504.8 562.5h0M1478.1 566.5h0M1479.7 595.5h0M1490.4 528.1h0M1473.6 587.7h0M1483.1 533.8h0M1473.5 584.9h0M1493.4 568.1h0M1473.6 572.5h0M1473.1 533.6h0M1476.2 586.2h0M1475.7 589.1h0M1508.8 585.9h0M1474.1 495.3h0M1480.2 552.4h0M1492.1 558.5h0M1476.5 546h0M1485.5 514.5h0M1501.3 546.7h0M1475.6 587.3h0M1482.7 548.9h0M1475.2 587.9h0M1475.3 589.6h0M1512.2 555.9h0M1495.8 533.4h0M1489.9 569.9h0M1485.1 576.6h0M1538.5 573.9h0M1481.2 558.5h0M1478.5 518.9h0M1481.2 598.4h0M1497.8 510.6h0M1512 587.7h0M1496.3 554.4h0M1476 595.1h0M1493.6 597.5h0M1484.2 525h0M1473.8 564.7h0M1481 525.8h0M1494.8 556.7h0M1481 471.9h0M1474.4 551.5h0M1505.3 582h0M1478.2 563.6h0M1471.4 583.1h0M1485.9 572.3h0M1475.7 592.7h0M1473.4 567.1h0M1496 494.9h0M1488.6 576.6h0M1478.7 593.5h0M1491.4 550h0M1520.4 594h0M1494 593.7h0M1484.8 547.5h0M1475.5 561.7h0M1484.9 568.2h0M1535 570.9h0M1492.2 588.4h0M1481.5 578.7h0M1482.3 519.1h0M1478.3 566.5h0M1497.3 565.1h0M1495.8 579.8h0M1472 534h0M1471.6 567.8h0M1482 575.1h0M1471.7 593.2h0M1531.4 589.2h0M1491.5 575h0M1518.4 574.3h0M1489 514.9h0M1490.4 573.6h0M1493.8 597h0M1483.6 478.3h0M1511.8 568.6h0M1474.6 591.4h0M1482.4 593.9h0M1493.2 582.3h0M1496.8 549.2h0M1483.9 561.7h0M1477.4 540.8h0M1488 483.7h0M1483.8 587h0M1477.6 513.2h0M1478.2 553.1h0M1494.2 576.2h0M1485.1 588.9h0M1518.3 594.5h0M1485.4 565.4h0M1483 538.9h0M1476.9 596h0M1472.7 525.8h0M1488.2 537.9h0M1474.2 580.4h0M1474.2 510.1h0M1501.6 564.5h0M1481 570.2h0M1529.8 587h0M1482.4 599.3h0M1473.9 595.6h0M1512.1 511.2h0M1509.8 543.2h0M1502.5 496.4h0M1488.3 594.7h0M1477.1 553.3h0M1515.3 592.2h0M1497.8 531.5h0M1501 569.9h0M1474.7 540.9h0M1484 522.8h0M1484.4 546.3h0M1471 589.1h0M1486.7 500.8h0M1473.3 574.8h0M1480.1 572.5h0M1495.1 597.5h0M1485.9 562.1h0M1515.1 570.9h0M1474.1 572.9h0M1481.1 583h0M1472.6 526.2h0M1489.4 503.8h0M1472.8 511.7h0M1494.9 543.1h0M1478.7 466.5h0M1476.7 590.1h0M1480.4 567h0M1492.8 512.1h0M1491.8 595.1h0M1477.4 589.1h0M1495.7 595.2h0M1494.9 584.7h0M1474.1 538.8h0M1484.1 596.7h0M1496.1 563.4h0M1489.6 599.2h0M1514.6 575.1h0M1475.8 575.1h0M1523.7 523.3h0M1492.3 589.4h0M1476 533.2h0M1510.8 588.2h0M1484.9 599.1h0M1474.5 528.7h0M1477.2 565.6h0M1486.6 591.7h0M1487.5 593.2h0M1474.2 572.6h0M1489.5 537.2h0M1498.5 529.9h0M1483.4 581.9h0M1485.2 597.9h0M1494 503.2h0M1480.7 595.9h0M1486.9 580.4h0M1479.4 519.8h0M1473.1 557.8h0M1496.9 495.8h0M1473.2 565.3h0M1508.6 566h0M1473.9 570.6h0M1475.9 583.6h0M1480.6 562.7h0M1471.2 573.6h0M1477.8 513.3h0M1529 553.7h0M1483.6 469.4h0M1497.7 548.7h0M1490.1 571.1h0M1516.9 583.4h0M1481 539.3h0M1491.9 590.9h0M1490 599.7h0M1472.3 595.6h0M1485 537.8h0M1473.7 517.1h0M1474.9 595.1h0M1480.2 586.6h0M1475.7 549.1h0M1502.1 535.7h0M1481.6 559.2h0M1478.8 596.1h0M1476.3 591.6h0M1484.3 596.9h0M1473.2 596.7h0M1503.6 571.9h0M1517.2 559.5h0M1482.4 581h0M1474 529.4h0M1473.6 562.1h0M1475.7 558.4h0M1472.8 594.3h0M1472.3 577.3h0M1488.1 484.6h0M1477.7 557.8h0M1471 586.1h0M1475.2 531.7h0M1484.5 591.4h0M1516.8 537.6h0M1477 592.3h0M1486.2 579.2h0M1475.4 546.8h0M1478.1 572.6h0M1484.4 561.8h0M1521.5 559.2h0M1472.7 563.7h0M1472.6 580.1h0M1484.5 543.2h0M1491.9 535.4h0M1482.2 565.3h0M1472.2 557.1h0M1475.2 546.6h0M1473.4 553.8h0M1477.7 492.1h0M1499.2 600h0M1480.2 589.2h0M1477.3 588.9h0M1490.1 528.7h0M1475.4 521.7h0M1473.7 584h0M1475 534.2h0M1471.2 530.7h0M1487.4 594.9h0M1472.3 577.2h0M1477.8 581.5h0M1474.6 595.1h0M1472.2 559.5h0M1486.1 588.1h0M1554.8 589.2h0M1494.9 535.8h0M1471.3 549.4h0M1471.8 577.3h0M1510.3 526h0M1472 516.3h0M1482.9 506.8h0M1477.9 564.6h0M1475.2 529.7h0M1490.5 580.7h0M1488.6 567.1h0M1502.1 537.5h0M1477.1 567.7h0M1473.6 567.2h0M1536.9 576.2h0M1471.5 565.5h0M1507.5 558.3h0M1473.6 527.4h0M1472 597.5h0M1486.3 497.4h0M1482.1 557.1h0M1471.1 578h0M1478.2 560.2h0M1476.3 570.2h0M1487.5 539.5h0M1472.3 594.3h0M1476.5 563.3h0M1471.2 598.3h0M1481.7 581.4h0M1474.8 586.9h0M1483.8 570.5h0M1495.5 547.1h0M1475.4 560.8h0M1490.6 519.7h0M1475.6 555h0M1474.5 577.1h0M1479 539h0M1482.3 598.9h0M1477 493h0M1476.6 570.5h0M1478.6 557.6h0M1490.9 581.2h0M1476.1 558.5h0M1499.7 566.1h0M1490.2 566.3h0M1478 577.5h0M1488.3 565.3h0M1509.3 564.8h0M1479.7 584.5h0M1471.9 579.9h0M1491.9 497.4h0M1471.1 556.9h0M1480.9 581.2h0M1518.2 585.9h0M1494.8 592.3h0M1482.7 563.2h0M1474.8 584.1h0M1472.8 575.5h0M1492.3 585.3h0M1489.3 554.9h0M1472.2 548.5h0M1472.9 559.6h0M1478.9 572.3h0M1491 551.3h0M1494.3 588.1h0M1478.7 549.2h0M1473.9 534.8h0M1483.7 526.7h0M1499.7 572.1h0M1483.2 551.8h0M1476 539h0M1478.3 549.4h0M1497.3 568.3h0M1477.7 556.8h0M1472.1 585.1h0M1480.5 539.8h0M1490.3 535.1h0M1493.4 594.8h0M1471.1 529.6h0M1488.5 527.5h0M1476.1 531.5h0M1481.3 572.2h0M1487.2 508.9h0M1473 598.8h0M1480.3 555.2h0M1475.3 598.8h0M1479 509.7h0M1491.3 497.1h0M1476.8 548.3h0M1478.6 534.1h0M1486.7 556.2h0M1482.5 548.8h0M1477.8 513.4h0M1483.6 538.7h0M1502.8 560.4h0M1519.8 590.8h0M1482.1 470.1h0M1472.6 522.8h0M1484.3 599.2h0M1479.1 506.7h0M1487.3 536.3h0M1478.2 556.8h0M1478.4 548.9h0M1471.7 588.4h0M1477.1 482.3h0M1552 588.9h0M1491.4 594.3h0M1473.6 533.4h0M1481.3 560.6h0M1476.6 492.8h0M1471.9 584.4h0M1474.1 582.4h0M1491.5 586.5h0M1478 583h0M1492.1 552.8h0M1471 527.8h0M1500.3 546.9h0M1475.2 534h0M1488.3 553.4h0M1470.9 570.7h0M1486.7 487.9h0M1471.7 593.4h0M1494 533.4h0M1473.7 592.9h0M1475.7 561.9h0M1495.3 584h0M1480.9 560.2h0M1472.1 595.4h0M1474.7 593.5h0M1476.9 571.5h0M1495.8 548.5h0M1498.9 553.3h0M1478 531.4h0M1473.3 515.8h0M1489.2 598.4h0M1479.5 548.5h0M1479.4 550.9h0M1495.2 565.6h0M1478.9 575.3h0M1482.3 590.1h0M1514.2 569.4h0M1478.5 562.1h0M1472.4 584.2h0M1472.5 562.4h0M1474.1 540.3h0M1486.2 549.8h0M1503.3 572.9h0M1475.3 589.1h0M1481 503.7h0M1512.8 559.8h0M1490.9 523.2h0M1473 531.3h0M1483.6 593.5h0M1490.7 535.3h0M1481.8 576.8h0M1485.3 526.8h0M1496.5 506.6h0M1475.7 590.6h0M1484.9 534.5h0M1477.8 569.7h0M1480.7 579.8h0M1475.6 513.9h0M1474.4 594.8h0M1474.4 567.9h0M1516.7 524h0M1494.5 585h0M1480.1 567.9h0M1471 531.3h0M1550.2 547.7h0M1472.4 598.2h0M1488.6 516.8h0M1483.6 578.8h0M1471.7 580.7h0M1480.9 580.4h0M1485.7 563.3h0M1476 576.9h0M1504 569.9h0M1475.7 567.6h0M1478.4 533.5h0M1482.3 471.2h0M1478 531.2h0M1503.7 586.2h0M1477.2 558.1h0M1480.7 561.8h0M1497.8 556.4h0M1478.8 583h0M1480.3 572.5h0M1479.5 527.4h0M1472.6 560.6h0M1470.8 546h0M1477.4 568.9h0M1507.5 515.9h0M1491.1 570.5h0M1477.1 598.2h0M1471.5 559.3h0M1487.3 586.5h0M1484.7 597.1h0M1472.6 571.6h0M1476.5 520.5h0M1505.1 574.6h0M1502.1 578.9h0M1487.1 578.1h0M1511 580.1h0M1477.1 570.3h0M1517 584.5h0M1484.9 565.6h0M1513.2 593.6h0M1476.7 540.3h0M1481.9 553h0M1484.4 523.5h0M1485.2 577.1h0M1475.4 562.8h0M1498.1 587.8h0M1483.3 545.8h0M1476.2 565.9h0M1496.5 577.6h0M1474.6 582.7h0M1479.7 550.7h0M1474.7 591.6h0M1483.3 565.9h0M1479.4 544h0M1494.8 501.4h0M1477.1 584.2h0M1499.3 481h0M1475.5 573.8h0M1507 542.7h0M1478.4 572.7h0M1474.1 539.2h0M1490.6 500.8h0M1487.8 532.9h0M1474.7 528.9h0M1472.9 599.7h0M1476.6 582.7h0M1481.9 585h0M1486.8 494.6h0M1477.4 547.4h0M1478.8 582h0M1478.2 583.3h0M1504.1 518.1h0M1473.3 508.9h0M1476.7 534.7h0M1478.5 580.8h0M1485.5 562.7h0M1471.9 562.1h0M1519.3 545.7h0M1500.5 569.8h0M1477.6 473.3h0M1479.9 595h0M1471.7 591.9h0M1518.2 566.6h0M1478.8 586.7h0M1493.1 558.8h0M1480 499.3h0M1477.1 568.4h0M1481 540.5h0M1480.3 591.2h0M1482.4 588.8h0M1483 526.8h0M1488.9 568.2h0M1483 556.2h0M1473.1 580.3h0M1486.4 568.1h0M1485.3 552h0M1481.5 572.8h0M1492 551.2h0M1489 582.7h0M1477 548h0M1480.3 506.3h0M1494.1 544.3h0M1479.3 573.6h0M1473.8 551.9h0M1479.6 535.4h0M1559.7 565h0M1575.4 573.1h0M1580.4 589.1h0M1584.2 575.9h0M1589.7 599.7h0M1520.6 564.3h0M1536.7 575.1h0M1585 572h0M1564.7 580h0M1532.7 586.2h0M1575.6 597.8h0M1570.1 586.9h0M1578.6 576.4h0M1586.7 598h0M1575.8 580.9h0M1573.5 570.8h0M1530.3 569.4h0M1586.6 572.9h0M1566.6 555.4h0M1551.3 573.7h0M1539.1 566.2h0M1529.2 560.7h0M1589.9 584.5h0M1534.6 594.9h0M1571.9 569.1h0M1553.2 579.9h0M1587.5 598.1h0M1535.4 558.5h0M1537.8 569.8h0M1581.7 599.9h0M1542.4 569.7h0M1522.4 599.8h0M1541.5 569.4h0M1588.3 579.9h0M1573.4 579.9h0M1582.1 597.1h0M1547.5 562.4h0M1587.9 593.7h0M1573.7 596.2h0M1521.5 555.1h0M1531.7 589.7h0M1552.8 596.7h0M1582.2 558h0M1542.6 592.4h0M1553.3 599h0M1544.4 564.1h0M1577.6 599.3h0M1548.5 575.1h0M1573.9 556.7h0M1529.6 599.8h0M1562.9 585.1h0M1540.2 590.6h0M1539.9 595.1h0M1588 592.1h0M1559.6 599.2h0M1570.1 586h0M1584.7 573.9h0M1583.9 587.3h0M1582.8 598.9h0M1540.4 563.7h0M1576.3 581.2h0M1570.6 598.6h0M1547.4 593.5h0M1584.8 565.3h0M1529.1 598.5h0M1574.8 556h0M1535.6 573.2h0M1586.4 594.9h0M1562.9 574.3h0M1524.7 599.9h0M1536.2 576.2h0M1543.1 594.2h0M1566.8 574.6h0M1563 590.3h0M1549.4 586.9h0M1560.9 570.8h0M1553.7 599.3h0M1565.6 592.5h0M1583.4 591.3h0M1587.2 567.1h0M1524.8 581.2h0M1539.4 558.1h0M1517.2 587.8h0M1574.1 580.2h0M1554.5 589.1h0M1579.8 211.3h0M1741.6 214.8h0M1589 396.6h0M1498.8 404h0M1517.1 409.8h0M1533.2 407.1h0M1570.4 420.6h0M1609.1 418.9h0M1502.2 432.1h0M1523.1 432.7h0M1538.2 431.2h0M1485.1 435.8h0M1646.6 434.5h0M1492 443.9h0M1506.5 444.7h0M1568.2 444.9h0M1569.9 449.7h0M1603.4 446.1h0M1610.6 452.3h0M1643.8 451.2h0M1726 454.1h0M1488.7 455.2h0M1510.8 456.4h0M1537.3 459.1h0M1525.3 465.4h0M1534.8 468h0M1626 466.8h0M1478.8 466h0M1503.4 470.2h0M1663.7 474.5h0M1581.3 478.8h0M1556.2 479.7h0M1538.1 484.2h0M1671.2 487.7h0M1614.8 490.1h0M1596.8 502.7h0M1651.4 502.3h0M1540.4 503.3h0M1531.5 495.9h0M1524.7 500.3h0M1519.9 504.4h0M1516.7 497.1h0M1552.5 510.1h0M1613 515.1h0M1624 521.9h0M1550.7 519.5h0M1575.3 520.8h0M1526.7 514.7h0M1534.2 518.1h0M1611.2 527.7h0M1567.4 536.6h0M1567.1 543.4h0M1550.7 539.3h0M1552 548.2h0M1547.5 544.1h0M1657.1 545.1h0M1645.2 551h0M1586.6 549.9h0M1597.7 547.8h0M1556.8 559.2h0M1571.2 558.1h0M1547.9 564h0M1535.6 564h0M1601 570.8h0M1559.6 569.5h0M1566.4 570.8h0M1607.3 581.8h0M1604.4 598.2h0"/></defs>
<use href="#rb" fill="none" stroke="#8e1d1d" stroke-width="9.0" stroke-linecap="round"/>
<use href="#rb" fill="none" stroke="#b32b2b" stroke-width="7.8" stroke-linecap="round"/>
<g>
<line x1="1114.3" y1="99.5" x2="1114.3" y2="779.6" stroke="#000" stroke-width="1.9"/>
<line x1="1113.4" y1="778.7" x2="1804.3" y2="778.7" stroke="#000" stroke-width="1.9"/>
<line x1="1108.7" y1="749.0" x2="1114.3" y2="749.0" stroke="#000" stroke-width="1.6"/>
<line x1="1108.7" y1="620.1" x2="1114.3" y2="620.1" stroke="#000" stroke-width="1.6"/>
<line x1="1108.7" y1="491.2" x2="1114.3" y2="491.2" stroke="#000" stroke-width="1.6"/>
<line x1="1108.7" y1="362.4" x2="1114.3" y2="362.4" stroke="#000" stroke-width="1.6"/>
<line x1="1108.7" y1="233.5" x2="1114.3" y2="233.5" stroke="#000" stroke-width="1.6"/>
<line x1="1108.7" y1="104.6" x2="1114.3" y2="104.6" stroke="#000" stroke-width="1.6"/>
<line x1="1144.3" y1="778.7" x2="1144.3" y2="784.3" stroke="#000" stroke-width="1.6"/>
<line x1="1300.9" y1="778.7" x2="1300.9" y2="784.3" stroke="#000" stroke-width="1.6"/>
<line x1="1457.5" y1="778.7" x2="1457.5" y2="784.3" stroke="#000" stroke-width="1.6"/>
<line x1="1614.1" y1="778.7" x2="1614.1" y2="784.3" stroke="#000" stroke-width="1.6"/>
<line x1="1770.7" y1="778.7" x2="1770.7" y2="784.3" stroke="#000" stroke-width="1.6"/>
</g>
<g font-size="22" fill="#4d4d4d">
<text x="1105.3" y="754.6" text-anchor="end">0.0</text>
<text x="1105.3" y="625.7" text-anchor="end">2.5</text>
<text x="1105.3" y="496.9" text-anchor="end">5.0</text>
<text x="1105.3" y="368.0" text-anchor="end">7.5</text>
<text x="1105.3" y="239.1" text-anchor="end">10.0</text>
<text x="1105.3" y="110.2" text-anchor="end">12.5</text>
<text x="1139.4" y="808.3" text-anchor="middle">−4</text>
<text x="1296.3" y="808.3" text-anchor="middle">−2</text>
<text x="1455.5" y="808.3" text-anchor="middle">0</text>
<text x="1614.5" y="808.3" text-anchor="middle">2</text>
<text x="1771.3" y="808.3" text-anchor="middle">4</text>
</g>
<text x="1413.6" y="848.3" font-size="30" textLength="111.5" lengthAdjust="spacingAndGlyphs">log<tspan font-size="17.5" dy="8">2</tspan><tspan dy="-8">(FC)</tspan></text>
<text transform="translate(1017.8 560) rotate(-90)" font-size="29.5" textLength="210.5" lengthAdjust="spacingAndGlyphs">−log<tspan font-size="17.5" dy="8">10</tspan><tspan dy="-8">(P−Value)</tspan></text>
<text x="1362.3" y="33.5" font-size="36.6" textLength="388.0" lengthAdjust="spacingAndGlyphs">DETs in PD monocytes</text>
<line x1="1138.0" y1="53.3" x2="1604.5" y2="53.5" stroke="#000" stroke-width="1.8"/>
<line x1="1603.5" y1="52.7" x2="1964.5" y2="52.7" stroke="#000" stroke-width="1.8"/>
<text x="1830.0" y="263.6" font-size="29.6" textLength="152.0" lengthAdjust="spacingAndGlyphs">Significance</text>
<text x="1828.6" y="305.7" font-size="21.6" textLength="243.3" lengthAdjust="spacingAndGlyphs">Upregulated FDR &lt; 0.05</text>
<text x="1830.0" y="339.7" font-size="21.6" textLength="273.0" lengthAdjust="spacingAndGlyphs">Downregulated FDR &lt; 0.05</text>
<text x="1832.8" y="372.2" font-size="21.6" textLength="115.6" lengthAdjust="spacingAndGlyphs">FDR &gt; 0.05</text>
<circle cx="1811.1" cy="294.7" r="4" fill="#b32b2b" stroke="#8e1d1d" stroke-width="0.9"/>
<circle cx="1811.1" cy="331.8" r="4" fill="#4a8995" stroke="#3f7b87" stroke-width="0.9"/>
<circle cx="1811.1" cy="361.9" r="4.3" fill="#c9c9c9"/>
<text x="2120.3" y="268.3" font-size="21.6">s</text>
<text x="987.8" y="64.2" font-size="53" textLength="34.5" lengthAdjust="spacingAndGlyphs" stroke="#000" stroke-width="0.5">B</text>
<text x="21.8" y="1011.2" font-size="53" stroke="#000" stroke-width="0.5">C</text>
<text x="290.3" y="1037.8" font-size="30" textLength="551.5" lengthAdjust="spacingAndGlyphs" stroke="#000" stroke-width="0.35">Pathway enrichment in upregulated DETs</text>
<line x1="88.0" y1="1054.5" x2="955.4" y2="1051.5" stroke="#000" stroke-width="1.7"/>
<g>
<rect x="484.5" y="1097.8" width="124.1" height="22.9" fill="#127c3b" stroke="#000" stroke-width="3.5" stroke-linejoin="round"/>
<line x1="474.0" y1="1109.2" x2="484.5" y2="1109.2" stroke="#000" stroke-width="2.8"/>
<rect x="484.5" y="1132.4" width="132.0" height="22.9" fill="#127c3b" stroke="#000" stroke-width="3.5" stroke-linejoin="round"/>
<line x1="474.0" y1="1143.9" x2="484.5" y2="1143.9" stroke="#000" stroke-width="2.8"/>
<rect x="484.5" y="1167.1" width="137.0" height="22.9" fill="#127c3b" stroke="#000" stroke-width="3.5" stroke-linejoin="round"/>
<line x1="474.0" y1="1178.5" x2="484.5" y2="1178.5" stroke="#000" stroke-width="2.8"/>
<rect x="484.5" y="1201.7" width="188.5" height="22.9" fill="#127c3b" stroke="#000" stroke-width="3.5" stroke-linejoin="round"/>
<line x1="474.0" y1="1213.2" x2="484.5" y2="1213.2" stroke="#000" stroke-width="2.8"/>
<rect x="484.5" y="1236.4" width="163.8" height="22.9" fill="#5a9a68" stroke="#000" stroke-width="3.5" stroke-linejoin="round"/>
<line x1="474.0" y1="1247.8" x2="484.5" y2="1247.8" stroke="#000" stroke-width="2.8"/>
<rect x="484.5" y="1271.0" width="206.4" height="22.9" fill="#5a9a68" stroke="#000" stroke-width="3.5" stroke-linejoin="round"/>
<line x1="474.0" y1="1282.5" x2="484.5" y2="1282.5" stroke="#000" stroke-width="2.8"/>
<rect x="484.5" y="1305.7" width="223.2" height="22.9" fill="#5a9a68" stroke="#000" stroke-width="3.5" stroke-linejoin="round"/>
<line x1="474.0" y1="1317.2" x2="484.5" y2="1317.2" stroke="#000" stroke-width="2.8"/>
<rect x="484.5" y="1340.4" width="235.5" height="22.9" fill="#5a9a68" stroke="#000" stroke-width="3.5" stroke-linejoin="round"/>
<line x1="474.0" y1="1351.8" x2="484.5" y2="1351.8" stroke="#000" stroke-width="2.8"/>
<rect x="484.5" y="1375.0" width="253.4" height="22.9" fill="#5a9a68" stroke="#000" stroke-width="3.5" stroke-linejoin="round"/>
<line x1="474.0" y1="1386.5" x2="484.5" y2="1386.5" stroke="#000" stroke-width="2.8"/>
<rect x="484.5" y="1409.7" width="255.0" height="22.9" fill="#5a9a68" stroke="#000" stroke-width="3.5" stroke-linejoin="round"/>
<line x1="474.0" y1="1421.1" x2="484.5" y2="1421.1" stroke="#000" stroke-width="2.8"/>
<rect x="484.5" y="1444.3" width="118.9" height="22.9" fill="#8b5a2b" stroke="#000" stroke-width="3.5" stroke-linejoin="round"/>
<line x1="474.0" y1="1455.8" x2="484.5" y2="1455.8" stroke="#000" stroke-width="2.8"/>
<rect x="484.5" y="1479.0" width="141.5" height="22.9" fill="#8b5a2b" stroke="#000" stroke-width="3.5" stroke-linejoin="round"/>
<line x1="474.0" y1="1490.5" x2="484.5" y2="1490.5" stroke="#000" stroke-width="2.8"/>
<rect x="484.5" y="1513.7" width="288.4" height="22.9" fill="#8b5a2b" stroke="#000" stroke-width="3.5" stroke-linejoin="round"/>
<line x1="474.0" y1="1525.1" x2="484.5" y2="1525.1" stroke="#000" stroke-width="2.8"/>
<rect x="484.5" y="1548.3" width="121.5" height="22.9" fill="#0b2f4f" stroke="#000" stroke-width="3.5" stroke-linejoin="round"/>
<line x1="474.0" y1="1559.8" x2="484.5" y2="1559.8" stroke="#000" stroke-width="2.8"/>
<rect x="484.5" y="1583.0" width="172.6" height="22.9" fill="#0b2f4f" stroke="#000" stroke-width="3.5" stroke-linejoin="round"/>
<line x1="474.0" y1="1594.4" x2="484.5" y2="1594.4" stroke="#000" stroke-width="2.8"/>
<rect x="484.5" y="1617.6" width="193.5" height="22.9" fill="#0b2f4f" stroke="#000" stroke-width="3.5" stroke-linejoin="round"/>
<line x1="474.0" y1="1629.1" x2="484.5" y2="1629.1" stroke="#000" stroke-width="2.8"/>
<rect x="484.5" y="1652.3" width="217.6" height="22.9" fill="#0b2f4f" stroke="#000" stroke-width="3.5" stroke-linejoin="round"/>
<line x1="474.0" y1="1663.8" x2="484.5" y2="1663.8" stroke="#000" stroke-width="2.8"/>
<rect x="484.5" y="1687.0" width="226.0" height="22.9" fill="#0b2f4f" stroke="#000" stroke-width="3.5" stroke-linejoin="round"/>
<line x1="474.0" y1="1698.4" x2="484.5" y2="1698.4" stroke="#000" stroke-width="2.8"/>
<rect x="484.5" y="1721.6" width="270.2" height="22.9" fill="#0b2f4f" stroke="#000" stroke-width="3.5" stroke-linejoin="round"/>
<line x1="474.0" y1="1733.1" x2="484.5" y2="1733.1" stroke="#000" stroke-width="2.8"/>
<rect x="484.5" y="1756.3" width="117.0" height="22.9" fill="#8b2252" stroke="#000" stroke-width="3.5" stroke-linejoin="round"/>
<line x1="474.0" y1="1767.7" x2="484.5" y2="1767.7" stroke="#000" stroke-width="2.8"/>
<line x1="484.5" y1="1089.5" x2="484.5" y2="1784.5" stroke="#000" stroke-width="3.2"/>
<line x1="482.9" y1="1783.0" x2="826.0" y2="1783.0" stroke="#000" stroke-width="3.2"/>
<line x1="484.5" y1="1783.0" x2="484.5" y2="1792.5" stroke="#000" stroke-width="3"/>
<line x1="609.7" y1="1783.0" x2="609.7" y2="1792.5" stroke="#000" stroke-width="3"/>
<line x1="735.7" y1="1783.0" x2="735.7" y2="1792.5" stroke="#000" stroke-width="3"/>
<line x1="824.5" y1="1783.0" x2="824.5" y2="1792.5" stroke="#000" stroke-width="3"/>
</g>
<g font-size="19" text-anchor="end" stroke="#000" stroke-width="0.25">
<text x="474.0" y="1116.1" textLength="255.1" lengthAdjust="spacingAndGlyphs">Response_to_ER_SM_stress</text>
<text x="474.0" y="1150.8" textLength="339.8" lengthAdjust="spacingAndGlyphs">Proteasomal_protein_catabolic_process</text>
<text x="470.8" y="1185.4" textLength="428.6" lengthAdjust="spacingAndGlyphs">Negative_regulation_of_protein_catabolic_process</text>
<text x="472.0" y="1220.1" textLength="347.7" lengthAdjust="spacingAndGlyphs">Regulation_of_protein_catabolic_process</text>
<text x="470.4" y="1254.7" textLength="383.0" lengthAdjust="spacingAndGlyphs">Establishment_of_protein_localization_to_ER</text>
<text x="470.4" y="1289.4" textLength="271.7" lengthAdjust="spacingAndGlyphs">Protein_targeting_to_membrane</text>
<text x="470.4" y="1324.1" textLength="144.9" lengthAdjust="spacingAndGlyphs">Protein_targeting</text>
<text x="471.4" y="1358.7" textLength="395.4" lengthAdjust="spacingAndGlyphs">Establishment_protein_localization_membrane</text>
<text x="472.4" y="1393.4" textLength="410.5" lengthAdjust="spacingAndGlyphs">Cotranslational_protein_targeting_to_membrane</text>
<text x="471.0" y="1428.0" textLength="396.1" lengthAdjust="spacingAndGlyphs">Protein_localization_to_endoplasmic_reticulum</text>
<text x="473.4" y="1462.7" textLength="401.3" lengthAdjust="spacingAndGlyphs">Antigen_presentation_exogenous_peptide_MH</text>
<text x="473.4" y="1497.4" textLength="166.6" lengthAdjust="spacingAndGlyphs">Response_to_virus</text>
<text x="474.4" y="1532.0" textLength="195.7" lengthAdjust="spacingAndGlyphs">Viral_gene_expression</text>
<text x="474.0" y="1566.7" textLength="336.6" lengthAdjust="spacingAndGlyphs">Ribonucleoprotein_complex_biogenesis</text>
<text x="470.4" y="1601.3" textLength="204.2" lengthAdjust="spacingAndGlyphs">Cytoplasmic_translation</text>
<text x="472.0" y="1636.0" textLength="404.6" lengthAdjust="spacingAndGlyphs">Nuclear_transcribed_mRNA_catabolic_process</text>
<text x="473.6" y="1670.7" textLength="207.4" lengthAdjust="spacingAndGlyphs">RNA_catabolic_process</text>
<text x="472.0" y="1705.3" textLength="404.6" lengthAdjust="spacingAndGlyphs">Nuclear_transcribed_mRNA_catabolic_process</text>
<text x="474.4" y="1740.0" textLength="193.1" lengthAdjust="spacingAndGlyphs">Translational_iniciation</text>
<text x="474.0" y="1774.6" textLength="114.7" lengthAdjust="spacingAndGlyphs">RNA_splicing</text>
</g>
<g font-size="24" text-anchor="middle" stroke="#000" stroke-width="0.3">
<text x="482.8" y="1816.8" textLength="14.6" lengthAdjust="spacingAndGlyphs">0</text>
<text x="608.7" y="1816.8" textLength="14.6" lengthAdjust="spacingAndGlyphs">5</text>
<text x="736.4" y="1816.8" textLength="29.2" lengthAdjust="spacingAndGlyphs">10</text>
<text x="825.0" y="1816.8" textLength="29.2" lengthAdjust="spacingAndGlyphs">15</text>
</g>
<text x="24.3" y="1346.6" font-size="30" text-anchor="middle" textLength="327.5" lengthAdjust="spacingAndGlyphs" transform="rotate(-90 24.3 1346.6)" stroke="#000" stroke-width="0.35">GO Biological processes</text>
<text x="561.5" y="1855.6" font-size="29.5" textLength="187.0" lengthAdjust="spacingAndGlyphs" stroke="#000" stroke-width="0.35">-log<tspan font-size="16.5" dy="9.5">10</tspan><tspan dy="-9.5">(q-value)</tspan></text>
<text x="665.5" y="1151.7" font-size="24.3" textLength="131.5" lengthAdjust="spacingAndGlyphs" font-weight="bold" font-style="italic" fill="#127c3b">Proteolysis</text>
<text x="750.5" y="1303.1" font-size="24.3" font-weight="bold" font-style="italic" fill="#5a9a68">Protein</text>
<text x="750.5" y="1332.7" font-size="24.3" textLength="134.5" lengthAdjust="spacingAndGlyphs" font-weight="bold" font-style="italic" fill="#5a9a68">localization</text>
<text x="706.0" y="1477.1" font-size="24.3" textLength="209.0" lengthAdjust="spacingAndGlyphs" font-weight="bold" font-style="italic" fill="#8b5a2b">Immune response</text>
<text x="842.5" y="1624.1" font-size="24.3" text-anchor="middle" textLength="151.0" lengthAdjust="spacingAndGlyphs" font-weight="bold" font-style="italic" fill="#0b2f4f">Gene/protein</text>
<text x="842.5" y="1653.5" font-size="24.3" text-anchor="middle" textLength="129.5" lengthAdjust="spacingAndGlyphs" font-weight="bold" font-style="italic" fill="#0b2f4f">expression</text>
<text x="773.0" y="1768.3" font-size="24.3" textLength="95.5" lengthAdjust="spacingAndGlyphs" font-weight="bold" font-style="italic" fill="#8b2252">Splicing</text>
<text x="1046.0" y="997.5" font-size="53" stroke="#000" stroke-width="0.5">D</text>
<text x="1361.0" y="1037.3" font-size="30" textLength="589.5" lengthAdjust="spacingAndGlyphs" stroke="#000" stroke-width="0.35">Pathway enrichment in downregulated DETs</text>
<line x1="1168.2" y1="1050.0" x2="2082.0" y2="1047.8" stroke="#000" stroke-width="1.7"/>
<g>
<rect x="1572.4" y="1100.0" width="223.8" height="22.9" fill="#127c3b" stroke="#000" stroke-width="3.5" stroke-linejoin="round"/>
<line x1="1563.2" y1="1111.4" x2="1572.4" y2="1111.4" stroke="#000" stroke-width="2.8"/>
<rect x="1572.4" y="1134.6" width="242.0" height="22.9" fill="#127c3b" stroke="#000" stroke-width="3.5" stroke-linejoin="round"/>
<line x1="1563.2" y1="1146.1" x2="1572.4" y2="1146.1" stroke="#000" stroke-width="2.8"/>
<rect x="1572.4" y="1169.3" width="245.9" height="22.9" fill="#127c3b" stroke="#000" stroke-width="3.5" stroke-linejoin="round"/>
<line x1="1563.2" y1="1180.7" x2="1572.4" y2="1180.7" stroke="#000" stroke-width="2.8"/>
<rect x="1572.4" y="1204.0" width="226.6" height="22.9" fill="#8ab591" stroke="#000" stroke-width="3.5" stroke-linejoin="round"/>
<line x1="1563.2" y1="1215.4" x2="1572.4" y2="1215.4" stroke="#000" stroke-width="2.8"/>
<rect x="1572.4" y="1238.6" width="242.0" height="22.9" fill="#8ab591" stroke="#000" stroke-width="3.5" stroke-linejoin="round"/>
<line x1="1563.2" y1="1250.1" x2="1572.4" y2="1250.1" stroke="#000" stroke-width="2.8"/>
<rect x="1572.4" y="1273.3" width="254.4" height="22.9" fill="#8ab591" stroke="#000" stroke-width="3.5" stroke-linejoin="round"/>
<line x1="1563.2" y1="1284.8" x2="1572.4" y2="1284.8" stroke="#000" stroke-width="2.8"/>
<rect x="1572.4" y="1308.0" width="259.4" height="22.9" fill="#8ab591" stroke="#000" stroke-width="3.5" stroke-linejoin="round"/>
<line x1="1563.2" y1="1319.4" x2="1572.4" y2="1319.4" stroke="#000" stroke-width="2.8"/>
<rect x="1572.4" y="1342.6" width="290.9" height="22.9" fill="#8ab591" stroke="#000" stroke-width="3.5" stroke-linejoin="round"/>
<line x1="1563.2" y1="1354.1" x2="1572.4" y2="1354.1" stroke="#000" stroke-width="2.8"/>
<rect x="1572.4" y="1377.3" width="217.9" height="22.9" fill="#8b5a2b" stroke="#000" stroke-width="3.5" stroke-linejoin="round"/>
<line x1="1563.2" y1="1388.8" x2="1572.4" y2="1388.8" stroke="#000" stroke-width="2.8"/>
<rect x="1572.4" y="1412.0" width="211.1" height="22.9" fill="#0b2f4f" stroke="#000" stroke-width="3.5" stroke-linejoin="round"/>
<line x1="1563.2" y1="1423.4" x2="1572.4" y2="1423.4" stroke="#000" stroke-width="2.8"/>
<rect x="1572.4" y="1446.7" width="226.6" height="22.9" fill="#0b2f4f" stroke="#000" stroke-width="3.5" stroke-linejoin="round"/>
<line x1="1563.2" y1="1458.1" x2="1572.4" y2="1458.1" stroke="#000" stroke-width="2.8"/>
<rect x="1572.4" y="1481.3" width="271.2" height="22.9" fill="#0b2f4f" stroke="#000" stroke-width="3.5" stroke-linejoin="round"/>
<line x1="1563.2" y1="1492.8" x2="1572.4" y2="1492.8" stroke="#000" stroke-width="2.8"/>
<rect x="1572.4" y="1516.0" width="342.3" height="22.9" fill="#0b2f4f" stroke="#000" stroke-width="3.5" stroke-linejoin="round"/>
<line x1="1563.2" y1="1527.4" x2="1572.4" y2="1527.4" stroke="#000" stroke-width="2.8"/>
<rect x="1572.4" y="1550.7" width="227.1" height="22.9" fill="#8b2252" stroke="#000" stroke-width="3.5" stroke-linejoin="round"/>
<line x1="1563.2" y1="1562.1" x2="1572.4" y2="1562.1" stroke="#000" stroke-width="2.8"/>
<rect x="1572.4" y="1585.3" width="242.0" height="22.9" fill="#8b2252" stroke="#000" stroke-width="3.5" stroke-linejoin="round"/>
<line x1="1563.2" y1="1596.8" x2="1572.4" y2="1596.8" stroke="#000" stroke-width="2.8"/>
<rect x="1572.4" y="1620.0" width="199.9" height="22.9" fill="#9a1a00" stroke="#000" stroke-width="3.5" stroke-linejoin="round"/>
<line x1="1563.2" y1="1631.5" x2="1572.4" y2="1631.5" stroke="#000" stroke-width="2.8"/>
<rect x="1572.4" y="1654.7" width="200.2" height="22.9" fill="#9a1a00" stroke="#000" stroke-width="3.5" stroke-linejoin="round"/>
<line x1="1563.2" y1="1666.1" x2="1572.4" y2="1666.1" stroke="#000" stroke-width="2.8"/>
<rect x="1572.4" y="1689.3" width="200.2" height="22.9" fill="#9a1a00" stroke="#000" stroke-width="3.5" stroke-linejoin="round"/>
<line x1="1563.2" y1="1700.8" x2="1572.4" y2="1700.8" stroke="#000" stroke-width="2.8"/>
<rect x="1572.4" y="1724.0" width="210.3" height="22.9" fill="#b3b3b3" stroke="#000" stroke-width="3.5" stroke-linejoin="round"/>
<line x1="1563.2" y1="1735.5" x2="1572.4" y2="1735.5" stroke="#000" stroke-width="2.8"/>
<rect x="1572.4" y="1758.7" width="211.8" height="22.9" fill="#b3b3b3" stroke="#000" stroke-width="3.5" stroke-linejoin="round"/>
<line x1="1563.2" y1="1770.1" x2="1572.4" y2="1770.1" stroke="#000" stroke-width="2.8"/>
<line x1="1572.4" y1="1094.0" x2="1572.4" y2="1786.8" stroke="#000" stroke-width="3.2"/>
<line x1="1570.8" y1="1785.3" x2="1945.0" y2="1785.3" stroke="#000" stroke-width="3.2"/>
<line x1="1572.5" y1="1785.3" x2="1572.5" y2="1794.3" stroke="#000" stroke-width="3"/>
<line x1="1696.0" y1="1785.3" x2="1696.0" y2="1794.3" stroke="#000" stroke-width="3"/>
<line x1="1819.6" y1="1785.3" x2="1819.6" y2="1794.3" stroke="#000" stroke-width="3"/>
<line x1="1943.1" y1="1785.3" x2="1943.1" y2="1794.3" stroke="#000" stroke-width="3"/>
</g>
<g font-size="18.65" text-anchor="end" stroke="#000" stroke-width="0.25">
<text x="1562.0" y="1118.3">Process_utilizing_auntophagic_mechanism</text>
<text x="1560.4" y="1153.0">Positive_regulation_of_catabolic_process</text>
<text x="1563.6" y="1187.6">Positive_regulation_of_cellular_catabolic_process</text>
<text x="1559.4" y="1222.3">Protein_acylation</text>
<text x="1559.8" y="1257.0">Protein_acetylation</text>
<text x="1559.8" y="1291.7">Peptidyl_lysine_acetylation</text>
<text x="1559.8" y="1326.3">Dephosphorylation</text>
<text x="1559.8" y="1361.0">Peptidyl_lysine_modification</text>
<text x="1559.8" y="1395.7">Myeloid_cell_differenciation</text>
<text x="1558.4" y="1430.3">Regulation_of_chromosome_organization</text>
<text x="1559.4" y="1465.0">RNA_catabolic_process</text>
<text x="1559.8" y="1499.7">Regulation_of_mRNA_metabolic_process</text>
<text x="1559.4" y="1534.3">Covalent_chromatin_modification</text>
<text x="1561.8" y="1569.0">RNA_splicing_via_tranesterification</text>
<text x="1559.8" y="1603.7">RNA_splicing</text>
<text x="1561.4" y="1638.4">Positive_regulation_of_MAP_kinase_activity</text>
<text x="1560.4" y="1673.0">Regulation_of_MAP_kinase_activity</text>
<text x="1560.8" y="1707.7">Positive_regulation_of_protein_SeThr_kinase_activity</text>
<text x="1561.8" y="1742.4">Establishment_of_organelle_localization</text>
<text x="1562.0" y="1777.0">Protein_localization_to_nucleus</text>
</g>
<g font-size="24" text-anchor="middle" stroke="#000" stroke-width="0.3">
<text x="1570.4" y="1818.8" textLength="14.6" lengthAdjust="spacingAndGlyphs">0</text>
<text x="1693.4" y="1818.8" textLength="14.6" lengthAdjust="spacingAndGlyphs">5</text>
<text x="1821.0" y="1818.8" textLength="29.2" lengthAdjust="spacingAndGlyphs">10</text>
<text x="1944.5" y="1818.8" textLength="29.2" lengthAdjust="spacingAndGlyphs">15</text>
</g>
<text x="1109.2" y="1354.8" font-size="30" text-anchor="middle" textLength="327.5" lengthAdjust="spacingAndGlyphs" transform="rotate(-90 1109.2 1354.8)" stroke="#000" stroke-width="0.35">GO Biological processes</text>
<text x="1683.5" y="1857.8" font-size="29.5" textLength="187.5" lengthAdjust="spacingAndGlyphs" stroke="#000" stroke-width="0.35">-log<tspan font-size="16.5" dy="9.5">10</tspan><tspan dy="-9.5">(q-value)</tspan></text>
<text x="1856.7" y="1151.6" font-size="24.3" textLength="133.0" lengthAdjust="spacingAndGlyphs" font-weight="bold" font-style="italic" fill="#127c3b">Proteolysis</text>
<text x="1843.5" y="1281.3" font-size="24.3" textLength="239.5" lengthAdjust="spacingAndGlyphs" font-weight="bold" font-style="italic" fill="#8ab591">Protein modification</text>
<text x="1843.5" y="1403.0" font-size="24.3" textLength="212.0" lengthAdjust="spacingAndGlyphs" font-weight="bold" font-style="italic" fill="#8b5a2b">Immune response</text>
<text x="1902.0" y="1440.7" font-size="24.3" textLength="146.0" lengthAdjust="spacingAndGlyphs" font-weight="bold" font-style="italic" fill="#0b2f4f">Nucleic acid</text>
<text x="1902.0" y="1470.2" font-size="24.3" font-weight="bold" font-style="italic" fill="#0b2f4f">regulation/</text>
<text x="1902.0" y="1499.7" font-size="24.3" textLength="149.0" lengthAdjust="spacingAndGlyphs" font-weight="bold" font-style="italic" fill="#0b2f4f">modification</text>
<text x="1868.3" y="1585.3" font-size="24.3" textLength="96.0" lengthAdjust="spacingAndGlyphs" font-weight="bold" font-style="italic" fill="#8b2252">Splicing</text>
<text x="1801.0" y="1672.4" font-size="24.3" textLength="168.0" lengthAdjust="spacingAndGlyphs" font-weight="bold" font-style="italic" fill="#9a1a00">Cell signalling</text>
<text x="1825.0" y="1756.7" font-size="24.3" textLength="67.5" lengthAdjust="spacingAndGlyphs" font-weight="bold" font-style="italic" fill="#ababab">Other</text>
</svg>
</body></html>
